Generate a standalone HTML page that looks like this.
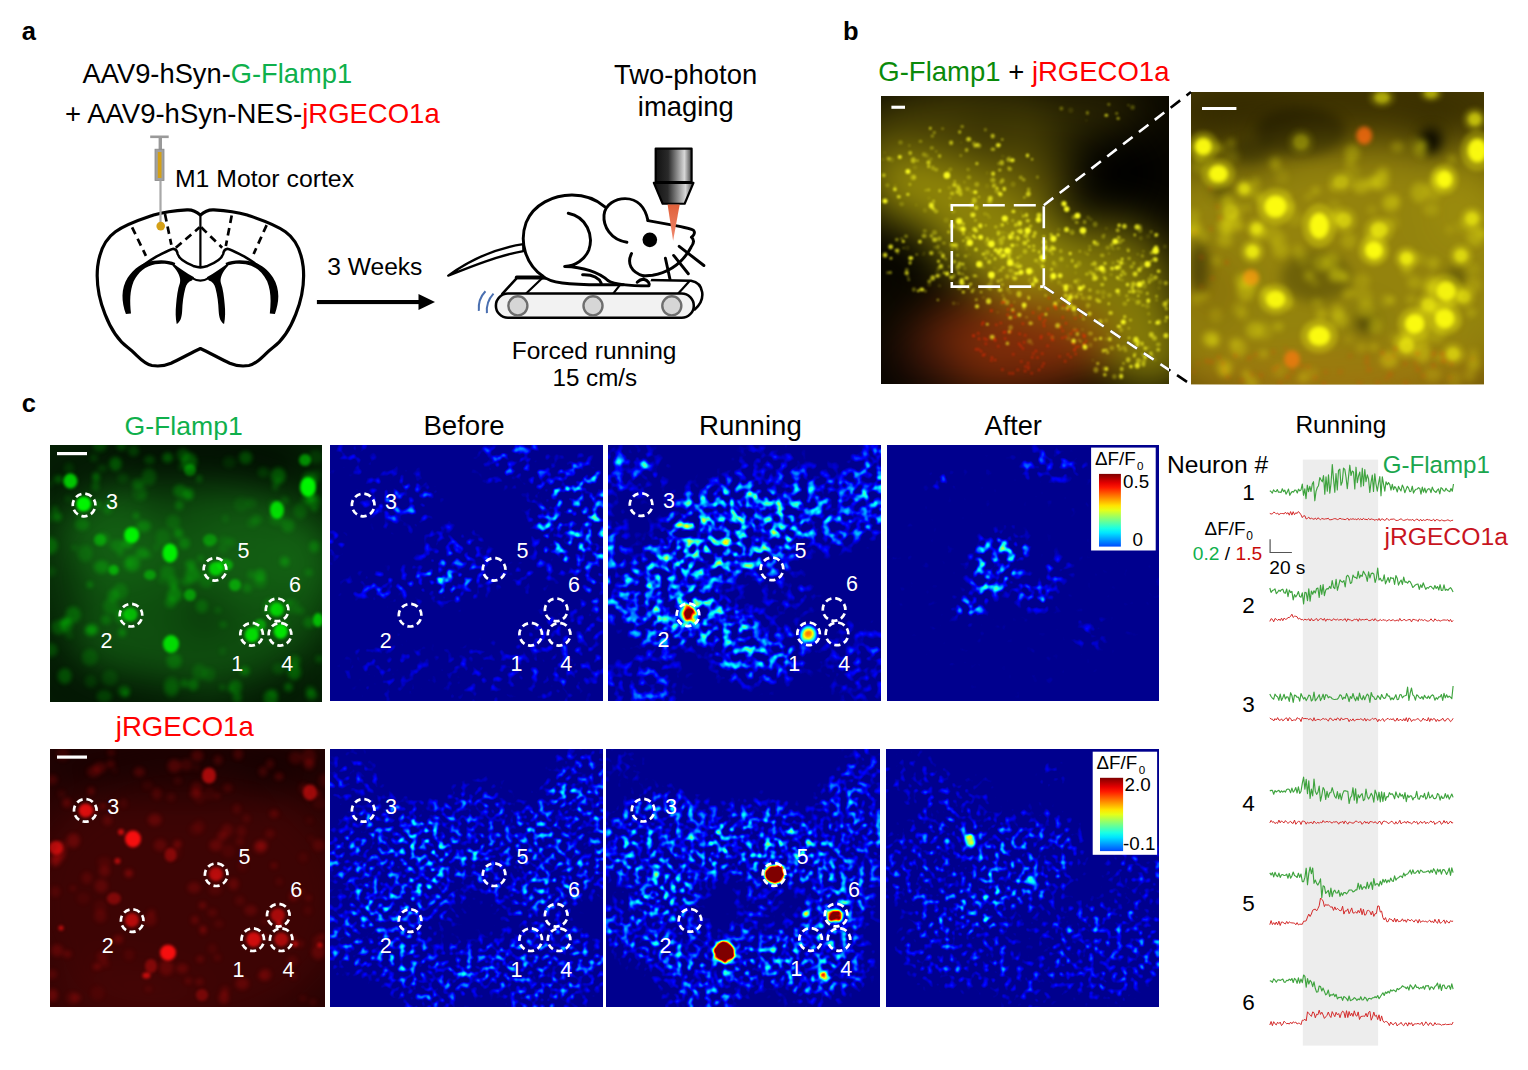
<!DOCTYPE html>
<html><head><meta charset="utf-8"><style>
html,body{margin:0;padding:0;background:#fff;}
body{width:1528px;height:1070px;overflow:hidden;position:relative;}
svg{position:absolute;left:0;top:0;}
text{font-family:"Liberation Sans",sans-serif;}
</style></head><body>
<svg width="1528" height="1070" viewBox="0 0 1528 1070">
<defs><clipPath id="cp1"><rect x="881" y="96" width="288" height="288"/></clipPath>
<filter id="fb2" x="841" y="56" width="368" height="368" filterUnits="userSpaceOnUse" color-interpolation-filters="sRGB"><feGaussianBlur stdDeviation="22"/></filter>
<filter id="fc3" x="861" y="76" width="328" height="328" filterUnits="userSpaceOnUse" color-interpolation-filters="sRGB"><feGaussianBlur stdDeviation="0.8"/></filter>
<clipPath id="cp4"><rect x="1191" y="92" width="293" height="292.5"/></clipPath>
<filter id="fb5" x="1151" y="52" width="373" height="372.5" filterUnits="userSpaceOnUse" color-interpolation-filters="sRGB"><feGaussianBlur stdDeviation="20"/></filter>
<filter id="fm6" x="1161" y="62" width="353" height="352.5" filterUnits="userSpaceOnUse" color-interpolation-filters="sRGB"><feGaussianBlur stdDeviation="6"/></filter>
<filter id="fd7" x="1171" y="72" width="333" height="332.5" filterUnits="userSpaceOnUse" color-interpolation-filters="sRGB"><feGaussianBlur stdDeviation="3"/></filter>
<filter id="fc8" x="1171" y="72" width="333" height="332.5" filterUnits="userSpaceOnUse" color-interpolation-filters="sRGB"><feGaussianBlur stdDeviation="2.2"/></filter>
<linearGradient id="jetbar" x1="0" y1="0" x2="0" y2="1"><stop offset="0.000" stop-color="#7f0000"/><stop offset="0.062" stop-color="#b20000"/><stop offset="0.125" stop-color="#e50000"/><stop offset="0.188" stop-color="#ff1900"/><stop offset="0.250" stop-color="#ff4c00"/><stop offset="0.312" stop-color="#ff7f00"/><stop offset="0.375" stop-color="#ffb200"/><stop offset="0.438" stop-color="#ffe500"/><stop offset="0.500" stop-color="#e5ff19"/><stop offset="0.562" stop-color="#b2ff4c"/><stop offset="0.625" stop-color="#7fff7f"/><stop offset="0.688" stop-color="#4cffb2"/><stop offset="0.750" stop-color="#19ffe5"/><stop offset="0.812" stop-color="#00e5ff"/><stop offset="0.875" stop-color="#00b2ff"/><stop offset="0.938" stop-color="#007fff"/><stop offset="1.000" stop-color="#004cff"/></linearGradient>
<clipPath id="cp9"><rect x="50" y="445" width="272" height="257"/></clipPath>
<filter id="fb10" x="10" y="405" width="352" height="337" filterUnits="userSpaceOnUse" color-interpolation-filters="sRGB"><feGaussianBlur stdDeviation="18"/></filter>
<filter id="fd11" x="30" y="425" width="312" height="297" filterUnits="userSpaceOnUse" color-interpolation-filters="sRGB"><feGaussianBlur stdDeviation="2.2"/></filter>
<filter id="fc12" x="30" y="425" width="312" height="297" filterUnits="userSpaceOnUse" color-interpolation-filters="sRGB"><feGaussianBlur stdDeviation="1.6"/></filter>
<clipPath id="cp13"><rect x="50" y="749" width="275" height="258"/></clipPath>
<filter id="fb14" x="10" y="709" width="355" height="338" filterUnits="userSpaceOnUse" color-interpolation-filters="sRGB"><feGaussianBlur stdDeviation="18"/></filter>
<filter id="fd15" x="30" y="729" width="315" height="298" filterUnits="userSpaceOnUse" color-interpolation-filters="sRGB"><feGaussianBlur stdDeviation="2.2"/></filter>
<filter id="fc16" x="30" y="729" width="315" height="298" filterUnits="userSpaceOnUse" color-interpolation-filters="sRGB"><feGaussianBlur stdDeviation="1.6"/></filter>
<filter id="hmtb" x="330" y="445" width="273" height="256" filterUnits="userSpaceOnUse" color-interpolation-filters="sRGB">
<feTurbulence type="fractalNoise" baseFrequency="0.13" numOctaves="4" seed="2" result="n"/>
<feColorMatrix in="n" type="matrix" values="1 0 0 0 0 1 0 0 0 0 1 0 0 0 0 0 0 0 0 1" result="ng"/>
<feComponentTransfer in="ng" result="nt"><feFuncR type="linear" slope="3" intercept="-1.41"/><feFuncG type="linear" slope="3" intercept="-1.41"/><feFuncB type="linear" slope="3" intercept="-1.41"/></feComponentTransfer>
<feGaussianBlur in="SourceGraphic" stdDeviation="10" result="sd"/>
<feColorMatrix in="sd" type="matrix" values="1 0 0 0 0 1 0 0 0 0 1 0 0 0 0 0 0 0 0 1" result="dens"/>
<feGaussianBlur in="SourceGraphic" stdDeviation="2" result="sh"/>
<feColorMatrix in="sh" type="matrix" values="0 1 0 0 0 0 1 0 0 0 0 1 0 0 0 0 0 0 0 1" result="hot"/>
<feComposite in="nt" in2="dens" operator="arithmetic" k1="0.62" k2="0" k3="0" k4="0" result="prod"/>
<feComposite in="prod" in2="hot" operator="arithmetic" k1="0" k2="1" k3="1" k4="0" result="sum"/>
<feGaussianBlur in="sum" stdDeviation="1"/>
<feComponentTransfer><feFuncR type="linear" slope="1.2" intercept="-0.05"/><feFuncG type="linear" slope="1.2" intercept="-0.05"/><feFuncB type="linear" slope="1.2" intercept="-0.05"/></feComponentTransfer>
<feComponentTransfer><feFuncR type="table" tableValues="0 0 0 0 0.5 1 1 1 0.5"/><feFuncG type="table" tableValues="0 0 0.5 1 1 1 0.5 0 0"/><feFuncB type="table" tableValues="0.56 1 1 1 0.5 0 0 0 0"/><feFuncA type="linear" slope="0" intercept="1"/></feComponentTransfer>
</filter>
<filter id="hmtr" x="608" y="445" width="273" height="256" filterUnits="userSpaceOnUse" color-interpolation-filters="sRGB">
<feTurbulence type="fractalNoise" baseFrequency="0.13" numOctaves="4" seed="5" result="n"/>
<feColorMatrix in="n" type="matrix" values="1 0 0 0 0 1 0 0 0 0 1 0 0 0 0 0 0 0 0 1" result="ng"/>
<feComponentTransfer in="ng" result="nt"><feFuncR type="linear" slope="2.5" intercept="-1"/><feFuncG type="linear" slope="2.5" intercept="-1"/><feFuncB type="linear" slope="2.5" intercept="-1"/></feComponentTransfer>
<feGaussianBlur in="SourceGraphic" stdDeviation="10" result="sd"/>
<feColorMatrix in="sd" type="matrix" values="1 0 0 0 0 1 0 0 0 0 1 0 0 0 0 0 0 0 0 1" result="dens"/>
<feGaussianBlur in="SourceGraphic" stdDeviation="2.5" result="sh"/>
<feColorMatrix in="sh" type="matrix" values="0 1 0 0 0 0 1 0 0 0 0 1 0 0 0 0 0 0 0 1" result="hot"/>
<feComposite in="nt" in2="dens" operator="arithmetic" k1="0.66" k2="0" k3="0" k4="0" result="prod"/>
<feComposite in="prod" in2="hot" operator="arithmetic" k1="0" k2="1" k3="1" k4="0" result="sum"/>
<feGaussianBlur in="sum" stdDeviation="1"/>
<feComponentTransfer><feFuncR type="linear" slope="1.2" intercept="-0.05"/><feFuncG type="linear" slope="1.2" intercept="-0.05"/><feFuncB type="linear" slope="1.2" intercept="-0.05"/></feComponentTransfer>
<feComponentTransfer><feFuncR type="table" tableValues="0 0 0 0 0.5 1 1 1 0.5"/><feFuncG type="table" tableValues="0 0 0.5 1 1 1 0.5 0 0"/><feFuncB type="table" tableValues="0.56 1 1 1 0.5 0 0 0 0"/><feFuncA type="linear" slope="0" intercept="1"/></feComponentTransfer>
</filter>
<filter id="hmta" x="887" y="445" width="272" height="256" filterUnits="userSpaceOnUse" color-interpolation-filters="sRGB">
<feTurbulence type="fractalNoise" baseFrequency="0.13" numOctaves="4" seed="8" result="n"/>
<feColorMatrix in="n" type="matrix" values="1 0 0 0 0 1 0 0 0 0 1 0 0 0 0 0 0 0 0 1" result="ng"/>
<feComponentTransfer in="ng" result="nt"><feFuncR type="linear" slope="3" intercept="-1.32"/><feFuncG type="linear" slope="3" intercept="-1.32"/><feFuncB type="linear" slope="3" intercept="-1.32"/></feComponentTransfer>
<feGaussianBlur in="SourceGraphic" stdDeviation="6" result="sd"/>
<feColorMatrix in="sd" type="matrix" values="1 0 0 0 0 1 0 0 0 0 1 0 0 0 0 0 0 0 0 1" result="dens"/>
<feGaussianBlur in="SourceGraphic" stdDeviation="2" result="sh"/>
<feColorMatrix in="sh" type="matrix" values="0 1 0 0 0 0 1 0 0 0 0 1 0 0 0 0 0 0 0 1" result="hot"/>
<feComposite in="nt" in2="dens" operator="arithmetic" k1="0.6" k2="0" k3="0" k4="0" result="prod"/>
<feComposite in="prod" in2="hot" operator="arithmetic" k1="0" k2="1" k3="1" k4="0" result="sum"/>
<feGaussianBlur in="sum" stdDeviation="1"/>
<feComponentTransfer><feFuncR type="linear" slope="1.2" intercept="-0.05"/><feFuncG type="linear" slope="1.2" intercept="-0.05"/><feFuncB type="linear" slope="1.2" intercept="-0.05"/></feComponentTransfer>
<feComponentTransfer><feFuncR type="table" tableValues="0 0 0 0 0.5 1 1 1 0.5"/><feFuncG type="table" tableValues="0 0 0.5 1 1 1 0.5 0 0"/><feFuncB type="table" tableValues="0.56 1 1 1 0.5 0 0 0 0"/><feFuncA type="linear" slope="0" intercept="1"/></feComponentTransfer>
</filter>
<filter id="hmbb" x="330" y="749" width="273" height="258" filterUnits="userSpaceOnUse" color-interpolation-filters="sRGB">
<feTurbulence type="fractalNoise" baseFrequency="0.18" numOctaves="3" seed="11" result="n"/>
<feColorMatrix in="n" type="matrix" values="1 0 0 0 0 1 0 0 0 0 1 0 0 0 0 0 0 0 0 1" result="ng"/>
<feComponentTransfer in="ng" result="nt"><feFuncR type="linear" slope="3" intercept="-1.35"/><feFuncG type="linear" slope="3" intercept="-1.35"/><feFuncB type="linear" slope="3" intercept="-1.35"/></feComponentTransfer>
<feGaussianBlur in="SourceGraphic" stdDeviation="9" result="sd"/>
<feColorMatrix in="sd" type="matrix" values="1 0 0 0 0 1 0 0 0 0 1 0 0 0 0 0 0 0 0 1" result="dens"/>
<feGaussianBlur in="SourceGraphic" stdDeviation="2" result="sh"/>
<feColorMatrix in="sh" type="matrix" values="0 1 0 0 0 0 1 0 0 0 0 1 0 0 0 0 0 0 0 1" result="hot"/>
<feComposite in="nt" in2="dens" operator="arithmetic" k1="0.65" k2="0" k3="0" k4="0" result="prod"/>
<feComposite in="prod" in2="hot" operator="arithmetic" k1="0" k2="1" k3="1" k4="0" result="sum"/>
<feGaussianBlur in="sum" stdDeviation="0.9"/>
<feComponentTransfer><feFuncR type="linear" slope="1.2" intercept="-0.05"/><feFuncG type="linear" slope="1.2" intercept="-0.05"/><feFuncB type="linear" slope="1.2" intercept="-0.05"/></feComponentTransfer>
<feComponentTransfer><feFuncR type="table" tableValues="0 0 0 0 0.5 1 1 1 0.5"/><feFuncG type="table" tableValues="0 0 0.5 1 1 1 0.5 0 0"/><feFuncB type="table" tableValues="0.56 1 1 1 0.5 0 0 0 0"/><feFuncA type="linear" slope="0" intercept="1"/></feComponentTransfer>
</filter>
<filter id="hmbr" x="606" y="749" width="274" height="258" filterUnits="userSpaceOnUse" color-interpolation-filters="sRGB">
<feTurbulence type="fractalNoise" baseFrequency="0.17" numOctaves="3" seed="13" result="n"/>
<feColorMatrix in="n" type="matrix" values="1 0 0 0 0 1 0 0 0 0 1 0 0 0 0 0 0 0 0 1" result="ng"/>
<feComponentTransfer in="ng" result="nt"><feFuncR type="linear" slope="2.8" intercept="-1.176"/><feFuncG type="linear" slope="2.8" intercept="-1.176"/><feFuncB type="linear" slope="2.8" intercept="-1.176"/></feComponentTransfer>
<feGaussianBlur in="SourceGraphic" stdDeviation="9" result="sd"/>
<feColorMatrix in="sd" type="matrix" values="1 0 0 0 0 1 0 0 0 0 1 0 0 0 0 0 0 0 0 1" result="dens"/>
<feGaussianBlur in="SourceGraphic" stdDeviation="1.5" result="sh"/>
<feColorMatrix in="sh" type="matrix" values="0 1 0 0 0 0 1 0 0 0 0 1 0 0 0 0 0 0 0 1" result="hot"/>
<feComposite in="nt" in2="dens" operator="arithmetic" k1="0.65" k2="0" k3="0" k4="0" result="prod"/>
<feComposite in="prod" in2="hot" operator="arithmetic" k1="0" k2="1" k3="1" k4="0" result="sum"/>
<feGaussianBlur in="sum" stdDeviation="0.9"/>
<feComponentTransfer><feFuncR type="linear" slope="1.2" intercept="-0.05"/><feFuncG type="linear" slope="1.2" intercept="-0.05"/><feFuncB type="linear" slope="1.2" intercept="-0.05"/></feComponentTransfer>
<feComponentTransfer><feFuncR type="table" tableValues="0 0 0 0 0.5 1 1 1 0.5"/><feFuncG type="table" tableValues="0 0 0.5 1 1 1 0.5 0 0"/><feFuncB type="table" tableValues="0.56 1 1 1 0.5 0 0 0 0"/><feFuncA type="linear" slope="0" intercept="1"/></feComponentTransfer>
</filter>
<filter id="hmba" x="886" y="749" width="273" height="258" filterUnits="userSpaceOnUse" color-interpolation-filters="sRGB">
<feTurbulence type="fractalNoise" baseFrequency="0.18" numOctaves="3" seed="17" result="n"/>
<feColorMatrix in="n" type="matrix" values="1 0 0 0 0 1 0 0 0 0 1 0 0 0 0 0 0 0 0 1" result="ng"/>
<feComponentTransfer in="ng" result="nt"><feFuncR type="linear" slope="3" intercept="-1.41"/><feFuncG type="linear" slope="3" intercept="-1.41"/><feFuncB type="linear" slope="3" intercept="-1.41"/></feComponentTransfer>
<feGaussianBlur in="SourceGraphic" stdDeviation="9" result="sd"/>
<feColorMatrix in="sd" type="matrix" values="1 0 0 0 0 1 0 0 0 0 1 0 0 0 0 0 0 0 0 1" result="dens"/>
<feGaussianBlur in="SourceGraphic" stdDeviation="1.5" result="sh"/>
<feColorMatrix in="sh" type="matrix" values="0 1 0 0 0 0 1 0 0 0 0 1 0 0 0 0 0 0 0 1" result="hot"/>
<feComposite in="nt" in2="dens" operator="arithmetic" k1="0.6" k2="0" k3="0" k4="0" result="prod"/>
<feComposite in="prod" in2="hot" operator="arithmetic" k1="0" k2="1" k3="1" k4="0" result="sum"/>
<feGaussianBlur in="sum" stdDeviation="0.9"/>
<feComponentTransfer><feFuncR type="linear" slope="1.2" intercept="-0.05"/><feFuncG type="linear" slope="1.2" intercept="-0.05"/><feFuncB type="linear" slope="1.2" intercept="-0.05"/></feComponentTransfer>
<feComponentTransfer><feFuncR type="table" tableValues="0 0 0 0 0.5 1 1 1 0.5"/><feFuncG type="table" tableValues="0 0 0.5 1 1 1 0.5 0 0"/><feFuncB type="table" tableValues="0.56 1 1 1 0.5 0 0 0 0"/><feFuncA type="linear" slope="0" intercept="1"/></feComponentTransfer>
</filter></defs>
<text x="21.8" y="39.7" font-size="25.50" font-weight="bold"><tspan fill="#000">a</tspan></text>
<text x="82.6" y="83.0" font-size="27.30"><tspan fill="#000">AAV9-hSyn-</tspan><tspan fill="#0fb04c">G-Flamp1</tspan></text>
<text x="65.0" y="123.4" font-size="27.50"><tspan fill="#000">+ AAV9-hSyn-NES-</tspan><tspan fill="#ff0000">jRGECO1a</tspan></text>
<text x="174.9" y="186.9" font-size="24.80"><tspan fill="#000">M1 Motor cortex</tspan></text>
<text x="327.2" y="274.6" font-size="24.60"><tspan fill="#000">3 Weeks</tspan></text>
<text x="614.0" y="83.5" font-size="27.40"><tspan fill="#000">Two-photon</tspan></text>
<text x="637.8" y="116.3" font-size="27.40"><tspan fill="#000">imaging</tspan></text>
<text x="511.7" y="358.6" font-size="24.50"><tspan fill="#000">Forced running</tspan></text>
<text x="552.5" y="386.4" font-size="24.20"><tspan fill="#000">15 cm/s</tspan></text>
<g transform="translate(90 200) scale(0.158856)" fill="none" stroke="#000" stroke-linejoin="round" stroke-linecap="round">
<path stroke-width="20" fill="#fff" d="M695,95 C670,72 640,60 610,62 C540,66 470,74 400,95 C320,122 230,150 160,200 C90,250 60,320 48,420 C38,520 55,620 95,720 C130,810 170,880 240,930 C300,975 330,1030 390,1042 C430,1048 470,1045 510,1028 C580,995 640,960 695,935 C750,960 810,995 880,1028 C920,1045 960,1048 1000,1042 C1060,1030 1090,975 1150,930 C1220,880 1260,810 1295,720 C1335,620 1352,520 1342,420 C1330,320 1300,250 1230,200 C1160,150 1070,122 990,95 C920,74 850,66 780,62 C750,60 720,72 695,95 Z"/>
<path stroke-width="14" d="M695,100 L695,420"/>
<path stroke-width="16" d="M280,458 C320,420 360,390 420,355 C460,335 500,312 520,308 C540,306 548,318 552,340 C560,370 600,395 650,415 C675,423 690,424 695,424 C700,424 715,423 740,415 C790,395 830,370 838,340 C842,318 850,306 870,308 C890,312 930,335 970,355 C1030,390 1070,420 1110,458"/>
<g>
<path stroke="none" fill="#000" d="M226,718 C198,640 193,560 238,488 C278,428 330,392 400,382 C450,375 500,378 537,396 L530,414 C490,400 450,398 410,404 C348,416 305,452 275,512 C250,572 250,640 258,714 Z"/>
<path stroke="none" fill="#000" d="M522,398 C565,428 605,462 655,486 L642,506 C620,512 606,530 600,556 C588,600 582,650 580,700 C577,742 568,768 546,780 C538,742 538,700 542,660 C546,610 552,560 566,522 C574,492 556,452 520,414 Z"/>
</g>
<g transform="translate(1390 0) scale(-1 1)">
<path stroke="none" fill="#000" d="M226,718 C198,640 193,560 238,488 C278,428 330,392 400,382 C450,375 500,378 537,396 L530,414 C490,400 450,398 410,404 C348,416 305,452 275,512 C250,572 250,640 258,714 Z"/>
<path stroke="none" fill="#000" d="M522,398 C565,428 605,462 655,486 L642,506 C620,512 606,530 600,556 C588,600 582,650 580,700 C577,742 568,768 546,780 C538,742 538,700 542,660 C546,610 552,560 566,522 C574,492 556,452 520,414 Z"/>
</g>
<path stroke-width="14" d="M640,490 C665,505 680,508 695,508 C710,508 725,505 750,490"/>
<g stroke-width="17" stroke-dasharray="48,32" stroke-linecap="butt">
<line x1="265" y1="172" x2="352" y2="352"/>
<line x1="472" y1="88" x2="512" y2="282"/>
<line x1="540" y1="300" x2="690" y2="172"/>
<line x1="700" y1="172" x2="832" y2="300"/>
<line x1="892" y1="98" x2="855" y2="290"/>
<line x1="1112" y1="158" x2="1030" y2="340"/>
</g>
</g>
<g>
<rect x="150.2" y="135.5" width="18.5" height="2.6" fill="#999"/>
<rect x="158.6" y="137" width="3.4" height="13" fill="#999"/>
<rect x="155" y="149.2" width="9" height="31.4" fill="#a0a0a0" stroke="#888" stroke-width="0.8"/>
<rect x="157.8" y="152" width="3.7" height="26" fill="#d4a017"/>
<rect x="159.4" y="180.5" width="2.2" height="43" fill="#a8a8a8"/>
<circle cx="160.7" cy="226.1" r="4.3" fill="#d4a017"/>
</g>
<rect x="316.9" y="300" width="103" height="4.1" fill="#000"/>
<path d="M418.5,294 L435,302 L418.5,310 Z" fill="#000"/>
<defs><linearGradient id="objg" x1="0" x2="1" y1="0" y2="0"><stop offset="0" stop-color="#111"/><stop offset="0.35" stop-color="#2a2a2a"/><stop offset="0.8" stop-color="#d8d8d8"/><stop offset="1" stop-color="#444"/></linearGradient><linearGradient id="beamg" x1="0" x2="0" y1="0" y2="1"><stop offset="0" stop-color="#e0603a"/><stop offset="1" stop-color="#f08a70"/></linearGradient></defs>
<g transform="translate(440 140) scale(0.183250)" stroke="#000" stroke-linejoin="round" stroke-linecap="round">
<rect x="1177" y="47" width="196" height="183" fill="url(#objg)" stroke-width="12"/>
<path d="M1167,234 L1383,234 L1335,348 L1215,348 Z" fill="url(#objg)" stroke-width="12"/>
<path d="M340,840 L420,752 L1370,768 C1440,780 1455,870 1390,925" fill="#fff" stroke-width="14"/>
<path d="M418,750 L598,750" stroke-width="20"/>
<line x1="560" y1="752" x2="470" y2="838" stroke-width="12"/>
<line x1="1005" y1="762" x2="945" y2="838" stroke-width="12"/>
<line x1="1362" y1="770" x2="1300" y2="838" stroke-width="12"/>
<rect x="305" y="838" width="1080" height="132" rx="66" fill="#f2f2f2" stroke-width="14"/>
<circle cx="425" cy="905" r="52" fill="#d6d6d6" stroke="#6e6e6e" stroke-width="13"/>
<circle cx="835" cy="905" r="52" fill="#d6d6d6" stroke="#6e6e6e" stroke-width="13"/>
<circle cx="1265" cy="905" r="52" fill="#d6d6d6" stroke="#6e6e6e" stroke-width="13"/>
<path d="M248,825 C222,852 208,890 212,932 M292,838 C266,866 252,905 256,945" fill="none" stroke="#4a6fb0" stroke-width="11" stroke-linecap="butt"/>
<path d="M455,568 C320,588 170,650 45,740 C170,690 320,630 455,606 Z" fill="#fff" stroke-width="13"/>
<path d="M560,742 C470,680 430,560 470,450 C510,350 620,300 720,300 C800,300 860,330 900,365 L1135,440 L1300,470 C1340,480 1380,485 1385,495 C1395,510 1380,525 1375,530 C1390,540 1385,560 1370,580 C1330,660 1260,720 1160,738 L1140,795 L1000,790 L880,790 C700,790 600,780 560,742 Z" fill="#fff" stroke="none"/>
<g fill="none" stroke-width="16">
<path d="M560,742 C470,680 430,560 470,450 C510,350 620,300 720,300 C800,300 860,330 900,365"/>
<path d="M1020,558 C930,545 890,470 895,410 C900,350 960,320 1010,320 C1080,320 1120,370 1135,440"/>
<path d="M1135,440 L1300,470 C1340,480 1380,485 1385,495 C1395,510 1380,525 1372,530 C1390,545 1385,565 1370,585 C1330,660 1260,720 1160,738 L1110,742"/>
<path d="M1045,620 C1020,670 1040,722 1112,742"/>
<path d="M700,400 C800,420 840,520 812,600 C792,650 740,688 680,690 C780,692 870,722 918,768"/>
<path d="M778,735 C840,733 868,752 880,782"/>
<path d="M560,742 C600,780 700,790 880,790 L1000,790"/>
<path d="M918,768 C960,792 1040,796 1140,796 C1146,784 1136,766 1112,760 C1092,760 1082,770 1076,776"/>
<path d="M1305,580 L1440,685 M1275,630 L1355,730 M1230,645 L1255,760"/>
</g>
<circle cx="1145" cy="545" r="40" fill="#000" stroke="none"/>
<path d="M1242,352 L1308,352 L1272,550 Z" fill="url(#beamg)" stroke="none"/>
</g>
<text x="843.0" y="39.5" font-size="25.50" font-weight="bold"><tspan fill="#000">b</tspan></text>
<text x="878.3" y="81.2" font-size="27.50"><tspan fill="#0a8a0a">G-Flamp1</tspan><tspan fill="#000"> + </tspan><tspan fill="#ff0000">jRGECO1a</tspan></text>
<g clip-path="url(#cp1)">
<rect x="881" y="96" width="288" height="288" fill="#0a0800"/>
<g filter="url(#fb2)"><ellipse cx="971.0" cy="146.0" rx="130.0" ry="60.0" fill="#4a4204" fill-opacity="0.90"/><ellipse cx="926.0" cy="191.0" rx="60.0" ry="35.0" fill="#8a800a" fill-opacity="0.90"/><ellipse cx="1011.0" cy="186.0" rx="60.0" ry="30.0" fill="#655a06" fill-opacity="0.80"/><ellipse cx="1031.0" cy="261.0" rx="190.0" ry="50.0" fill="#968c0a" fill-opacity="0.90" transform="rotate(33 1031 261)"/><ellipse cx="1111.0" cy="296.0" rx="65.0" ry="75.0" fill="#847a08" fill-opacity="0.85"/><ellipse cx="1006.0" cy="346.0" rx="100.0" ry="45.0" fill="#8a300a" fill-opacity="0.90"/><ellipse cx="921.0" cy="361.0" rx="40.0" ry="30.0" fill="#30120a" fill-opacity="0.70"/><ellipse cx="1149.0" cy="364.0" rx="35.0" ry="30.0" fill="#968c0a" fill-opacity="0.60"/><ellipse cx="909.0" cy="251.0" rx="24.0" ry="32.0" fill="#000" fill-opacity="0.90"/><ellipse cx="1119.0" cy="174.0" rx="52.0" ry="48.0" fill="#000" fill-opacity="0.90"/><ellipse cx="1071.0" cy="136.0" rx="20.0" ry="30.0" fill="#000" fill-opacity="0.50"/><ellipse cx="889.0" cy="381.0" rx="30.0" ry="30.0" fill="#000" fill-opacity="0.60"/><ellipse cx="991.0" cy="126.0" rx="20.0" ry="12.0" fill="#000" fill-opacity="0.40"/><ellipse cx="1101.0" cy="110.0" rx="45.0" ry="16.0" fill="#4a4004" fill-opacity="0.75"/><ellipse cx="1021.0" cy="266.0" rx="50.0" ry="28.0" fill="#a89e10" fill-opacity="0.50"/></g>
<g filter="url(#fc3)"><ellipse cx="1066.8" cy="286.3" rx="2.0" ry="2.2" fill="#ffff20" fill-opacity="0.68"/><ellipse cx="1073.9" cy="308.4" rx="2.5" ry="2.8" fill="#ffff20" fill-opacity="0.80"/><ellipse cx="912.3" cy="258.0" rx="1.1" ry="1.1" fill="#ffff20" fill-opacity="0.82"/><ellipse cx="994.9" cy="184.8" rx="2.1" ry="2.4" fill="#ffff20" fill-opacity="0.15"/><ellipse cx="1076.7" cy="222.3" rx="1.8" ry="1.6" fill="#ffff20" fill-opacity="0.47"/><ellipse cx="930.8" cy="159.1" rx="2.0" ry="1.6" fill="#ffff20" fill-opacity="0.22"/><ellipse cx="995.0" cy="258.8" rx="1.5" ry="1.8" fill="#ffff20" fill-opacity="0.66"/><ellipse cx="1032.3" cy="269.7" rx="1.3" ry="1.5" fill="#ffff20" fill-opacity="0.17"/><ellipse cx="1069.0" cy="334.5" rx="2.0" ry="1.7" fill="#ffff20" fill-opacity="0.09"/><ellipse cx="1091.3" cy="272.8" rx="2.4" ry="2.1" fill="#ffff20" fill-opacity="0.22"/><ellipse cx="912.8" cy="177.3" rx="2.6" ry="3.0" fill="#ffff20" fill-opacity="0.27"/><ellipse cx="1057.7" cy="325.5" rx="2.5" ry="2.6" fill="#ffff20" fill-opacity="0.58"/><ellipse cx="939.8" cy="190.8" rx="1.4" ry="1.7" fill="#ffff20" fill-opacity="0.59"/><ellipse cx="1149.7" cy="279.7" rx="2.5" ry="3.0" fill="#ffff20" fill-opacity="0.28"/><ellipse cx="1084.2" cy="235.5" rx="1.6" ry="1.4" fill="#ffff20" fill-opacity="0.17"/><ellipse cx="991.8" cy="255.2" rx="1.2" ry="1.1" fill="#ffff20" fill-opacity="0.52"/><ellipse cx="1117.9" cy="242.7" rx="1.1" ry="1.2" fill="#ffff20" fill-opacity="0.31"/><ellipse cx="1087.4" cy="112.9" rx="1.6" ry="1.8" fill="#ffff20" fill-opacity="0.42"/><ellipse cx="1121.1" cy="275.2" rx="1.6" ry="1.6" fill="#ffff20" fill-opacity="0.60"/><ellipse cx="958.0" cy="303.6" rx="1.2" ry="1.4" fill="#ffff20" fill-opacity="0.10"/><ellipse cx="987.1" cy="186.1" rx="2.2" ry="2.5" fill="#ffff20" fill-opacity="0.10"/><ellipse cx="1155.5" cy="277.4" rx="2.3" ry="2.2" fill="#ffff20" fill-opacity="0.50"/><ellipse cx="937.5" cy="248.8" rx="1.1" ry="0.9" fill="#ffff20" fill-opacity="0.20"/><ellipse cx="1024.8" cy="243.0" rx="2.5" ry="2.2" fill="#ffff20" fill-opacity="0.65"/><ellipse cx="997.0" cy="190.5" rx="2.5" ry="2.9" fill="#ffff20" fill-opacity="0.31"/><ellipse cx="1012.7" cy="309.9" rx="1.6" ry="1.6" fill="#ffff20" fill-opacity="0.67"/><ellipse cx="972.2" cy="291.5" rx="1.3" ry="1.4" fill="#ffff20" fill-opacity="0.69"/><ellipse cx="921.8" cy="289.5" rx="2.4" ry="1.9" fill="#ffff20" fill-opacity="0.82"/><ellipse cx="1024.3" cy="197.4" rx="1.2" ry="1.2" fill="#ffff20" fill-opacity="0.52"/><ellipse cx="1024.1" cy="304.9" rx="2.5" ry="2.3" fill="#ffff20" fill-opacity="0.80"/><ellipse cx="1019.3" cy="274.0" rx="1.9" ry="1.8" fill="#ffff20" fill-opacity="0.29"/><ellipse cx="966.8" cy="248.8" rx="1.4" ry="1.1" fill="#ffff20" fill-opacity="0.18"/><ellipse cx="1090.4" cy="345.0" rx="2.1" ry="2.6" fill="#ffff20" fill-opacity="0.18"/><ellipse cx="945.8" cy="259.1" rx="1.2" ry="1.4" fill="#ffff20" fill-opacity="0.46"/><ellipse cx="1000.6" cy="270.3" rx="1.7" ry="1.5" fill="#ffff20" fill-opacity="0.51"/><ellipse cx="1003.4" cy="237.8" rx="2.3" ry="2.3" fill="#ffff20" fill-opacity="0.37"/><ellipse cx="1021.3" cy="212.6" rx="1.2" ry="1.4" fill="#ffff20" fill-opacity="0.10"/><ellipse cx="1165.0" cy="246.5" rx="1.8" ry="2.1" fill="#ffff20" fill-opacity="0.16"/><ellipse cx="1100.4" cy="321.7" rx="2.2" ry="2.6" fill="#ffff20" fill-opacity="0.54"/><ellipse cx="1102.2" cy="255.3" rx="2.3" ry="1.9" fill="#ffff20" fill-opacity="0.38"/><ellipse cx="952.6" cy="211.8" rx="1.3" ry="1.5" fill="#ffff20" fill-opacity="0.28"/><ellipse cx="1109.8" cy="339.2" rx="1.8" ry="2.1" fill="#ffff20" fill-opacity="0.74"/><ellipse cx="992.9" cy="180.0" rx="2.6" ry="2.5" fill="#ffff20" fill-opacity="0.42"/><ellipse cx="1141.9" cy="267.1" rx="2.2" ry="2.2" fill="#ffff20" fill-opacity="0.27"/><ellipse cx="1089.8" cy="249.8" rx="1.7" ry="1.5" fill="#ffff20" fill-opacity="0.34"/><ellipse cx="1019.0" cy="294.1" rx="2.6" ry="3.1" fill="#ffff20" fill-opacity="0.54"/><ellipse cx="1071.7" cy="288.2" rx="1.8" ry="1.7" fill="#ffff20" fill-opacity="0.14"/><ellipse cx="1138.4" cy="342.0" rx="1.5" ry="1.7" fill="#ffff20" fill-opacity="0.75"/><ellipse cx="1039.3" cy="252.0" rx="1.6" ry="1.8" fill="#ffff20" fill-opacity="0.67"/><ellipse cx="928.5" cy="162.5" rx="2.1" ry="2.3" fill="#ffff20" fill-opacity="0.65"/><ellipse cx="968.1" cy="169.5" rx="1.6" ry="1.8" fill="#ffff20" fill-opacity="0.27"/><ellipse cx="883.8" cy="175.3" rx="1.8" ry="2.0" fill="#ffff20" fill-opacity="0.59"/><ellipse cx="1072.2" cy="260.9" rx="1.5" ry="1.8" fill="#ffff20" fill-opacity="0.56"/><ellipse cx="1111.7" cy="244.8" rx="2.0" ry="1.6" fill="#ffff20" fill-opacity="0.47"/><ellipse cx="934.3" cy="132.6" rx="1.5" ry="1.6" fill="#ffff20" fill-opacity="0.40"/><ellipse cx="961.3" cy="282.6" rx="2.3" ry="2.5" fill="#ffff20" fill-opacity="0.69"/><ellipse cx="1017.7" cy="237.3" rx="1.6" ry="1.7" fill="#ffff20" fill-opacity="0.63"/><ellipse cx="998.1" cy="145.2" rx="2.3" ry="2.2" fill="#ffff20" fill-opacity="0.73"/><ellipse cx="1085.0" cy="347.0" rx="2.4" ry="2.6" fill="#ffff20" fill-opacity="0.85"/><ellipse cx="1154.5" cy="338.0" rx="2.5" ry="2.6" fill="#ffff20" fill-opacity="0.46"/><ellipse cx="1045.9" cy="314.3" rx="1.3" ry="1.5" fill="#ffff20" fill-opacity="0.81"/><ellipse cx="1020.3" cy="223.1" rx="1.8" ry="2.0" fill="#ffff20" fill-opacity="0.62"/><ellipse cx="1053.9" cy="248.7" rx="2.2" ry="1.9" fill="#ffff20" fill-opacity="0.67"/><ellipse cx="1020.8" cy="177.5" rx="2.0" ry="2.1" fill="#ffff20" fill-opacity="0.37"/><ellipse cx="1121.7" cy="369.0" rx="2.0" ry="2.3" fill="#ffff20" fill-opacity="0.55"/><ellipse cx="1076.3" cy="266.7" rx="2.2" ry="1.8" fill="#ffff20" fill-opacity="0.18"/><ellipse cx="1113.1" cy="262.9" rx="1.8" ry="1.9" fill="#ffff20" fill-opacity="0.22"/><ellipse cx="966.3" cy="188.7" rx="2.1" ry="2.2" fill="#ffff20" fill-opacity="0.11"/><ellipse cx="969.6" cy="233.5" rx="1.8" ry="1.6" fill="#ffff20" fill-opacity="0.12"/><ellipse cx="968.2" cy="284.9" rx="1.3" ry="1.2" fill="#ffff20" fill-opacity="0.20"/><ellipse cx="908.8" cy="279.9" rx="1.4" ry="1.1" fill="#ffff20" fill-opacity="0.41"/><ellipse cx="1018.2" cy="239.1" rx="1.7" ry="1.7" fill="#ffff20" fill-opacity="0.51"/><ellipse cx="1107.8" cy="334.6" rx="1.5" ry="1.7" fill="#ffff20" fill-opacity="0.09"/><ellipse cx="1142.4" cy="255.9" rx="1.7" ry="1.6" fill="#ffff20" fill-opacity="0.36"/><ellipse cx="998.5" cy="163.7" rx="1.3" ry="1.4" fill="#ffff20" fill-opacity="0.33"/><ellipse cx="956.1" cy="269.0" rx="1.2" ry="1.2" fill="#ffff20" fill-opacity="0.14"/><ellipse cx="929.3" cy="281.4" rx="1.9" ry="1.8" fill="#ffff20" fill-opacity="0.50"/><ellipse cx="1095.9" cy="369.8" rx="2.5" ry="2.9" fill="#ffff20" fill-opacity="0.37"/><ellipse cx="1010.6" cy="327.6" rx="2.3" ry="2.5" fill="#ffff20" fill-opacity="0.33"/><ellipse cx="1052.3" cy="253.7" rx="1.3" ry="1.4" fill="#ffff20" fill-opacity="0.48"/><ellipse cx="913.3" cy="160.3" rx="2.5" ry="3.0" fill="#ffff20" fill-opacity="0.52"/><ellipse cx="987.1" cy="173.0" rx="1.6" ry="1.9" fill="#ffff20" fill-opacity="0.09"/><ellipse cx="1165.5" cy="320.9" rx="1.3" ry="1.3" fill="#ffff20" fill-opacity="0.53"/><ellipse cx="1051.6" cy="269.4" rx="1.3" ry="1.4" fill="#ffff20" fill-opacity="0.77"/><ellipse cx="1074.8" cy="329.3" rx="1.7" ry="1.6" fill="#ffff20" fill-opacity="0.23"/><ellipse cx="985.4" cy="129.8" rx="1.5" ry="1.8" fill="#ffff20" fill-opacity="0.34"/><ellipse cx="974.3" cy="200.5" rx="2.5" ry="3.0" fill="#ffff20" fill-opacity="0.51"/><ellipse cx="1133.8" cy="263.3" rx="1.5" ry="1.8" fill="#ffff20" fill-opacity="0.43"/><ellipse cx="975.1" cy="192.2" rx="1.7" ry="1.6" fill="#ffff20" fill-opacity="0.86"/><ellipse cx="995.8" cy="226.9" rx="1.8" ry="1.7" fill="#ffff20" fill-opacity="0.41"/><ellipse cx="1117.3" cy="267.1" rx="1.3" ry="1.3" fill="#ffff20" fill-opacity="0.39"/><ellipse cx="976.9" cy="163.6" rx="1.5" ry="1.7" fill="#ffff20" fill-opacity="0.71"/><ellipse cx="987.3" cy="241.8" rx="1.1" ry="1.1" fill="#ffff20" fill-opacity="0.26"/><ellipse cx="1079.0" cy="263.6" rx="2.5" ry="2.8" fill="#ffff20" fill-opacity="0.24"/><ellipse cx="903.3" cy="241.4" rx="1.5" ry="1.3" fill="#ffff20" fill-opacity="0.86"/><ellipse cx="1029.4" cy="246.7" rx="1.5" ry="1.6" fill="#ffff20" fill-opacity="0.41"/><ellipse cx="976.2" cy="207.7" rx="2.1" ry="2.2" fill="#ffff20" fill-opacity="0.64"/><ellipse cx="959.0" cy="229.7" rx="1.3" ry="1.4" fill="#ffff20" fill-opacity="0.28"/><ellipse cx="1151.2" cy="231.9" rx="1.9" ry="1.8" fill="#ffff20" fill-opacity="0.28"/><ellipse cx="1061.4" cy="108.5" rx="1.9" ry="1.9" fill="#ffff20" fill-opacity="0.32"/><ellipse cx="1148.2" cy="236.2" rx="2.2" ry="2.3" fill="#ffff20" fill-opacity="0.11"/><ellipse cx="1117.4" cy="277.5" rx="1.5" ry="1.5" fill="#ffff20" fill-opacity="0.79"/><ellipse cx="1120.4" cy="262.4" rx="2.4" ry="2.5" fill="#ffff20" fill-opacity="0.09"/><ellipse cx="1044.8" cy="249.2" rx="2.3" ry="2.2" fill="#ffff20" fill-opacity="0.49"/><ellipse cx="1007.2" cy="276.5" rx="2.2" ry="2.3" fill="#ffff20" fill-opacity="0.42"/><ellipse cx="976.8" cy="184.4" rx="2.5" ry="2.4" fill="#ffff20" fill-opacity="0.35"/><ellipse cx="1107.7" cy="247.7" rx="2.4" ry="2.1" fill="#ffff20" fill-opacity="0.28"/><ellipse cx="1012.2" cy="160.4" rx="2.3" ry="1.9" fill="#ffff20" fill-opacity="0.72"/><ellipse cx="1015.2" cy="265.7" rx="2.1" ry="2.1" fill="#ffff20" fill-opacity="0.27"/><ellipse cx="1104.3" cy="368.9" rx="2.3" ry="2.6" fill="#ffff20" fill-opacity="0.17"/><ellipse cx="1103.2" cy="351.0" rx="1.8" ry="1.9" fill="#ffff20" fill-opacity="0.43"/><ellipse cx="1013.2" cy="245.3" rx="1.6" ry="1.4" fill="#ffff20" fill-opacity="0.50"/><ellipse cx="1033.6" cy="250.3" rx="2.3" ry="1.9" fill="#ffff20" fill-opacity="0.23"/><ellipse cx="1128.2" cy="359.8" rx="2.3" ry="2.6" fill="#ffff20" fill-opacity="0.57"/><ellipse cx="1108.8" cy="303.8" rx="1.1" ry="1.2" fill="#ffff20" fill-opacity="0.85"/><ellipse cx="1070.8" cy="110.2" rx="2.6" ry="2.8" fill="#ffff20" fill-opacity="0.11"/><ellipse cx="952.2" cy="245.2" rx="2.4" ry="2.1" fill="#ffff20" fill-opacity="0.55"/><ellipse cx="1013.1" cy="184.3" rx="2.5" ry="2.7" fill="#ffff20" fill-opacity="0.17"/><ellipse cx="978.3" cy="264.0" rx="1.5" ry="1.8" fill="#ffff20" fill-opacity="0.18"/><ellipse cx="1088.1" cy="217.5" rx="2.0" ry="1.9" fill="#ffff20" fill-opacity="0.18"/><ellipse cx="1106.1" cy="338.9" rx="2.0" ry="1.7" fill="#ffff20" fill-opacity="0.15"/><ellipse cx="1133.6" cy="299.6" rx="1.7" ry="1.4" fill="#ffff20" fill-opacity="0.12"/><ellipse cx="993.1" cy="173.8" rx="2.0" ry="2.2" fill="#ffff20" fill-opacity="0.76"/><ellipse cx="998.2" cy="234.8" rx="1.3" ry="1.3" fill="#ffff20" fill-opacity="0.29"/><ellipse cx="995.5" cy="249.9" rx="2.0" ry="2.0" fill="#ffff20" fill-opacity="0.81"/><ellipse cx="999.5" cy="193.4" rx="1.7" ry="1.4" fill="#ffff20" fill-opacity="0.60"/><ellipse cx="1066.2" cy="295.5" rx="1.3" ry="1.4" fill="#ffff20" fill-opacity="0.44"/><ellipse cx="962.5" cy="283.6" rx="2.5" ry="2.5" fill="#ffff20" fill-opacity="0.53"/><ellipse cx="1129.4" cy="337.7" rx="1.5" ry="1.5" fill="#ffff20" fill-opacity="0.25"/><ellipse cx="1090.2" cy="272.1" rx="2.2" ry="2.2" fill="#ffff20" fill-opacity="0.17"/><ellipse cx="948.6" cy="232.1" rx="1.5" ry="1.4" fill="#ffff20" fill-opacity="0.63"/><ellipse cx="1023.2" cy="216.1" rx="1.4" ry="1.5" fill="#ffff20" fill-opacity="0.56"/><ellipse cx="977.5" cy="276.6" rx="1.2" ry="1.3" fill="#ffff20" fill-opacity="0.14"/><ellipse cx="1002.9" cy="295.2" rx="1.3" ry="1.3" fill="#ffff20" fill-opacity="0.24"/><ellipse cx="1010.6" cy="270.6" rx="2.4" ry="2.4" fill="#ffff20" fill-opacity="0.30"/><ellipse cx="954.4" cy="185.0" rx="2.3" ry="1.9" fill="#ffff20" fill-opacity="0.62"/><ellipse cx="944.0" cy="272.8" rx="1.2" ry="1.0" fill="#ffff20" fill-opacity="0.83"/><ellipse cx="929.3" cy="284.7" rx="2.1" ry="1.9" fill="#ffff20" fill-opacity="0.15"/><ellipse cx="1068.6" cy="300.4" rx="2.6" ry="2.7" fill="#ffff20" fill-opacity="0.71"/><ellipse cx="1011.0" cy="253.3" rx="1.3" ry="1.4" fill="#ffff20" fill-opacity="0.32"/><ellipse cx="1118.0" cy="261.4" rx="1.5" ry="1.4" fill="#ffff20" fill-opacity="0.53"/><ellipse cx="964.4" cy="182.1" rx="1.6" ry="1.5" fill="#ffff20" fill-opacity="0.17"/><ellipse cx="1139.3" cy="269.7" rx="2.3" ry="2.5" fill="#ffff20" fill-opacity="0.69"/><ellipse cx="1096.9" cy="299.8" rx="1.8" ry="2.0" fill="#ffff20" fill-opacity="0.45"/><ellipse cx="1070.3" cy="304.9" rx="2.0" ry="2.0" fill="#ffff20" fill-opacity="0.63"/><ellipse cx="1032.1" cy="323.3" rx="1.7" ry="1.4" fill="#ffff20" fill-opacity="0.10"/><ellipse cx="1128.3" cy="250.8" rx="1.4" ry="1.1" fill="#ffff20" fill-opacity="0.77"/><ellipse cx="929.0" cy="198.2" rx="1.8" ry="2.0" fill="#ffff20" fill-opacity="0.09"/><ellipse cx="1077.4" cy="334.1" rx="1.8" ry="2.1" fill="#ffff20" fill-opacity="0.53"/><ellipse cx="989.3" cy="217.2" rx="1.7" ry="1.7" fill="#ffff20" fill-opacity="0.14"/><ellipse cx="907.4" cy="273.3" rx="1.3" ry="1.2" fill="#ffff20" fill-opacity="0.33"/><ellipse cx="1051.6" cy="280.1" rx="1.7" ry="1.9" fill="#ffff20" fill-opacity="0.18"/><ellipse cx="1167.7" cy="317.4" rx="1.5" ry="1.3" fill="#ffff20" fill-opacity="0.18"/><ellipse cx="975.4" cy="220.4" rx="1.5" ry="1.4" fill="#ffff20" fill-opacity="0.42"/><ellipse cx="1080.8" cy="341.6" rx="1.1" ry="1.3" fill="#ffff20" fill-opacity="0.33"/><ellipse cx="1165.0" cy="304.2" rx="2.5" ry="2.7" fill="#ffff20" fill-opacity="0.58"/><ellipse cx="1140.8" cy="238.2" rx="1.8" ry="2.1" fill="#ffff20" fill-opacity="0.16"/><ellipse cx="977.4" cy="144.7" rx="2.1" ry="1.9" fill="#ffff20" fill-opacity="0.58"/><ellipse cx="1027.4" cy="233.2" rx="2.2" ry="1.9" fill="#ffff20" fill-opacity="0.21"/><ellipse cx="961.2" cy="142.5" rx="1.1" ry="1.0" fill="#ffff20" fill-opacity="0.13"/><ellipse cx="1000.9" cy="182.3" rx="1.7" ry="2.0" fill="#ffff20" fill-opacity="0.33"/><ellipse cx="1148.7" cy="313.8" rx="1.6" ry="1.5" fill="#ffff20" fill-opacity="0.27"/><ellipse cx="926.9" cy="155.8" rx="2.2" ry="2.4" fill="#ffff20" fill-opacity="0.18"/><ellipse cx="973.5" cy="235.9" rx="1.5" ry="1.6" fill="#ffff20" fill-opacity="0.82"/><ellipse cx="899.8" cy="157.1" rx="2.1" ry="2.0" fill="#ffff20" fill-opacity="0.85"/><ellipse cx="1151.2" cy="261.0" rx="1.1" ry="0.9" fill="#ffff20" fill-opacity="0.67"/><ellipse cx="962.2" cy="126.6" rx="1.7" ry="1.4" fill="#ffff20" fill-opacity="0.47"/><ellipse cx="934.5" cy="232.5" rx="2.6" ry="2.6" fill="#ffff20" fill-opacity="0.32"/><ellipse cx="1003.5" cy="267.5" rx="1.2" ry="1.0" fill="#ffff20" fill-opacity="0.78"/><ellipse cx="997.6" cy="272.0" rx="1.8" ry="2.2" fill="#ffff20" fill-opacity="0.12"/><ellipse cx="1123.3" cy="240.3" rx="1.5" ry="1.2" fill="#ffff20" fill-opacity="0.35"/><ellipse cx="1156.6" cy="300.2" rx="1.2" ry="1.1" fill="#ffff20" fill-opacity="0.36"/><ellipse cx="997.7" cy="312.3" rx="1.6" ry="1.3" fill="#ffff20" fill-opacity="0.11"/><ellipse cx="924.1" cy="235.9" rx="2.6" ry="2.2" fill="#ffff20" fill-opacity="0.44"/><ellipse cx="1085.3" cy="252.5" rx="1.7" ry="1.7" fill="#ffff20" fill-opacity="0.13"/><ellipse cx="1134.8" cy="354.0" rx="1.6" ry="1.3" fill="#ffff20" fill-opacity="0.47"/><ellipse cx="1165.9" cy="335.5" rx="2.5" ry="2.6" fill="#ffff20" fill-opacity="0.74"/><ellipse cx="916.7" cy="254.5" rx="1.4" ry="1.1" fill="#ffff20" fill-opacity="0.46"/><ellipse cx="1004.0" cy="300.5" rx="1.8" ry="1.9" fill="#ffff20" fill-opacity="0.34"/><ellipse cx="1106.3" cy="368.9" rx="2.0" ry="2.2" fill="#ffff20" fill-opacity="0.79"/><ellipse cx="1105.0" cy="263.2" rx="1.6" ry="1.5" fill="#ffff20" fill-opacity="0.71"/><ellipse cx="1103.2" cy="297.2" rx="1.4" ry="1.2" fill="#ffff20" fill-opacity="0.29"/><ellipse cx="1134.8" cy="235.0" rx="1.2" ry="1.4" fill="#ffff20" fill-opacity="0.71"/><ellipse cx="1112.5" cy="242.7" rx="1.6" ry="1.3" fill="#ffff20" fill-opacity="0.13"/><ellipse cx="1142.8" cy="305.2" rx="1.5" ry="1.2" fill="#ffff20" fill-opacity="0.38"/><ellipse cx="1159.2" cy="288.1" rx="2.0" ry="1.8" fill="#ffff20" fill-opacity="0.12"/><ellipse cx="1165.3" cy="302.6" rx="2.2" ry="1.8" fill="#ffff20" fill-opacity="0.21"/><ellipse cx="1148.6" cy="347.6" rx="1.5" ry="1.5" fill="#ffff20" fill-opacity="0.14"/><ellipse cx="1119.6" cy="326.3" rx="1.7" ry="1.6" fill="#ffff20" fill-opacity="0.65"/><ellipse cx="1142.0" cy="343.8" rx="1.9" ry="2.2" fill="#ffff20" fill-opacity="0.56"/><ellipse cx="914.2" cy="177.4" rx="2.2" ry="2.3" fill="#ffff20" fill-opacity="0.39"/><ellipse cx="1073.6" cy="340.9" rx="2.3" ry="2.5" fill="#ffff20" fill-opacity="0.83"/><ellipse cx="958.1" cy="186.1" rx="2.2" ry="2.4" fill="#ffff20" fill-opacity="0.26"/><ellipse cx="1001.1" cy="225.1" rx="2.3" ry="2.2" fill="#ffff20" fill-opacity="0.16"/><ellipse cx="1014.3" cy="302.0" rx="1.2" ry="1.0" fill="#ffff20" fill-opacity="0.25"/><ellipse cx="1079.3" cy="280.7" rx="2.1" ry="1.9" fill="#ffff20" fill-opacity="0.12"/><ellipse cx="971.7" cy="191.9" rx="2.2" ry="2.3" fill="#ffff20" fill-opacity="0.10"/><ellipse cx="1128.4" cy="105.3" rx="1.2" ry="1.0" fill="#ffff20" fill-opacity="0.32"/><ellipse cx="1103.5" cy="270.7" rx="2.4" ry="2.8" fill="#ffff20" fill-opacity="0.52"/><ellipse cx="996.7" cy="249.8" rx="1.4" ry="1.4" fill="#ffff20" fill-opacity="0.33"/><ellipse cx="1130.5" cy="320.1" rx="1.6" ry="1.3" fill="#ffff20" fill-opacity="0.50"/><ellipse cx="891.9" cy="159.8" rx="2.3" ry="2.6" fill="#ffff20" fill-opacity="0.14"/><ellipse cx="962.8" cy="264.1" rx="1.9" ry="1.6" fill="#ffff20" fill-opacity="0.61"/><ellipse cx="1026.5" cy="215.2" rx="1.8" ry="2.1" fill="#ffff20" fill-opacity="0.68"/><ellipse cx="1129.5" cy="291.7" rx="1.3" ry="1.2" fill="#ffff20" fill-opacity="0.79"/><ellipse cx="1119.0" cy="278.9" rx="1.8" ry="1.7" fill="#ffff20" fill-opacity="0.39"/><ellipse cx="1024.2" cy="305.9" rx="2.3" ry="2.6" fill="#ffff20" fill-opacity="0.46"/><ellipse cx="946.1" cy="220.1" rx="2.6" ry="2.7" fill="#ffff20" fill-opacity="0.15"/><ellipse cx="907.4" cy="248.0" rx="2.3" ry="2.2" fill="#ffff20" fill-opacity="0.11"/><ellipse cx="958.2" cy="266.7" rx="2.6" ry="2.1" fill="#ffff20" fill-opacity="0.50"/><ellipse cx="1060.8" cy="251.1" rx="1.8" ry="2.1" fill="#ffff20" fill-opacity="0.35"/><ellipse cx="934.9" cy="247.3" rx="1.4" ry="1.3" fill="#ffff20" fill-opacity="0.21"/><ellipse cx="933.4" cy="208.8" rx="1.9" ry="1.8" fill="#ffff20" fill-opacity="0.64"/><ellipse cx="1058.9" cy="300.6" rx="1.5" ry="1.4" fill="#ffff20" fill-opacity="0.24"/><ellipse cx="988.6" cy="301.2" rx="2.6" ry="2.9" fill="#ffff20" fill-opacity="0.73"/><ellipse cx="949.4" cy="187.6" rx="2.0" ry="1.9" fill="#ffff20" fill-opacity="0.17"/><ellipse cx="1017.3" cy="231.1" rx="2.3" ry="2.3" fill="#ffff20" fill-opacity="0.11"/><ellipse cx="1002.4" cy="224.5" rx="1.4" ry="1.1" fill="#ffff20" fill-opacity="0.62"/><ellipse cx="1044.3" cy="241.9" rx="2.5" ry="2.2" fill="#ffff20" fill-opacity="0.69"/><ellipse cx="1058.1" cy="234.9" rx="1.6" ry="1.7" fill="#ffff20" fill-opacity="0.74"/><ellipse cx="913.9" cy="289.5" rx="2.0" ry="2.3" fill="#ffff20" fill-opacity="0.34"/><ellipse cx="991.4" cy="280.1" rx="1.1" ry="1.1" fill="#ffff20" fill-opacity="0.50"/><ellipse cx="969.4" cy="284.8" rx="1.4" ry="1.3" fill="#ffff20" fill-opacity="0.29"/><ellipse cx="1069.2" cy="296.3" rx="1.1" ry="1.1" fill="#ffff20" fill-opacity="0.34"/><ellipse cx="937.9" cy="246.8" rx="1.8" ry="2.0" fill="#ffff20" fill-opacity="0.35"/><ellipse cx="1137.3" cy="365.6" rx="2.6" ry="2.9" fill="#ffff20" fill-opacity="0.80"/><ellipse cx="989.2" cy="261.8" rx="2.1" ry="2.3" fill="#ffff20" fill-opacity="0.46"/><ellipse cx="1076.2" cy="296.6" rx="2.3" ry="2.2" fill="#ffff20" fill-opacity="0.51"/><ellipse cx="959.7" cy="226.8" rx="2.1" ry="2.1" fill="#ffff20" fill-opacity="0.27"/><ellipse cx="903.6" cy="248.1" rx="1.2" ry="1.0" fill="#ffff20" fill-opacity="0.32"/><ellipse cx="1143.2" cy="282.1" rx="2.0" ry="2.2" fill="#ffff20" fill-opacity="0.61"/><ellipse cx="1032.2" cy="272.2" rx="1.6" ry="1.8" fill="#ffff20" fill-opacity="0.26"/><ellipse cx="1027.8" cy="220.7" rx="2.2" ry="1.8" fill="#ffff20" fill-opacity="0.65"/><ellipse cx="1055.2" cy="304.0" rx="2.1" ry="2.5" fill="#ffff20" fill-opacity="0.78"/><ellipse cx="1119.2" cy="267.2" rx="2.1" ry="2.4" fill="#ffff20" fill-opacity="0.63"/><ellipse cx="1151.6" cy="252.9" rx="2.0" ry="1.8" fill="#ffff20" fill-opacity="0.45"/><ellipse cx="1070.6" cy="297.2" rx="2.4" ry="2.2" fill="#ffff20" fill-opacity="0.85"/><ellipse cx="1002.9" cy="156.3" rx="1.9" ry="1.8" fill="#ffff20" fill-opacity="0.09"/><ellipse cx="963.3" cy="224.0" rx="1.7" ry="1.5" fill="#ffff20" fill-opacity="0.56"/><ellipse cx="1019.4" cy="223.4" rx="2.4" ry="2.9" fill="#ffff20" fill-opacity="0.53"/><ellipse cx="963.4" cy="233.7" rx="1.7" ry="1.4" fill="#ffff20" fill-opacity="0.59"/><ellipse cx="973.8" cy="143.3" rx="1.9" ry="2.1" fill="#ffff20" fill-opacity="0.33"/><ellipse cx="1109.4" cy="295.2" rx="2.4" ry="2.2" fill="#ffff20" fill-opacity="0.28"/><ellipse cx="1009.4" cy="331.8" rx="1.5" ry="1.6" fill="#ffff20" fill-opacity="0.78"/><ellipse cx="958.8" cy="273.3" rx="1.4" ry="1.4" fill="#ffff20" fill-opacity="0.66"/><ellipse cx="1116.7" cy="113.4" rx="1.4" ry="1.2" fill="#ffff20" fill-opacity="0.49"/><ellipse cx="952.0" cy="225.7" rx="2.3" ry="2.7" fill="#ffff20" fill-opacity="0.62"/><ellipse cx="1124.9" cy="273.9" rx="1.7" ry="1.7" fill="#ffff20" fill-opacity="0.46"/><ellipse cx="1124.8" cy="303.8" rx="2.5" ry="2.3" fill="#ffff20" fill-opacity="0.27"/><ellipse cx="1059.0" cy="282.4" rx="2.0" ry="2.4" fill="#ffff20" fill-opacity="0.20"/><ellipse cx="1007.4" cy="223.3" rx="1.1" ry="1.0" fill="#ffff20" fill-opacity="0.48"/><ellipse cx="1062.6" cy="285.3" rx="2.0" ry="1.8" fill="#ffff20" fill-opacity="0.20"/><ellipse cx="1034.9" cy="233.1" rx="2.0" ry="2.1" fill="#ffff20" fill-opacity="0.59"/><ellipse cx="1131.6" cy="266.8" rx="2.2" ry="1.8" fill="#ffff20" fill-opacity="0.42"/><ellipse cx="1140.0" cy="229.9" rx="2.4" ry="2.8" fill="#ffff20" fill-opacity="0.29"/><ellipse cx="890.7" cy="246.7" rx="2.4" ry="2.5" fill="#ffff20" fill-opacity="0.80"/><ellipse cx="1118.2" cy="326.3" rx="1.4" ry="1.6" fill="#ffff20" fill-opacity="0.72"/><ellipse cx="1002.8" cy="232.5" rx="1.8" ry="1.5" fill="#ffff20" fill-opacity="0.20"/><ellipse cx="1087.3" cy="307.4" rx="1.3" ry="1.1" fill="#ffff20" fill-opacity="0.18"/><ellipse cx="1010.3" cy="317.8" rx="2.0" ry="1.7" fill="#ffff20" fill-opacity="0.65"/><ellipse cx="940.9" cy="266.2" rx="2.2" ry="2.5" fill="#ffff20" fill-opacity="0.69"/><ellipse cx="980.3" cy="225.7" rx="2.2" ry="2.5" fill="#ffff20" fill-opacity="0.83"/><ellipse cx="1078.0" cy="284.6" rx="2.0" ry="2.4" fill="#ffff20" fill-opacity="0.15"/><ellipse cx="1104.4" cy="234.7" rx="1.3" ry="1.0" fill="#ffff20" fill-opacity="0.21"/><ellipse cx="999.8" cy="170.0" rx="1.7" ry="1.6" fill="#ffff20" fill-opacity="0.58"/><ellipse cx="1144.2" cy="360.9" rx="2.2" ry="1.8" fill="#ffff20" fill-opacity="0.36"/><ellipse cx="1090.9" cy="219.6" rx="1.9" ry="1.8" fill="#ffff20" fill-opacity="0.15"/><ellipse cx="1018.1" cy="266.3" rx="2.0" ry="1.9" fill="#ffff20" fill-opacity="0.59"/><ellipse cx="1004.3" cy="188.9" rx="1.8" ry="2.2" fill="#ffff20" fill-opacity="0.82"/><ellipse cx="1156.5" cy="296.2" rx="1.2" ry="1.3" fill="#ffff20" fill-opacity="0.62"/><ellipse cx="973.4" cy="289.5" rx="1.5" ry="1.3" fill="#ffff20" fill-opacity="0.42"/><ellipse cx="1070.2" cy="253.5" rx="1.6" ry="1.8" fill="#ffff20" fill-opacity="0.80"/><ellipse cx="1002.4" cy="284.5" rx="1.7" ry="1.5" fill="#ffff20" fill-opacity="0.43"/><ellipse cx="1143.5" cy="364.4" rx="2.1" ry="2.4" fill="#ffff20" fill-opacity="0.49"/><ellipse cx="1015.6" cy="273.8" rx="1.5" ry="1.4" fill="#ffff20" fill-opacity="0.73"/><ellipse cx="906.8" cy="269.6" rx="1.9" ry="1.5" fill="#ffff20" fill-opacity="0.37"/><ellipse cx="1012.2" cy="246.0" rx="1.5" ry="1.6" fill="#ffff20" fill-opacity="0.13"/><ellipse cx="887.7" cy="272.7" rx="1.5" ry="1.3" fill="#ffff20" fill-opacity="0.41"/><ellipse cx="987.2" cy="252.3" rx="2.6" ry="2.6" fill="#ffff20" fill-opacity="0.34"/><ellipse cx="1012.8" cy="237.4" rx="2.5" ry="2.1" fill="#ffff20" fill-opacity="0.32"/><ellipse cx="1110.6" cy="312.9" rx="2.3" ry="1.9" fill="#ffff20" fill-opacity="0.66"/><ellipse cx="1026.6" cy="317.3" rx="1.6" ry="1.3" fill="#ffff20" fill-opacity="0.24"/><ellipse cx="1107.5" cy="352.5" rx="1.8" ry="1.7" fill="#ffff20" fill-opacity="0.45"/><ellipse cx="1106.5" cy="349.8" rx="1.2" ry="1.0" fill="#ffff20" fill-opacity="0.85"/><ellipse cx="993.0" cy="239.1" rx="1.8" ry="1.7" fill="#ffff20" fill-opacity="0.13"/><ellipse cx="1021.0" cy="232.5" rx="1.5" ry="1.8" fill="#ffff20" fill-opacity="0.59"/><ellipse cx="943.9" cy="242.9" rx="1.9" ry="1.5" fill="#ffff20" fill-opacity="0.35"/><ellipse cx="1052.2" cy="247.5" rx="2.3" ry="2.2" fill="#ffff20" fill-opacity="0.51"/><ellipse cx="1133.4" cy="284.0" rx="2.5" ry="2.6" fill="#ffff20" fill-opacity="0.54"/><ellipse cx="979.0" cy="196.8" rx="1.2" ry="0.9" fill="#ffff20" fill-opacity="0.66"/><ellipse cx="976.0" cy="249.4" rx="1.7" ry="2.0" fill="#ffff20" fill-opacity="0.71"/><ellipse cx="1060.1" cy="275.7" rx="2.5" ry="2.4" fill="#ffff20" fill-opacity="0.87"/><ellipse cx="1160.2" cy="282.2" rx="2.2" ry="2.6" fill="#ffff20" fill-opacity="0.17"/><ellipse cx="910.6" cy="258.1" rx="2.3" ry="2.2" fill="#ffff20" fill-opacity="0.85"/><ellipse cx="978.8" cy="145.8" rx="2.6" ry="2.3" fill="#ffff20" fill-opacity="0.37"/><ellipse cx="1015.1" cy="264.3" rx="1.5" ry="1.5" fill="#ffff20" fill-opacity="0.27"/><ellipse cx="985.0" cy="213.9" rx="2.1" ry="1.8" fill="#ffff20" fill-opacity="0.19"/><ellipse cx="920.5" cy="141.3" rx="1.8" ry="1.5" fill="#ffff20" fill-opacity="0.34"/><ellipse cx="988.2" cy="286.5" rx="2.4" ry="2.8" fill="#ffff20" fill-opacity="0.21"/><ellipse cx="997.0" cy="188.1" rx="1.1" ry="1.3" fill="#ffff20" fill-opacity="0.84"/><ellipse cx="1128.0" cy="249.3" rx="2.0" ry="1.7" fill="#ffff20" fill-opacity="0.23"/><ellipse cx="1142.2" cy="362.4" rx="2.5" ry="2.9" fill="#ffff20" fill-opacity="0.10"/><ellipse cx="957.0" cy="248.9" rx="1.4" ry="1.3" fill="#ffff20" fill-opacity="0.26"/><ellipse cx="1145.2" cy="357.0" rx="2.2" ry="2.1" fill="#ffff20" fill-opacity="0.67"/><ellipse cx="987.3" cy="324.3" rx="1.3" ry="1.3" fill="#ffff20" fill-opacity="0.85"/><ellipse cx="1010.0" cy="292.8" rx="2.2" ry="1.8" fill="#ffff20" fill-opacity="0.15"/><ellipse cx="1121.1" cy="330.1" rx="2.1" ry="2.0" fill="#ffff20" fill-opacity="0.33"/><ellipse cx="919.9" cy="241.7" rx="1.8" ry="1.9" fill="#ffff20" fill-opacity="0.84"/><ellipse cx="1112.3" cy="248.0" rx="1.5" ry="1.5" fill="#ffff20" fill-opacity="0.25"/><ellipse cx="1154.6" cy="359.5" rx="1.9" ry="2.1" fill="#ffff20" fill-opacity="0.17"/><ellipse cx="1122.1" cy="240.1" rx="1.8" ry="2.0" fill="#ffff20" fill-opacity="0.09"/><ellipse cx="1089.7" cy="297.7" rx="2.3" ry="2.2" fill="#ffff20" fill-opacity="0.44"/><ellipse cx="1045.2" cy="254.2" rx="2.0" ry="2.3" fill="#ffff20" fill-opacity="0.12"/><ellipse cx="1151.8" cy="355.3" rx="1.9" ry="1.5" fill="#ffff20" fill-opacity="0.34"/><ellipse cx="1089.7" cy="246.2" rx="1.6" ry="1.3" fill="#ffff20" fill-opacity="0.28"/><ellipse cx="1127.5" cy="284.6" rx="1.8" ry="1.9" fill="#ffff20" fill-opacity="0.80"/><ellipse cx="1124.7" cy="316.8" rx="1.7" ry="1.7" fill="#ffff20" fill-opacity="0.61"/><ellipse cx="931.3" cy="205.5" rx="2.5" ry="3.0" fill="#ffff20" fill-opacity="0.86"/><ellipse cx="907.9" cy="194.4" rx="1.6" ry="1.3" fill="#ffff20" fill-opacity="0.81"/><ellipse cx="1017.7" cy="257.8" rx="1.2" ry="1.2" fill="#ffff20" fill-opacity="0.63"/><ellipse cx="1137.3" cy="345.0" rx="1.9" ry="1.8" fill="#ffff20" fill-opacity="0.80"/><ellipse cx="1134.3" cy="355.8" rx="1.5" ry="1.6" fill="#ffff20" fill-opacity="0.71"/><ellipse cx="952.3" cy="249.1" rx="1.3" ry="1.2" fill="#ffff20" fill-opacity="0.43"/><ellipse cx="1023.7" cy="179.7" rx="1.9" ry="1.7" fill="#ffff20" fill-opacity="0.40"/><ellipse cx="1143.4" cy="251.2" rx="1.2" ry="1.0" fill="#ffff20" fill-opacity="0.31"/><ellipse cx="1079.1" cy="340.2" rx="1.3" ry="1.6" fill="#ffff20" fill-opacity="0.25"/><ellipse cx="959.7" cy="132.0" rx="1.5" ry="1.7" fill="#ffff20" fill-opacity="0.64"/><ellipse cx="1166.3" cy="308.8" rx="1.5" ry="1.7" fill="#ffff20" fill-opacity="0.54"/><ellipse cx="957.8" cy="270.3" rx="1.7" ry="1.8" fill="#ffff20" fill-opacity="0.24"/><ellipse cx="1149.0" cy="282.5" rx="1.5" ry="1.7" fill="#ffff20" fill-opacity="0.38"/><ellipse cx="1068.4" cy="338.5" rx="2.4" ry="2.1" fill="#ffff20" fill-opacity="0.17"/><ellipse cx="1151.3" cy="275.3" rx="1.2" ry="1.3" fill="#ffff20" fill-opacity="0.48"/><ellipse cx="985.8" cy="225.3" rx="1.1" ry="0.9" fill="#ffff20" fill-opacity="0.71"/><ellipse cx="933.9" cy="203.6" rx="1.8" ry="2.1" fill="#ffff20" fill-opacity="0.11"/><ellipse cx="1102.2" cy="284.6" rx="2.0" ry="1.7" fill="#ffff20" fill-opacity="0.62"/><ellipse cx="1106.0" cy="320.6" rx="2.0" ry="2.1" fill="#ffff20" fill-opacity="0.22"/><ellipse cx="915.0" cy="167.4" rx="2.5" ry="2.1" fill="#ffff20" fill-opacity="0.12"/><ellipse cx="973.3" cy="275.8" rx="2.1" ry="1.8" fill="#ffff20" fill-opacity="0.12"/><ellipse cx="1156.1" cy="235.0" rx="1.8" ry="1.9" fill="#ffff20" fill-opacity="0.77"/><ellipse cx="992.9" cy="149.3" rx="2.2" ry="1.8" fill="#ffff20" fill-opacity="0.55"/><ellipse cx="1000.1" cy="290.0" rx="2.4" ry="2.0" fill="#ffff20" fill-opacity="0.65"/><ellipse cx="1130.2" cy="298.5" rx="1.5" ry="1.4" fill="#ffff20" fill-opacity="0.09"/><ellipse cx="1000.4" cy="194.2" rx="2.2" ry="2.3" fill="#ffff20" fill-opacity="0.78"/><ellipse cx="1020.6" cy="256.1" rx="1.8" ry="1.6" fill="#ffff20" fill-opacity="0.22"/><ellipse cx="1014.0" cy="272.2" rx="1.5" ry="1.8" fill="#ffff20" fill-opacity="0.21"/><ellipse cx="1006.1" cy="232.9" rx="1.2" ry="1.2" fill="#ffff20" fill-opacity="0.13"/><ellipse cx="1003.4" cy="255.5" rx="1.7" ry="1.8" fill="#ffff20" fill-opacity="0.56"/><ellipse cx="1097.9" cy="244.5" rx="1.4" ry="1.2" fill="#ffff20" fill-opacity="0.43"/><ellipse cx="1165.8" cy="283.1" rx="2.1" ry="2.1" fill="#ffff20" fill-opacity="0.49"/><ellipse cx="1124.1" cy="347.6" rx="2.5" ry="2.1" fill="#ffff20" fill-opacity="0.26"/><ellipse cx="1012.1" cy="245.3" rx="1.8" ry="1.9" fill="#ffff20" fill-opacity="0.78"/><ellipse cx="965.9" cy="277.8" rx="1.9" ry="2.1" fill="#ffff20" fill-opacity="0.37"/><ellipse cx="1139.9" cy="226.8" rx="2.3" ry="2.6" fill="#ffff20" fill-opacity="0.27"/><ellipse cx="986.8" cy="244.8" rx="1.3" ry="1.1" fill="#ffff20" fill-opacity="0.32"/><ellipse cx="1009.6" cy="260.0" rx="2.4" ry="2.2" fill="#ffff20" fill-opacity="0.54"/><ellipse cx="924.9" cy="210.4" rx="2.1" ry="2.4" fill="#ffff20" fill-opacity="0.15"/><ellipse cx="985.9" cy="241.7" rx="2.3" ry="2.1" fill="#ffff20" fill-opacity="0.15"/><ellipse cx="1008.4" cy="159.6" rx="2.0" ry="2.3" fill="#ffff20" fill-opacity="0.50"/><ellipse cx="1044.9" cy="288.3" rx="1.2" ry="1.4" fill="#ffff20" fill-opacity="0.34"/><ellipse cx="967.9" cy="189.1" rx="2.1" ry="2.2" fill="#ffff20" fill-opacity="0.25"/><ellipse cx="962.8" cy="222.8" rx="1.7" ry="1.6" fill="#ffff20" fill-opacity="0.14"/><ellipse cx="956.9" cy="221.0" rx="1.2" ry="1.3" fill="#ffff20" fill-opacity="0.36"/><ellipse cx="1120.0" cy="349.1" rx="2.4" ry="2.0" fill="#ffff20" fill-opacity="0.28"/><ellipse cx="975.3" cy="237.7" rx="1.4" ry="1.6" fill="#ffff20" fill-opacity="0.68"/><ellipse cx="1027.2" cy="194.9" rx="2.4" ry="2.5" fill="#ffff20" fill-opacity="0.15"/><ellipse cx="923.4" cy="254.6" rx="1.7" ry="1.5" fill="#ffff20" fill-opacity="0.10"/><ellipse cx="966.2" cy="245.4" rx="1.9" ry="1.8" fill="#ffff20" fill-opacity="0.15"/><ellipse cx="1045.5" cy="247.1" rx="1.9" ry="2.2" fill="#ffff20" fill-opacity="0.82"/><ellipse cx="1033.7" cy="236.2" rx="1.8" ry="1.5" fill="#ffff20" fill-opacity="0.66"/><ellipse cx="969.2" cy="254.6" rx="1.3" ry="1.3" fill="#ffff20" fill-opacity="0.13"/><ellipse cx="1002.0" cy="255.4" rx="2.6" ry="2.6" fill="#ffff20" fill-opacity="0.38"/><ellipse cx="1116.1" cy="267.6" rx="1.5" ry="1.5" fill="#ffff20" fill-opacity="0.85"/><ellipse cx="965.6" cy="256.0" rx="1.7" ry="1.5" fill="#ffff20" fill-opacity="0.44"/><ellipse cx="1095.8" cy="277.8" rx="2.5" ry="2.4" fill="#ffff20" fill-opacity="0.54"/><ellipse cx="968.6" cy="139.3" rx="2.5" ry="2.3" fill="#ffff20" fill-opacity="0.70"/><ellipse cx="1141.7" cy="263.2" rx="1.9" ry="1.6" fill="#ffff20" fill-opacity="0.12"/><ellipse cx="1137.9" cy="302.2" rx="2.5" ry="2.5" fill="#ffff20" fill-opacity="0.39"/><ellipse cx="989.7" cy="201.2" rx="2.5" ry="2.5" fill="#ffff20" fill-opacity="0.43"/><ellipse cx="908.2" cy="277.1" rx="1.5" ry="1.7" fill="#ffff20" fill-opacity="0.25"/><ellipse cx="966.6" cy="149.9" rx="1.8" ry="2.0" fill="#ffff20" fill-opacity="0.52"/><ellipse cx="1123.5" cy="363.4" rx="1.3" ry="1.1" fill="#ffff20" fill-opacity="0.60"/><ellipse cx="1157.4" cy="322.9" rx="2.2" ry="1.8" fill="#ffff20" fill-opacity="0.87"/><ellipse cx="884.7" cy="152.5" rx="1.3" ry="1.1" fill="#ffff20" fill-opacity="0.14"/><ellipse cx="1042.6" cy="266.4" rx="1.8" ry="1.9" fill="#ffff20" fill-opacity="0.74"/><ellipse cx="1082.5" cy="329.6" rx="1.3" ry="1.5" fill="#ffff20" fill-opacity="0.15"/><ellipse cx="1043.1" cy="248.2" rx="2.0" ry="1.8" fill="#ffff20" fill-opacity="0.32"/><ellipse cx="950.9" cy="243.6" rx="1.2" ry="1.3" fill="#ffff20" fill-opacity="0.16"/><ellipse cx="958.5" cy="188.2" rx="2.2" ry="2.1" fill="#ffff20" fill-opacity="0.51"/><ellipse cx="1112.1" cy="268.4" rx="2.1" ry="2.0" fill="#ffff20" fill-opacity="0.75"/><ellipse cx="1088.1" cy="305.3" rx="2.5" ry="2.3" fill="#ffff20" fill-opacity="0.30"/><ellipse cx="1158.3" cy="344.5" rx="2.4" ry="2.1" fill="#ffff20" fill-opacity="0.37"/><ellipse cx="1029.2" cy="281.0" rx="1.7" ry="2.1" fill="#ffff20" fill-opacity="0.16"/><ellipse cx="992.7" cy="136.1" rx="2.1" ry="2.3" fill="#ffff20" fill-opacity="0.62"/><ellipse cx="954.4" cy="277.1" rx="1.1" ry="1.3" fill="#ffff20" fill-opacity="0.29"/><ellipse cx="1061.3" cy="259.1" rx="2.4" ry="2.5" fill="#ffff20" fill-opacity="0.37"/><ellipse cx="1119.9" cy="241.7" rx="2.4" ry="2.5" fill="#ffff20" fill-opacity="0.31"/><ellipse cx="906.6" cy="273.0" rx="2.2" ry="2.2" fill="#ffff20" fill-opacity="0.61"/><ellipse cx="1039.3" cy="308.1" rx="2.0" ry="2.3" fill="#ffff20" fill-opacity="0.18"/><ellipse cx="967.0" cy="278.0" rx="1.8" ry="1.5" fill="#ffff20" fill-opacity="0.68"/><ellipse cx="1055.6" cy="265.3" rx="2.3" ry="2.6" fill="#ffff20" fill-opacity="0.11"/><ellipse cx="1023.9" cy="308.9" rx="1.9" ry="1.9" fill="#ffff20" fill-opacity="0.16"/><ellipse cx="1028.8" cy="298.1" rx="1.4" ry="1.7" fill="#ffff20" fill-opacity="0.74"/><ellipse cx="890.4" cy="272.5" rx="1.5" ry="1.6" fill="#ffff20" fill-opacity="0.56"/><ellipse cx="953.7" cy="303.3" rx="1.7" ry="1.8" fill="#ffff20" fill-opacity="0.23"/><ellipse cx="1149.8" cy="322.0" rx="1.5" ry="1.2" fill="#ffff20" fill-opacity="0.56"/><ellipse cx="1002.5" cy="180.5" rx="2.0" ry="2.2" fill="#ffff20" fill-opacity="0.44"/><ellipse cx="999.0" cy="145.0" rx="1.8" ry="1.6" fill="#ffff20" fill-opacity="0.63"/><ellipse cx="954.4" cy="261.8" rx="1.7" ry="1.7" fill="#ffff20" fill-opacity="0.65"/><ellipse cx="952.1" cy="280.0" rx="1.8" ry="1.9" fill="#ffff20" fill-opacity="0.12"/><ellipse cx="994.1" cy="278.5" rx="1.5" ry="1.7" fill="#ffff20" fill-opacity="0.17"/><ellipse cx="1128.8" cy="338.1" rx="1.2" ry="1.0" fill="#ffff20" fill-opacity="0.66"/><ellipse cx="949.4" cy="266.6" rx="1.3" ry="1.2" fill="#ffff20" fill-opacity="0.38"/><ellipse cx="1154.5" cy="259.3" rx="2.3" ry="2.3" fill="#ffff20" fill-opacity="0.45"/><ellipse cx="1001.5" cy="279.8" rx="1.1" ry="1.3" fill="#ffff20" fill-opacity="0.66"/><ellipse cx="998.5" cy="232.9" rx="2.0" ry="2.3" fill="#ffff20" fill-opacity="0.53"/><ellipse cx="1094.6" cy="263.5" rx="2.2" ry="2.5" fill="#ffff20" fill-opacity="0.53"/><ellipse cx="918.2" cy="290.9" rx="1.1" ry="1.3" fill="#ffff20" fill-opacity="0.86"/><ellipse cx="950.0" cy="197.9" rx="1.4" ry="1.2" fill="#ffff20" fill-opacity="0.31"/><ellipse cx="1113.9" cy="249.4" rx="1.3" ry="1.2" fill="#ffff20" fill-opacity="0.14"/><ellipse cx="942.6" cy="128.7" rx="1.4" ry="1.1" fill="#ffff20" fill-opacity="0.38"/><ellipse cx="990.3" cy="288.9" rx="1.6" ry="1.7" fill="#ffff20" fill-opacity="0.35"/><ellipse cx="1094.2" cy="241.8" rx="1.3" ry="1.6" fill="#ffff20" fill-opacity="0.77"/><ellipse cx="936.2" cy="169.7" rx="2.1" ry="1.9" fill="#ffff20" fill-opacity="0.36"/><ellipse cx="1033.2" cy="271.1" rx="1.8" ry="1.7" fill="#ffff20" fill-opacity="0.10"/><ellipse cx="1008.9" cy="256.0" rx="1.8" ry="2.0" fill="#ffff20" fill-opacity="0.59"/><ellipse cx="932.7" cy="277.9" rx="2.4" ry="2.6" fill="#ffff20" fill-opacity="0.65"/><ellipse cx="1010.4" cy="236.4" rx="2.4" ry="2.8" fill="#ffff20" fill-opacity="0.68"/><ellipse cx="939.6" cy="156.1" rx="1.7" ry="1.8" fill="#ffff20" fill-opacity="0.56"/><ellipse cx="1007.0" cy="302.4" rx="2.4" ry="2.6" fill="#ffff20" fill-opacity="0.39"/><ellipse cx="925.4" cy="291.4" rx="1.4" ry="1.3" fill="#ffff20" fill-opacity="0.24"/><ellipse cx="1008.0" cy="289.3" rx="2.1" ry="2.4" fill="#ffff20" fill-opacity="0.20"/><ellipse cx="1053.7" cy="263.0" rx="1.9" ry="2.2" fill="#ffff20" fill-opacity="0.33"/><ellipse cx="1070.7" cy="285.7" rx="1.2" ry="1.3" fill="#ffff20" fill-opacity="0.33"/><ellipse cx="1086.3" cy="120.4" rx="1.3" ry="1.2" fill="#ffff20" fill-opacity="0.09"/><ellipse cx="1001.5" cy="288.5" rx="1.3" ry="1.3" fill="#ffff20" fill-opacity="0.15"/><ellipse cx="1032.1" cy="159.3" rx="1.1" ry="1.1" fill="#ffff20" fill-opacity="0.83"/><ellipse cx="1000.7" cy="249.9" rx="2.4" ry="2.2" fill="#ffff20" fill-opacity="0.80"/><ellipse cx="1002.3" cy="268.7" rx="1.2" ry="1.0" fill="#ffff20" fill-opacity="0.09"/><ellipse cx="981.1" cy="292.1" rx="1.2" ry="1.2" fill="#ffff20" fill-opacity="0.65"/><ellipse cx="1082.7" cy="287.6" rx="1.8" ry="2.0" fill="#ffff20" fill-opacity="0.39"/><ellipse cx="1138.4" cy="360.5" rx="2.5" ry="2.6" fill="#ffff20" fill-opacity="0.46"/><ellipse cx="1104.1" cy="277.1" rx="1.4" ry="1.3" fill="#ffff20" fill-opacity="0.39"/><ellipse cx="1097.8" cy="292.0" rx="2.3" ry="2.1" fill="#ffff20" fill-opacity="0.28"/><ellipse cx="888.8" cy="158.6" rx="2.3" ry="1.9" fill="#ffff20" fill-opacity="0.46"/><ellipse cx="960.7" cy="280.0" rx="1.4" ry="1.5" fill="#ffff20" fill-opacity="0.51"/><ellipse cx="1002.1" cy="267.6" rx="1.2" ry="1.4" fill="#ffff20" fill-opacity="0.36"/><ellipse cx="1083.7" cy="286.4" rx="1.6" ry="1.8" fill="#ffff20" fill-opacity="0.67"/><ellipse cx="1030.5" cy="268.7" rx="1.6" ry="1.7" fill="#ffff20" fill-opacity="0.16"/><ellipse cx="1118.7" cy="237.4" rx="1.9" ry="1.6" fill="#ffff20" fill-opacity="0.55"/><ellipse cx="999.1" cy="242.2" rx="2.5" ry="2.6" fill="#ffff20" fill-opacity="0.11"/><ellipse cx="1075.7" cy="265.7" rx="1.9" ry="1.8" fill="#ffff20" fill-opacity="0.39"/><ellipse cx="901.7" cy="238.6" rx="1.3" ry="1.2" fill="#ffff20" fill-opacity="0.39"/><ellipse cx="909.3" cy="145.6" rx="1.2" ry="1.3" fill="#ffff20" fill-opacity="0.24"/><ellipse cx="963.0" cy="274.3" rx="1.5" ry="1.3" fill="#ffff20" fill-opacity="0.28"/><ellipse cx="1018.0" cy="239.0" rx="2.5" ry="2.3" fill="#ffff20" fill-opacity="0.14"/><ellipse cx="1012.5" cy="259.5" rx="1.6" ry="1.9" fill="#ffff20" fill-opacity="0.14"/><ellipse cx="1104.1" cy="350.2" rx="1.6" ry="1.4" fill="#ffff20" fill-opacity="0.58"/><ellipse cx="1106.3" cy="115.3" rx="1.8" ry="1.5" fill="#ffff20" fill-opacity="0.74"/><ellipse cx="1000.1" cy="239.1" rx="1.6" ry="1.7" fill="#ffff20" fill-opacity="0.40"/><ellipse cx="940.4" cy="252.5" rx="2.4" ry="2.0" fill="#ffff20" fill-opacity="0.23"/><ellipse cx="910.1" cy="262.6" rx="1.5" ry="1.4" fill="#ffff20" fill-opacity="0.71"/><ellipse cx="1086.8" cy="274.1" rx="1.9" ry="1.7" fill="#ffff20" fill-opacity="0.44"/><ellipse cx="1025.0" cy="251.5" rx="2.4" ry="2.4" fill="#ffff20" fill-opacity="0.39"/><ellipse cx="1094.4" cy="242.7" rx="2.1" ry="2.2" fill="#ffff20" fill-opacity="0.36"/><ellipse cx="932.3" cy="135.9" rx="1.7" ry="1.5" fill="#ffff20" fill-opacity="0.38"/><ellipse cx="1001.8" cy="241.7" rx="2.4" ry="2.2" fill="#ffff20" fill-opacity="0.33"/><ellipse cx="1074.8" cy="314.1" rx="2.0" ry="2.1" fill="#ffff20" fill-opacity="0.19"/><ellipse cx="1002.1" cy="303.2" rx="1.8" ry="1.9" fill="#ffff20" fill-opacity="0.11"/><ellipse cx="1118.2" cy="345.8" rx="1.3" ry="1.4" fill="#ffff20" fill-opacity="0.78"/><ellipse cx="1078.1" cy="293.2" rx="1.2" ry="1.0" fill="#ffff20" fill-opacity="0.54"/><ellipse cx="1067.2" cy="266.1" rx="1.5" ry="1.6" fill="#ffff20" fill-opacity="0.10"/><ellipse cx="1016.9" cy="244.9" rx="1.8" ry="1.5" fill="#ffff20" fill-opacity="0.30"/><ellipse cx="1121.3" cy="262.9" rx="2.1" ry="2.1" fill="#ffff20" fill-opacity="0.74"/><ellipse cx="1124.4" cy="226.3" rx="2.4" ry="2.5" fill="#ffff20" fill-opacity="0.73"/><ellipse cx="1028.4" cy="296.6" rx="1.4" ry="1.4" fill="#ffff20" fill-opacity="0.29"/><ellipse cx="951.4" cy="277.2" rx="2.0" ry="1.7" fill="#ffff20" fill-opacity="0.77"/><ellipse cx="1012.7" cy="233.1" rx="1.7" ry="1.8" fill="#ffff20" fill-opacity="0.82"/><ellipse cx="1039.0" cy="215.2" rx="2.5" ry="2.4" fill="#ffff20" fill-opacity="0.74"/><ellipse cx="955.5" cy="245.3" rx="2.6" ry="2.2" fill="#ffff20" fill-opacity="0.64"/><ellipse cx="900.5" cy="142.4" rx="2.2" ry="2.2" fill="#ffff20" fill-opacity="0.26"/><ellipse cx="1017.0" cy="273.4" rx="1.4" ry="1.3" fill="#ffff20" fill-opacity="0.81"/><ellipse cx="960.3" cy="190.2" rx="1.7" ry="1.5" fill="#ffff20" fill-opacity="0.53"/><ellipse cx="906.0" cy="236.2" rx="1.8" ry="1.8" fill="#ffff20" fill-opacity="0.40"/><ellipse cx="1118.1" cy="118.4" rx="1.5" ry="1.2" fill="#ffff20" fill-opacity="0.70"/><ellipse cx="967.0" cy="237.8" rx="2.1" ry="1.9" fill="#ffff20" fill-opacity="0.43"/><ellipse cx="1004.2" cy="255.4" rx="2.0" ry="2.0" fill="#ffff20" fill-opacity="0.78"/><ellipse cx="968.9" cy="177.3" rx="2.3" ry="2.1" fill="#ffff20" fill-opacity="0.31"/><ellipse cx="1013.4" cy="211.5" rx="2.0" ry="1.7" fill="#ffff20" fill-opacity="0.81"/><ellipse cx="1019.2" cy="268.1" rx="1.2" ry="1.2" fill="#ffff20" fill-opacity="0.26"/><ellipse cx="1082.6" cy="315.5" rx="1.9" ry="1.5" fill="#ffff20" fill-opacity="0.23"/><ellipse cx="1073.8" cy="217.5" rx="2.6" ry="2.9" fill="#ffff20" fill-opacity="0.22"/><ellipse cx="939.4" cy="285.7" rx="1.8" ry="1.5" fill="#ffff20" fill-opacity="0.16"/><ellipse cx="1008.7" cy="167.7" rx="1.4" ry="1.7" fill="#ffff20" fill-opacity="0.29"/><ellipse cx="883.1" cy="159.5" rx="1.5" ry="1.2" fill="#ffff20" fill-opacity="0.15"/><ellipse cx="1053.3" cy="275.6" rx="2.6" ry="2.8" fill="#ffff20" fill-opacity="0.80"/><ellipse cx="990.6" cy="283.9" rx="2.4" ry="2.6" fill="#ffff20" fill-opacity="0.25"/><ellipse cx="1021.7" cy="267.2" rx="1.4" ry="1.2" fill="#ffff20" fill-opacity="0.12"/><ellipse cx="1142.9" cy="354.4" rx="1.4" ry="1.5" fill="#ffff20" fill-opacity="0.43"/><ellipse cx="1045.6" cy="295.4" rx="1.1" ry="1.0" fill="#ffff20" fill-opacity="0.73"/><ellipse cx="1029.0" cy="272.3" rx="2.4" ry="2.6" fill="#ffff20" fill-opacity="0.63"/><ellipse cx="1096.2" cy="243.6" rx="2.5" ry="2.5" fill="#ffff20" fill-opacity="0.34"/><ellipse cx="1073.9" cy="292.7" rx="2.0" ry="1.8" fill="#ffff20" fill-opacity="0.11"/><ellipse cx="1032.0" cy="343.8" rx="1.5" ry="1.5" fill="#ffff20" fill-opacity="0.16"/><ellipse cx="1073.5" cy="343.2" rx="1.2" ry="1.1" fill="#ffff20" fill-opacity="0.33"/><ellipse cx="1135.1" cy="274.1" rx="2.5" ry="2.5" fill="#ffff20" fill-opacity="0.72"/><ellipse cx="924.0" cy="154.5" rx="2.2" ry="2.3" fill="#ffff20" fill-opacity="0.30"/><ellipse cx="1030.5" cy="226.0" rx="1.7" ry="1.6" fill="#ffff20" fill-opacity="0.54"/><ellipse cx="1095.1" cy="224.2" rx="2.4" ry="2.7" fill="#ffff20" fill-opacity="0.28"/><ellipse cx="1091.8" cy="264.4" rx="1.3" ry="1.1" fill="#ffff20" fill-opacity="0.50"/><ellipse cx="1111.2" cy="274.5" rx="1.4" ry="1.2" fill="#ffff20" fill-opacity="0.28"/><ellipse cx="933.6" cy="201.0" rx="1.4" ry="1.3" fill="#ffff20" fill-opacity="0.57"/><ellipse cx="1067.4" cy="308.4" rx="2.0" ry="1.8" fill="#ffff20" fill-opacity="0.63"/><ellipse cx="898.0" cy="253.3" rx="1.4" ry="1.6" fill="#ffff20" fill-opacity="0.16"/><ellipse cx="951.1" cy="142.7" rx="2.0" ry="2.2" fill="#ffff20" fill-opacity="0.63"/><ellipse cx="1015.6" cy="225.0" rx="1.8" ry="2.1" fill="#ffff20" fill-opacity="0.54"/><ellipse cx="1052.4" cy="337.5" rx="2.1" ry="1.8" fill="#ffff20" fill-opacity="0.20"/><ellipse cx="1010.2" cy="237.0" rx="1.8" ry="1.8" fill="#ffff20" fill-opacity="0.14"/><ellipse cx="1036.1" cy="260.5" rx="2.2" ry="2.1" fill="#ffff20" fill-opacity="0.41"/><ellipse cx="961.3" cy="280.6" rx="1.9" ry="2.1" fill="#ffff20" fill-opacity="0.28"/><ellipse cx="975.1" cy="145.8" rx="1.9" ry="2.0" fill="#ffff20" fill-opacity="0.56"/><ellipse cx="928.7" cy="189.9" rx="1.6" ry="1.4" fill="#ffff20" fill-opacity="0.41"/><ellipse cx="983.0" cy="267.1" rx="2.0" ry="2.1" fill="#ffff20" fill-opacity="0.17"/><ellipse cx="1027.4" cy="238.0" rx="1.8" ry="1.8" fill="#ffff20" fill-opacity="0.21"/><ellipse cx="888.8" cy="160.4" rx="1.3" ry="1.5" fill="#ffff20" fill-opacity="0.10"/><ellipse cx="1075.6" cy="272.7" rx="1.8" ry="1.7" fill="#ffff20" fill-opacity="0.10"/><ellipse cx="1017.8" cy="263.0" rx="1.5" ry="1.3" fill="#ffff20" fill-opacity="0.35"/><ellipse cx="1090.4" cy="333.6" rx="2.5" ry="2.1" fill="#ffff20" fill-opacity="0.32"/><ellipse cx="1139.8" cy="301.6" rx="2.1" ry="2.2" fill="#ffff20" fill-opacity="0.10"/><ellipse cx="968.6" cy="287.3" rx="1.4" ry="1.3" fill="#ffff20" fill-opacity="0.77"/><ellipse cx="1129.1" cy="258.4" rx="1.8" ry="1.6" fill="#ffff20" fill-opacity="0.42"/><ellipse cx="998.3" cy="281.1" rx="1.8" ry="1.6" fill="#ffff20" fill-opacity="0.57"/><ellipse cx="975.5" cy="192.1" rx="2.2" ry="2.2" fill="#ffff20" fill-opacity="0.46"/><ellipse cx="1001.7" cy="162.8" rx="2.3" ry="2.7" fill="#ffff20" fill-opacity="0.53"/><ellipse cx="937.9" cy="299.9" rx="1.2" ry="1.2" fill="#ffff20" fill-opacity="0.57"/><ellipse cx="969.9" cy="238.0" rx="1.6" ry="1.7" fill="#ffff20" fill-opacity="0.33"/><ellipse cx="971.7" cy="205.3" rx="2.0" ry="2.1" fill="#ffff20" fill-opacity="0.57"/><ellipse cx="1020.5" cy="231.1" rx="2.5" ry="2.7" fill="#ffff20" fill-opacity="0.61"/><ellipse cx="1099.1" cy="301.2" rx="2.2" ry="1.9" fill="#ffff20" fill-opacity="0.53"/><ellipse cx="976.1" cy="231.0" rx="2.0" ry="1.7" fill="#ffff20" fill-opacity="0.65"/><ellipse cx="909.9" cy="184.5" rx="1.4" ry="1.4" fill="#ffff20" fill-opacity="0.45"/><ellipse cx="939.4" cy="238.6" rx="2.2" ry="2.4" fill="#ffff20" fill-opacity="0.41"/><ellipse cx="1158.7" cy="322.1" rx="2.5" ry="2.5" fill="#ffff20" fill-opacity="0.49"/><ellipse cx="934.7" cy="239.7" rx="2.6" ry="2.4" fill="#ffff20" fill-opacity="0.61"/><ellipse cx="1014.7" cy="278.3" rx="2.5" ry="2.1" fill="#ffff20" fill-opacity="0.67"/><ellipse cx="1019.3" cy="314.8" rx="2.1" ry="2.1" fill="#ffff20" fill-opacity="0.68"/><ellipse cx="1009.8" cy="169.1" rx="2.4" ry="2.1" fill="#ffff20" fill-opacity="0.42"/><ellipse cx="1032.8" cy="284.4" rx="2.0" ry="2.2" fill="#ffff20" fill-opacity="0.83"/><ellipse cx="1121.0" cy="374.8" rx="2.3" ry="2.6" fill="#ffff20" fill-opacity="0.12"/><ellipse cx="1027.5" cy="155.4" rx="1.7" ry="2.0" fill="#ffff20" fill-opacity="0.82"/><ellipse cx="931.3" cy="253.1" rx="2.2" ry="2.1" fill="#ffff20" fill-opacity="0.66"/><ellipse cx="1117.7" cy="230.3" rx="1.9" ry="2.0" fill="#ffff20" fill-opacity="0.55"/><ellipse cx="1066.5" cy="229.5" rx="2.4" ry="2.6" fill="#ffff20" fill-opacity="0.84"/><ellipse cx="1132.2" cy="287.8" rx="1.8" ry="1.8" fill="#ffff20" fill-opacity="0.56"/><ellipse cx="1005.8" cy="250.4" rx="1.9" ry="1.6" fill="#ffff20" fill-opacity="0.83"/><ellipse cx="1124.9" cy="263.3" rx="1.6" ry="1.6" fill="#ffff20" fill-opacity="0.11"/><ellipse cx="1073.8" cy="217.0" rx="1.4" ry="1.6" fill="#ffff20" fill-opacity="0.26"/><ellipse cx="1012.0" cy="275.7" rx="1.5" ry="1.7" fill="#ffff20" fill-opacity="0.24"/><ellipse cx="1116.9" cy="267.7" rx="2.1" ry="2.2" fill="#ffff20" fill-opacity="0.78"/><ellipse cx="1001.3" cy="244.2" rx="1.8" ry="1.7" fill="#ffff20" fill-opacity="0.25"/><ellipse cx="925.3" cy="290.7" rx="1.6" ry="1.3" fill="#ffff20" fill-opacity="0.16"/><ellipse cx="1128.0" cy="300.1" rx="1.3" ry="1.2" fill="#ffff20" fill-opacity="0.66"/><ellipse cx="1029.5" cy="341.3" rx="2.5" ry="2.4" fill="#ffff20" fill-opacity="0.24"/><ellipse cx="987.3" cy="238.4" rx="1.5" ry="1.6" fill="#ffff20" fill-opacity="0.42"/><ellipse cx="946.4" cy="173.4" rx="1.3" ry="1.3" fill="#ffff20" fill-opacity="0.26"/><ellipse cx="983.5" cy="297.4" rx="1.3" ry="1.5" fill="#ffff20" fill-opacity="0.15"/><ellipse cx="931.3" cy="235.9" rx="1.8" ry="1.9" fill="#ffff20" fill-opacity="0.47"/><ellipse cx="1117.6" cy="291.0" rx="2.4" ry="2.2" fill="#ffff20" fill-opacity="0.82"/><ellipse cx="1128.9" cy="328.3" rx="1.2" ry="1.3" fill="#ffff20" fill-opacity="0.37"/><ellipse cx="963.4" cy="240.8" rx="1.1" ry="1.0" fill="#ffff20" fill-opacity="0.86"/><ellipse cx="1155.7" cy="259.7" rx="2.2" ry="2.4" fill="#ffff20" fill-opacity="0.70"/><ellipse cx="925.7" cy="190.3" rx="1.1" ry="1.0" fill="#ffff20" fill-opacity="0.41"/><ellipse cx="1103.3" cy="292.6" rx="2.5" ry="2.9" fill="#ffff20" fill-opacity="0.18"/><ellipse cx="1071.9" cy="232.1" rx="2.6" ry="2.6" fill="#ffff20" fill-opacity="0.28"/><ellipse cx="1062.7" cy="308.2" rx="1.2" ry="1.2" fill="#ffff20" fill-opacity="0.45"/><ellipse cx="1010.1" cy="237.8" rx="1.8" ry="1.6" fill="#ffff20" fill-opacity="0.82"/><ellipse cx="1104.8" cy="374.8" rx="1.8" ry="1.7" fill="#ffff20" fill-opacity="0.67"/><ellipse cx="1106.3" cy="228.4" rx="1.5" ry="1.4" fill="#ffff20" fill-opacity="0.15"/><ellipse cx="1147.3" cy="293.4" rx="1.5" ry="1.7" fill="#ffff20" fill-opacity="0.53"/><ellipse cx="910.2" cy="153.1" rx="1.9" ry="2.0" fill="#ffff20" fill-opacity="0.58"/><ellipse cx="961.5" cy="273.9" rx="1.9" ry="1.8" fill="#ffff20" fill-opacity="0.17"/><ellipse cx="1108.9" cy="253.4" rx="1.1" ry="1.0" fill="#ffff20" fill-opacity="0.36"/><ellipse cx="936.2" cy="151.4" rx="1.1" ry="1.2" fill="#ffff20" fill-opacity="0.31"/><ellipse cx="1126.7" cy="295.9" rx="1.5" ry="1.3" fill="#ffff20" fill-opacity="0.43"/><ellipse cx="954.0" cy="275.0" rx="1.4" ry="1.6" fill="#ffff20" fill-opacity="0.42"/><ellipse cx="1018.2" cy="231.2" rx="1.2" ry="1.0" fill="#ffff20" fill-opacity="0.77"/><ellipse cx="1158.2" cy="349.8" rx="2.0" ry="1.8" fill="#ffff20" fill-opacity="0.61"/><ellipse cx="970.9" cy="284.1" rx="1.2" ry="1.4" fill="#ffff20" fill-opacity="0.81"/><ellipse cx="931.8" cy="147.9" rx="2.1" ry="1.7" fill="#ffff20" fill-opacity="0.37"/><ellipse cx="999.7" cy="254.1" rx="2.4" ry="2.4" fill="#ffff20" fill-opacity="0.22"/><ellipse cx="1083.5" cy="319.1" rx="1.5" ry="1.2" fill="#ffff20" fill-opacity="0.45"/><ellipse cx="1097.8" cy="363.5" rx="1.4" ry="1.3" fill="#ffff20" fill-opacity="0.77"/><ellipse cx="992.2" cy="337.1" rx="2.5" ry="2.4" fill="#ffff20" fill-opacity="0.67"/><ellipse cx="930.3" cy="128.2" rx="1.3" ry="1.5" fill="#ffff20" fill-opacity="0.75"/><ellipse cx="938.6" cy="268.4" rx="1.8" ry="2.1" fill="#ffff20" fill-opacity="0.28"/><ellipse cx="972.9" cy="214.9" rx="2.6" ry="2.4" fill="#ffff20" fill-opacity="0.80"/><ellipse cx="992.2" cy="274.8" rx="2.4" ry="2.8" fill="#ffff20" fill-opacity="0.62"/><ellipse cx="1028.8" cy="246.6" rx="1.2" ry="1.1" fill="#ffff20" fill-opacity="0.56"/><ellipse cx="960.8" cy="229.2" rx="2.5" ry="2.6" fill="#ffff20" fill-opacity="0.11"/><ellipse cx="954.4" cy="211.5" rx="1.6" ry="1.5" fill="#ffff20" fill-opacity="0.19"/><ellipse cx="960.8" cy="155.6" rx="1.4" ry="1.4" fill="#ffff20" fill-opacity="0.33"/><ellipse cx="1166.7" cy="317.4" rx="1.5" ry="1.4" fill="#ffff20" fill-opacity="0.82"/><ellipse cx="998.4" cy="252.2" rx="2.0" ry="2.2" fill="#ffff20" fill-opacity="0.81"/><ellipse cx="924.2" cy="252.8" rx="1.1" ry="1.3" fill="#ffff20" fill-opacity="0.14"/><ellipse cx="1051.1" cy="234.4" rx="1.4" ry="1.5" fill="#ffff20" fill-opacity="0.65"/><ellipse cx="1145.4" cy="348.2" rx="2.0" ry="2.0" fill="#ffff20" fill-opacity="0.62"/><ellipse cx="1122.2" cy="279.9" rx="1.7" ry="1.5" fill="#ffff20" fill-opacity="0.22"/><ellipse cx="1043.8" cy="236.5" rx="1.3" ry="1.0" fill="#ffff20" fill-opacity="0.83"/><ellipse cx="1096.9" cy="268.8" rx="2.5" ry="2.4" fill="#ffff20" fill-opacity="0.36"/><ellipse cx="1081.2" cy="294.1" rx="1.5" ry="1.7" fill="#ffff20" fill-opacity="0.43"/><ellipse cx="1034.9" cy="278.5" rx="1.4" ry="1.6" fill="#ffff20" fill-opacity="0.81"/><ellipse cx="1137.8" cy="254.3" rx="1.2" ry="1.2" fill="#ffff20" fill-opacity="0.22"/><ellipse cx="924.8" cy="230.9" rx="2.1" ry="1.9" fill="#ffff20" fill-opacity="0.28"/><ellipse cx="985.7" cy="258.1" rx="1.6" ry="1.6" fill="#ffff20" fill-opacity="0.44"/><ellipse cx="1084.6" cy="222.1" rx="1.8" ry="2.0" fill="#ffff20" fill-opacity="0.41"/><ellipse cx="990.3" cy="198.3" rx="2.5" ry="2.5" fill="#ffff20" fill-opacity="0.68"/><ellipse cx="1094.3" cy="278.5" rx="2.5" ry="2.6" fill="#ffff20" fill-opacity="0.51"/><ellipse cx="956.6" cy="227.2" rx="2.3" ry="2.5" fill="#ffff20" fill-opacity="0.20"/><ellipse cx="994.7" cy="268.0" rx="1.7" ry="1.5" fill="#ffff20" fill-opacity="0.10"/><ellipse cx="1140.8" cy="292.0" rx="2.1" ry="2.0" fill="#ffff20" fill-opacity="0.25"/><ellipse cx="910.0" cy="263.8" rx="1.1" ry="0.9" fill="#ffff20" fill-opacity="0.58"/><ellipse cx="1033.7" cy="246.0" rx="1.6" ry="1.6" fill="#ffff20" fill-opacity="0.58"/><ellipse cx="1144.4" cy="286.0" rx="2.5" ry="2.7" fill="#ffff20" fill-opacity="0.22"/><ellipse cx="1025.9" cy="235.6" rx="2.6" ry="2.3" fill="#ffff20" fill-opacity="0.50"/><ellipse cx="937.5" cy="275.8" rx="2.1" ry="1.9" fill="#ffff20" fill-opacity="0.77"/><ellipse cx="939.7" cy="275.2" rx="2.0" ry="2.2" fill="#ffff20" fill-opacity="0.17"/><ellipse cx="1050.1" cy="250.3" rx="2.3" ry="2.1" fill="#ffff20" fill-opacity="0.53"/><ellipse cx="1082.8" cy="298.0" rx="2.2" ry="2.0" fill="#ffff20" fill-opacity="0.25"/><ellipse cx="1105.3" cy="278.8" rx="1.6" ry="1.9" fill="#ffff20" fill-opacity="0.56"/><ellipse cx="959.4" cy="263.4" rx="1.8" ry="1.9" fill="#ffff20" fill-opacity="0.56"/><ellipse cx="948.0" cy="171.3" rx="1.5" ry="1.2" fill="#ffff20" fill-opacity="0.15"/><ellipse cx="1043.3" cy="260.1" rx="2.0" ry="2.1" fill="#ffff20" fill-opacity="0.85"/><ellipse cx="1148.3" cy="300.7" rx="2.0" ry="2.3" fill="#ffff20" fill-opacity="0.86"/><ellipse cx="1095.5" cy="339.2" rx="1.8" ry="1.8" fill="#ffff20" fill-opacity="0.41"/><ellipse cx="1089.9" cy="290.1" rx="1.7" ry="1.8" fill="#ffff20" fill-opacity="0.49"/><ellipse cx="1068.5" cy="304.8" rx="1.3" ry="1.5" fill="#ffff20" fill-opacity="0.45"/><ellipse cx="1093.8" cy="274.8" rx="2.2" ry="2.3" fill="#ffff20" fill-opacity="0.51"/><ellipse cx="1058.7" cy="229.7" rx="2.0" ry="1.7" fill="#ffff20" fill-opacity="0.16"/><ellipse cx="964.8" cy="268.3" rx="2.2" ry="2.1" fill="#ffff20" fill-opacity="0.16"/><ellipse cx="1028.5" cy="193.8" rx="2.3" ry="2.6" fill="#ffff20" fill-opacity="0.66"/><ellipse cx="975.1" cy="275.9" rx="1.7" ry="1.4" fill="#ffff20" fill-opacity="0.65"/><ellipse cx="1002.5" cy="224.9" rx="1.4" ry="1.5" fill="#ffff20" fill-opacity="0.60"/><ellipse cx="1033.8" cy="250.1" rx="1.5" ry="1.2" fill="#ffff20" fill-opacity="0.51"/><ellipse cx="1065.8" cy="289.3" rx="2.3" ry="2.4" fill="#ffff20" fill-opacity="0.86"/><ellipse cx="1037.4" cy="177.1" rx="1.4" ry="1.6" fill="#ffff20" fill-opacity="0.38"/><ellipse cx="950.4" cy="169.4" rx="2.0" ry="1.8" fill="#ffff20" fill-opacity="0.23"/><ellipse cx="894.9" cy="189.2" rx="1.9" ry="2.0" fill="#ffff20" fill-opacity="0.79"/><ellipse cx="1030.5" cy="323.3" rx="2.0" ry="2.0" fill="#ffff20" fill-opacity="0.56"/><ellipse cx="887.4" cy="185.2" rx="2.0" ry="2.0" fill="#ffff20" fill-opacity="0.26"/><ellipse cx="937.2" cy="271.7" rx="2.1" ry="2.0" fill="#ffff20" fill-opacity="0.11"/><ellipse cx="976.3" cy="299.8" rx="1.4" ry="1.3" fill="#ffff20" fill-opacity="0.59"/><ellipse cx="1133.3" cy="291.4" rx="2.1" ry="2.1" fill="#ffff20" fill-opacity="0.70"/><ellipse cx="928.7" cy="166.5" rx="1.6" ry="1.5" fill="#ffff20" fill-opacity="0.64"/><ellipse cx="977.0" cy="306.4" rx="2.1" ry="2.1" fill="#ffff20" fill-opacity="0.77"/><ellipse cx="1138.3" cy="295.9" rx="1.1" ry="1.2" fill="#ffff20" fill-opacity="0.74"/><ellipse cx="897.1" cy="250.6" rx="2.4" ry="2.1" fill="#ffff20" fill-opacity="0.69"/><ellipse cx="1103.3" cy="236.5" rx="1.9" ry="2.2" fill="#ffff20" fill-opacity="0.30"/><ellipse cx="947.1" cy="273.7" rx="2.1" ry="2.2" fill="#ffff20" fill-opacity="0.86"/><ellipse cx="1009.7" cy="157.2" rx="1.6" ry="1.5" fill="#ffff20" fill-opacity="0.16"/><ellipse cx="898.8" cy="196.7" rx="2.1" ry="1.8" fill="#ffff20" fill-opacity="0.73"/><ellipse cx="1028.1" cy="240.6" rx="1.3" ry="1.2" fill="#ffff20" fill-opacity="0.83"/><ellipse cx="1125.6" cy="350.3" rx="1.8" ry="2.0" fill="#ffff20" fill-opacity="0.31"/><ellipse cx="963.3" cy="292.1" rx="1.5" ry="1.4" fill="#ffff20" fill-opacity="0.86"/><ellipse cx="1084.1" cy="345.2" rx="1.4" ry="1.6" fill="#ffff20" fill-opacity="0.76"/><ellipse cx="962.2" cy="279.8" rx="2.1" ry="1.9" fill="#ffff20" fill-opacity="0.63"/><ellipse cx="1147.3" cy="306.1" rx="2.5" ry="2.5" fill="#ffff20" fill-opacity="0.22"/><ellipse cx="960.5" cy="193.9" rx="2.0" ry="2.4" fill="#ffff20" fill-opacity="0.51"/><ellipse cx="917.6" cy="160.6" rx="1.3" ry="1.2" fill="#ffff20" fill-opacity="0.54"/><ellipse cx="1072.8" cy="233.6" rx="1.2" ry="0.9" fill="#ffff20" fill-opacity="0.33"/><ellipse cx="895.1" cy="185.5" rx="1.5" ry="1.5" fill="#ffff20" fill-opacity="0.13"/><ellipse cx="1167.8" cy="300.9" rx="1.9" ry="2.1" fill="#ffff20" fill-opacity="0.29"/><ellipse cx="1089.6" cy="313.8" rx="2.0" ry="2.0" fill="#ffff20" fill-opacity="0.68"/><ellipse cx="993.7" cy="185.9" rx="2.0" ry="2.1" fill="#ffff20" fill-opacity="0.48"/><ellipse cx="1039.9" cy="263.3" rx="2.3" ry="2.0" fill="#ffff20" fill-opacity="0.15"/><ellipse cx="1085.9" cy="298.2" rx="2.4" ry="2.7" fill="#ffff20" fill-opacity="0.09"/><ellipse cx="1156.0" cy="247.7" rx="2.4" ry="2.5" fill="#ffff20" fill-opacity="0.74"/><ellipse cx="1034.4" cy="276.4" rx="2.2" ry="2.0" fill="#ffff20" fill-opacity="0.15"/><ellipse cx="1065.4" cy="295.7" rx="2.2" ry="2.4" fill="#ffff20" fill-opacity="0.41"/><ellipse cx="1150.9" cy="353.1" rx="1.5" ry="1.4" fill="#ffff20" fill-opacity="0.81"/><ellipse cx="1158.6" cy="271.2" rx="1.8" ry="1.6" fill="#ffff20" fill-opacity="0.86"/><ellipse cx="901.6" cy="204.1" rx="2.6" ry="2.2" fill="#ffff20" fill-opacity="0.21"/><ellipse cx="936.0" cy="211.3" rx="2.2" ry="2.1" fill="#ffff20" fill-opacity="0.41"/><ellipse cx="952.1" cy="193.4" rx="2.1" ry="1.9" fill="#ffff20" fill-opacity="0.51"/><ellipse cx="957.5" cy="255.2" rx="1.4" ry="1.2" fill="#ffff20" fill-opacity="0.47"/><ellipse cx="1030.0" cy="279.1" rx="1.7" ry="2.0" fill="#ffff20" fill-opacity="0.17"/><ellipse cx="1111.8" cy="348.0" rx="2.5" ry="2.2" fill="#ffff20" fill-opacity="0.31"/><ellipse cx="891.0" cy="258.3" rx="1.3" ry="1.2" fill="#ffff20" fill-opacity="0.85"/><ellipse cx="1119.1" cy="225.3" rx="1.6" ry="1.9" fill="#ffff20" fill-opacity="0.85"/><ellipse cx="1070.7" cy="294.7" rx="2.1" ry="1.9" fill="#ffff20" fill-opacity="0.38"/><ellipse cx="1087.7" cy="254.3" rx="1.4" ry="1.2" fill="#ffff20" fill-opacity="0.31"/><ellipse cx="954.8" cy="181.5" rx="1.3" ry="1.4" fill="#ffff20" fill-opacity="0.45"/><ellipse cx="956.4" cy="283.0" rx="1.5" ry="1.4" fill="#ffff20" fill-opacity="0.17"/><ellipse cx="943.7" cy="269.9" rx="1.3" ry="1.2" fill="#ffff20" fill-opacity="0.13"/><ellipse cx="1012.7" cy="159.9" rx="1.9" ry="1.7" fill="#ffff20" fill-opacity="0.66"/><ellipse cx="1100.6" cy="338.4" rx="1.5" ry="1.7" fill="#ffff20" fill-opacity="0.82"/><ellipse cx="1035.8" cy="280.8" rx="2.5" ry="2.2" fill="#ffff20" fill-opacity="0.81"/><ellipse cx="1028.6" cy="189.6" rx="1.8" ry="2.1" fill="#ffff20" fill-opacity="0.40"/><ellipse cx="983.4" cy="254.1" rx="1.9" ry="1.7" fill="#ffff20" fill-opacity="0.65"/><ellipse cx="1007.4" cy="343.4" rx="1.7" ry="1.9" fill="#ffff20" fill-opacity="0.61"/><ellipse cx="1011.4" cy="249.7" rx="1.7" ry="1.4" fill="#ffff20" fill-opacity="0.26"/><ellipse cx="896.8" cy="239.6" rx="1.7" ry="1.6" fill="#ffff20" fill-opacity="0.50"/><ellipse cx="1002.3" cy="139.5" rx="1.1" ry="1.1" fill="#ffff20" fill-opacity="0.77"/><ellipse cx="1151.3" cy="334.7" rx="2.5" ry="2.7" fill="#ffff20" fill-opacity="0.59"/><ellipse cx="943.0" cy="256.0" rx="2.0" ry="2.4" fill="#ffff20" fill-opacity="0.68"/><ellipse cx="1131.0" cy="366.6" rx="1.8" ry="1.8" fill="#ffff20" fill-opacity="0.82"/><ellipse cx="989.1" cy="262.2" rx="1.9" ry="2.0" fill="#ffff20" fill-opacity="0.28"/><ellipse cx="1065.3" cy="286.6" rx="2.1" ry="2.1" fill="#ffff20" fill-opacity="0.82"/><ellipse cx="1135.9" cy="339.8" rx="2.6" ry="3.1" fill="#ffff20" fill-opacity="0.83"/><ellipse cx="987.9" cy="214.7" rx="1.2" ry="1.0" fill="#ffff20" fill-opacity="0.31"/><ellipse cx="1132.6" cy="107.4" rx="2.3" ry="2.4" fill="#ffff20" fill-opacity="0.25"/><ellipse cx="998.8" cy="253.7" rx="1.3" ry="1.1" fill="#ffff20" fill-opacity="0.16"/><ellipse cx="1077.6" cy="279.7" rx="1.3" ry="1.4" fill="#ffff20" fill-opacity="0.20"/><ellipse cx="1075.7" cy="266.9" rx="1.4" ry="1.4" fill="#ffff20" fill-opacity="0.16"/><ellipse cx="885.1" cy="255.1" rx="2.4" ry="2.5" fill="#ffff20" fill-opacity="0.76"/><ellipse cx="1137.8" cy="291.1" rx="2.2" ry="2.4" fill="#ffff20" fill-opacity="0.26"/><ellipse cx="1001.6" cy="257.1" rx="1.7" ry="1.7" fill="#ffff20" fill-opacity="0.35"/><ellipse cx="974.7" cy="229.3" rx="2.5" ry="2.4" fill="#ffff20" fill-opacity="0.69"/><ellipse cx="1118.3" cy="248.2" rx="2.0" ry="1.7" fill="#ffff20" fill-opacity="0.22"/><ellipse cx="1152.7" cy="279.4" rx="2.0" ry="2.2" fill="#ffff20" fill-opacity="0.23"/><ellipse cx="1108.8" cy="104.4" rx="1.5" ry="1.4" fill="#ffff20" fill-opacity="0.40"/><ellipse cx="1020.5" cy="266.0" rx="1.7" ry="2.0" fill="#ffff20" fill-opacity="0.52"/><ellipse cx="951.0" cy="205.3" rx="1.5" ry="1.4" fill="#ffff20" fill-opacity="0.44"/><ellipse cx="1092.9" cy="360.4" rx="1.3" ry="1.3" fill="#ffff20" fill-opacity="0.12"/><ellipse cx="1121.1" cy="376.4" rx="2.1" ry="2.4" fill="#ffff20" fill-opacity="0.78"/><ellipse cx="1075.4" cy="281.4" rx="2.0" ry="1.9" fill="#ffff20" fill-opacity="0.48"/><ellipse cx="1122.7" cy="271.5" rx="1.9" ry="1.7" fill="#ffff20" fill-opacity="0.47"/><ellipse cx="987.7" cy="240.0" rx="1.8" ry="1.6" fill="#ffff20" fill-opacity="0.39"/><ellipse cx="1114.4" cy="376.5" rx="2.4" ry="2.5" fill="#ffff20" fill-opacity="0.30"/><ellipse cx="1040.2" cy="288.3" rx="1.5" ry="1.5" fill="#ffff20" fill-opacity="0.48"/><ellipse cx="1012.8" cy="220.4" rx="1.5" ry="1.5" fill="#ffff20" fill-opacity="0.36"/><ellipse cx="932.9" cy="167.9" rx="2.0" ry="2.3" fill="#ffff20" fill-opacity="0.33"/><ellipse cx="957.4" cy="192.0" rx="1.9" ry="2.0" fill="#ffff20" fill-opacity="0.57"/><ellipse cx="1122.1" cy="259.1" rx="1.5" ry="1.3" fill="#ffff20" fill-opacity="0.80"/><ellipse cx="1157.5" cy="234.6" rx="1.3" ry="1.4" fill="#ffff20" fill-opacity="0.25"/><ellipse cx="1118.8" cy="294.4" rx="1.8" ry="1.8" fill="#ffff20" fill-opacity="0.24"/><ellipse cx="916.2" cy="205.0" rx="1.4" ry="1.6" fill="#ffff20" fill-opacity="0.11"/><ellipse cx="1004.3" cy="298.5" rx="1.3" ry="1.4" fill="#ffff20" fill-opacity="0.33"/><ellipse cx="938.5" cy="261.2" rx="1.4" ry="1.5" fill="#ffff20" fill-opacity="0.85"/><ellipse cx="1079.8" cy="251.3" rx="1.4" ry="1.5" fill="#ffff20" fill-opacity="0.35"/><ellipse cx="1137.0" cy="227.0" rx="2.6" ry="2.7" fill="#ffff20" fill-opacity="0.77"/><ellipse cx="959.4" cy="288.3" rx="2.1" ry="1.8" fill="#ffff20" fill-opacity="0.39"/><ellipse cx="959.1" cy="221.2" rx="3.1" ry="3.1" fill="#ffff20" fill-opacity="0.95"/><ellipse cx="963.1" cy="229.2" rx="2.6" ry="2.6" fill="#ffff20" fill-opacity="0.95"/><ellipse cx="980.6" cy="237.3" rx="2.5" ry="2.5" fill="#ffff20" fill-opacity="0.95"/><ellipse cx="991.4" cy="244.0" rx="3.4" ry="3.4" fill="#ffff20" fill-opacity="0.95"/><ellipse cx="1007.5" cy="250.8" rx="3.3" ry="3.3" fill="#ffff20" fill-opacity="0.95"/><ellipse cx="1027.7" cy="230.6" rx="3.1" ry="3.1" fill="#ffff20" fill-opacity="0.95"/><ellipse cx="1021.0" cy="272.3" rx="2.5" ry="2.5" fill="#ffff20" fill-opacity="0.95"/><ellipse cx="1029.0" cy="271.0" rx="3.1" ry="3.1" fill="#ffff20" fill-opacity="0.95"/><ellipse cx="991.4" cy="275.0" rx="3.4" ry="3.4" fill="#ffff20" fill-opacity="0.95"/><ellipse cx="979.3" cy="264.2" rx="3.2" ry="3.2" fill="#ffff20" fill-opacity="0.95"/><ellipse cx="1053.3" cy="238.7" rx="3.1" ry="3.1" fill="#ffff20" fill-opacity="0.95"/><ellipse cx="1066.7" cy="209.1" rx="2.8" ry="2.8" fill="#ffff20" fill-opacity="0.95"/><ellipse cx="1077.5" cy="215.8" rx="3.0" ry="3.0" fill="#ffff20" fill-opacity="0.95"/><ellipse cx="1082.9" cy="230.6" rx="3.3" ry="3.3" fill="#ffff20" fill-opacity="0.95"/><ellipse cx="1101.7" cy="268.3" rx="2.9" ry="2.9" fill="#ffff20" fill-opacity="0.95"/><ellipse cx="1080.2" cy="288.5" rx="2.5" ry="2.5" fill="#ffff20" fill-opacity="0.95"/><ellipse cx="1123.3" cy="322.1" rx="2.5" ry="2.5" fill="#ffff20" fill-opacity="0.95"/><ellipse cx="1155.6" cy="250.8" rx="3.4" ry="3.4" fill="#ffff20" fill-opacity="0.95"/><ellipse cx="1147.5" cy="264.2" rx="3.1" ry="3.1" fill="#ffff20" fill-opacity="0.95"/><ellipse cx="946.9" cy="175.4" rx="3.3" ry="3.3" fill="#ffff20" fill-opacity="0.95"/><ellipse cx="907.9" cy="171.4" rx="2.5" ry="2.5" fill="#ffff20" fill-opacity="0.95"/><ellipse cx="885.0" cy="201.0" rx="2.5" ry="2.5" fill="#ffff20" fill-opacity="0.95"/><ellipse cx="1004.8" cy="218.5" rx="3.1" ry="3.1" fill="#ffff20" fill-opacity="0.95"/><ellipse cx="1038.5" cy="219.8" rx="2.8" ry="2.8" fill="#ffff20" fill-opacity="0.95"/><ellipse cx="1053.3" cy="276.3" rx="2.9" ry="2.9" fill="#ffff20" fill-opacity="0.95"/><ellipse cx="1064.0" cy="203.7" rx="2.6" ry="2.6" fill="#ffff20" fill-opacity="0.95"/><ellipse cx="969.8" cy="242.7" rx="3.2" ry="3.2" fill="#ffff20" fill-opacity="0.95"/><ellipse cx="1010.2" cy="262.9" rx="3.2" ry="3.2" fill="#ffff20" fill-opacity="0.95"/><ellipse cx="1042.5" cy="257.5" rx="3.1" ry="3.1" fill="#ffff20" fill-opacity="0.95"/><ellipse cx="1115.2" cy="241.4" rx="2.8" ry="2.8" fill="#ffff20" fill-opacity="0.95"/><ellipse cx="1139.4" cy="284.4" rx="2.9" ry="2.9" fill="#ffff20" fill-opacity="0.95"/><ellipse cx="1011.4" cy="305.6" rx="1.1" ry="1.1" fill="#ff2a00" fill-opacity="0.70"/><ellipse cx="1042.3" cy="353.7" rx="1.1" ry="1.1" fill="#ff2a00" fill-opacity="0.70"/><ellipse cx="1039.0" cy="369.9" rx="1.1" ry="1.1" fill="#ff2a00" fill-opacity="0.70"/><ellipse cx="1003.8" cy="332.4" rx="1.1" ry="1.1" fill="#ff2a00" fill-opacity="0.70"/><ellipse cx="981.1" cy="351.3" rx="1.1" ry="1.1" fill="#ff2a00" fill-opacity="0.70"/><ellipse cx="1062.4" cy="337.9" rx="1.1" ry="1.1" fill="#ff2a00" fill-opacity="0.70"/><ellipse cx="1068.3" cy="310.0" rx="1.1" ry="1.1" fill="#ff2a00" fill-opacity="0.70"/><ellipse cx="1054.9" cy="305.4" rx="1.1" ry="1.1" fill="#ff2a00" fill-opacity="0.70"/><ellipse cx="1039.3" cy="316.5" rx="1.1" ry="1.1" fill="#ff2a00" fill-opacity="0.70"/><ellipse cx="979.0" cy="338.9" rx="1.1" ry="1.1" fill="#ff2a00" fill-opacity="0.70"/><ellipse cx="998.3" cy="346.3" rx="1.1" ry="1.1" fill="#ff2a00" fill-opacity="0.70"/><ellipse cx="1023.0" cy="348.6" rx="1.1" ry="1.1" fill="#ff2a00" fill-opacity="0.70"/><ellipse cx="1048.8" cy="298.1" rx="1.1" ry="1.1" fill="#ff2a00" fill-opacity="0.70"/><ellipse cx="982.1" cy="324.4" rx="1.1" ry="1.1" fill="#ff2a00" fill-opacity="0.70"/><ellipse cx="1013.3" cy="312.1" rx="1.1" ry="1.1" fill="#ff2a00" fill-opacity="0.70"/><ellipse cx="1043.7" cy="363.6" rx="1.1" ry="1.1" fill="#ff2a00" fill-opacity="0.70"/><ellipse cx="985.8" cy="343.8" rx="1.1" ry="1.1" fill="#ff2a00" fill-opacity="0.70"/><ellipse cx="1059.6" cy="356.5" rx="1.1" ry="1.1" fill="#ff2a00" fill-opacity="0.70"/><ellipse cx="1033.4" cy="353.6" rx="1.1" ry="1.1" fill="#ff2a00" fill-opacity="0.70"/><ellipse cx="1074.4" cy="350.3" rx="1.1" ry="1.1" fill="#ff2a00" fill-opacity="0.70"/><ellipse cx="991.9" cy="357.7" rx="1.1" ry="1.1" fill="#ff2a00" fill-opacity="0.70"/><ellipse cx="1052.8" cy="340.0" rx="1.1" ry="1.1" fill="#ff2a00" fill-opacity="0.70"/><ellipse cx="1056.2" cy="308.8" rx="1.1" ry="1.1" fill="#ff2a00" fill-opacity="0.70"/><ellipse cx="983.1" cy="355.3" rx="1.1" ry="1.1" fill="#ff2a00" fill-opacity="0.70"/><ellipse cx="1039.9" cy="319.0" rx="1.1" ry="1.1" fill="#ff2a00" fill-opacity="0.70"/><ellipse cx="995.1" cy="360.0" rx="1.1" ry="1.1" fill="#ff2a00" fill-opacity="0.70"/><ellipse cx="1076.9" cy="330.4" rx="1.1" ry="1.1" fill="#ff2a00" fill-opacity="0.70"/><ellipse cx="1042.2" cy="366.5" rx="1.1" ry="1.1" fill="#ff2a00" fill-opacity="0.70"/><ellipse cx="1000.8" cy="323.0" rx="1.1" ry="1.1" fill="#ff2a00" fill-opacity="0.70"/><ellipse cx="1013.3" cy="354.3" rx="1.1" ry="1.1" fill="#ff2a00" fill-opacity="0.70"/><ellipse cx="1022.9" cy="323.7" rx="1.1" ry="1.1" fill="#ff2a00" fill-opacity="0.70"/><ellipse cx="1074.7" cy="349.5" rx="1.1" ry="1.1" fill="#ff2a00" fill-opacity="0.70"/><ellipse cx="1019.6" cy="333.9" rx="1.1" ry="1.1" fill="#ff2a00" fill-opacity="0.70"/><ellipse cx="1020.9" cy="346.2" rx="1.1" ry="1.1" fill="#ff2a00" fill-opacity="0.70"/><ellipse cx="1051.9" cy="335.8" rx="1.1" ry="1.1" fill="#ff2a00" fill-opacity="0.70"/><ellipse cx="1025.5" cy="366.7" rx="1.1" ry="1.1" fill="#ff2a00" fill-opacity="0.70"/><ellipse cx="995.3" cy="340.6" rx="1.1" ry="1.1" fill="#ff2a00" fill-opacity="0.70"/><ellipse cx="1065.7" cy="336.8" rx="1.1" ry="1.1" fill="#ff2a00" fill-opacity="0.70"/><ellipse cx="1073.4" cy="330.6" rx="1.1" ry="1.1" fill="#ff2a00" fill-opacity="0.70"/><ellipse cx="1015.2" cy="316.9" rx="1.1" ry="1.1" fill="#ff2a00" fill-opacity="0.70"/><ellipse cx="973.8" cy="335.7" rx="1.1" ry="1.1" fill="#ff2a00" fill-opacity="0.70"/><ellipse cx="1028.4" cy="369.0" rx="1.1" ry="1.1" fill="#ff2a00" fill-opacity="0.70"/><ellipse cx="1028.5" cy="366.6" rx="1.1" ry="1.1" fill="#ff2a00" fill-opacity="0.70"/><ellipse cx="1032.2" cy="357.4" rx="1.1" ry="1.1" fill="#ff2a00" fill-opacity="0.70"/><ellipse cx="1024.1" cy="342.3" rx="1.1" ry="1.1" fill="#ff2a00" fill-opacity="0.70"/><ellipse cx="1075.7" cy="354.1" rx="1.1" ry="1.1" fill="#ff2a00" fill-opacity="0.70"/><ellipse cx="1083.8" cy="336.9" rx="1.1" ry="1.1" fill="#ff2a00" fill-opacity="0.70"/><ellipse cx="986.6" cy="339.6" rx="1.1" ry="1.1" fill="#ff2a00" fill-opacity="0.70"/><ellipse cx="1021.3" cy="361.6" rx="1.1" ry="1.1" fill="#ff2a00" fill-opacity="0.70"/><ellipse cx="1044.1" cy="325.9" rx="1.1" ry="1.1" fill="#ff2a00" fill-opacity="0.70"/><ellipse cx="1037.5" cy="357.6" rx="1.1" ry="1.1" fill="#ff2a00" fill-opacity="0.70"/><ellipse cx="1052.0" cy="339.0" rx="1.1" ry="1.1" fill="#ff2a00" fill-opacity="0.70"/><ellipse cx="978.5" cy="349.4" rx="1.1" ry="1.1" fill="#ff2a00" fill-opacity="0.70"/><ellipse cx="1073.3" cy="343.9" rx="1.1" ry="1.1" fill="#ff2a00" fill-opacity="0.70"/><ellipse cx="1042.3" cy="314.6" rx="1.1" ry="1.1" fill="#ff2a00" fill-opacity="0.70"/><ellipse cx="1010.6" cy="332.0" rx="1.1" ry="1.1" fill="#ff2a00" fill-opacity="0.70"/><ellipse cx="1031.7" cy="373.3" rx="1.1" ry="1.1" fill="#ff2a00" fill-opacity="0.70"/><ellipse cx="994.7" cy="339.2" rx="1.1" ry="1.1" fill="#ff2a00" fill-opacity="0.70"/><ellipse cx="1039.9" cy="318.5" rx="1.1" ry="1.1" fill="#ff2a00" fill-opacity="0.70"/><ellipse cx="1002.0" cy="302.5" rx="1.1" ry="1.1" fill="#ff2a00" fill-opacity="0.70"/><ellipse cx="1066.0" cy="323.3" rx="1.1" ry="1.1" fill="#ff2a00" fill-opacity="0.70"/><ellipse cx="991.1" cy="310.8" rx="1.1" ry="1.1" fill="#ff2a00" fill-opacity="0.70"/><ellipse cx="1047.6" cy="345.8" rx="1.1" ry="1.1" fill="#ff2a00" fill-opacity="0.70"/><ellipse cx="1047.8" cy="309.0" rx="1.1" ry="1.1" fill="#ff2a00" fill-opacity="0.70"/><ellipse cx="1062.8" cy="330.8" rx="1.1" ry="1.1" fill="#ff2a00" fill-opacity="0.70"/><ellipse cx="1040.9" cy="338.2" rx="1.1" ry="1.1" fill="#ff2a00" fill-opacity="0.70"/><ellipse cx="1070.7" cy="357.1" rx="1.1" ry="1.1" fill="#ff2a00" fill-opacity="0.70"/><ellipse cx="1085.0" cy="335.9" rx="1.1" ry="1.1" fill="#ff2a00" fill-opacity="0.70"/><ellipse cx="991.6" cy="310.7" rx="1.1" ry="1.1" fill="#ff2a00" fill-opacity="0.70"/><ellipse cx="1017.8" cy="369.8" rx="1.1" ry="1.1" fill="#ff2a00" fill-opacity="0.70"/><ellipse cx="1009.5" cy="373.3" rx="1.1" ry="1.1" fill="#ff2a00" fill-opacity="0.70"/><ellipse cx="1025.1" cy="371.2" rx="1.1" ry="1.1" fill="#ff2a00" fill-opacity="0.70"/><ellipse cx="1041.3" cy="336.2" rx="1.1" ry="1.1" fill="#ff2a00" fill-opacity="0.70"/><ellipse cx="1002.4" cy="369.7" rx="1.1" ry="1.1" fill="#ff2a00" fill-opacity="0.70"/><ellipse cx="1063.6" cy="306.1" rx="1.1" ry="1.1" fill="#ff2a00" fill-opacity="0.70"/><ellipse cx="1083.3" cy="334.5" rx="1.1" ry="1.1" fill="#ff2a00" fill-opacity="0.70"/><ellipse cx="1028.1" cy="363.1" rx="1.1" ry="1.1" fill="#ff2a00" fill-opacity="0.70"/><ellipse cx="1005.3" cy="332.0" rx="1.1" ry="1.1" fill="#ff2a00" fill-opacity="0.70"/><ellipse cx="1005.1" cy="338.6" rx="1.1" ry="1.1" fill="#ff2a00" fill-opacity="0.70"/><ellipse cx="1084.1" cy="343.7" rx="1.1" ry="1.1" fill="#ff2a00" fill-opacity="0.70"/><ellipse cx="1067.8" cy="354.5" rx="1.1" ry="1.1" fill="#ff2a00" fill-opacity="0.70"/><ellipse cx="1062.8" cy="317.4" rx="1.1" ry="1.1" fill="#ff2a00" fill-opacity="0.70"/><ellipse cx="1045.1" cy="320.0" rx="1.1" ry="1.1" fill="#ff2a00" fill-opacity="0.70"/><ellipse cx="1007.7" cy="314.9" rx="1.1" ry="1.1" fill="#ff2a00" fill-opacity="0.70"/><ellipse cx="1086.2" cy="341.1" rx="1.1" ry="1.1" fill="#ff2a00" fill-opacity="0.70"/><ellipse cx="1043.6" cy="322.7" rx="1.1" ry="1.1" fill="#ff2a00" fill-opacity="0.70"/><ellipse cx="973.3" cy="335.8" rx="1.1" ry="1.1" fill="#ff2a00" fill-opacity="0.70"/><ellipse cx="984.4" cy="338.6" rx="1.1" ry="1.1" fill="#ff2a00" fill-opacity="0.70"/><ellipse cx="1025.2" cy="335.3" rx="1.1" ry="1.1" fill="#ff2a00" fill-opacity="0.70"/><ellipse cx="1033.1" cy="312.7" rx="1.1" ry="1.1" fill="#ff2a00" fill-opacity="0.70"/><ellipse cx="1078.7" cy="346.5" rx="1.1" ry="1.1" fill="#ff2a00" fill-opacity="0.70"/><ellipse cx="1075.3" cy="318.3" rx="1.1" ry="1.1" fill="#ff2a00" fill-opacity="0.70"/><ellipse cx="1080.7" cy="316.2" rx="1.1" ry="1.1" fill="#ff2a00" fill-opacity="0.70"/><ellipse cx="1055.2" cy="307.2" rx="1.1" ry="1.1" fill="#ff2a00" fill-opacity="0.70"/><ellipse cx="1008.1" cy="309.3" rx="1.1" ry="1.1" fill="#ff2a00" fill-opacity="0.70"/><ellipse cx="1065.2" cy="361.4" rx="1.1" ry="1.1" fill="#ff2a00" fill-opacity="0.70"/><ellipse cx="1076.1" cy="347.1" rx="1.1" ry="1.1" fill="#ff2a00" fill-opacity="0.70"/><ellipse cx="978.3" cy="333.4" rx="1.1" ry="1.1" fill="#ff2a00" fill-opacity="0.70"/><ellipse cx="991.3" cy="360.5" rx="1.1" ry="1.1" fill="#ff2a00" fill-opacity="0.70"/><ellipse cx="996.3" cy="324.8" rx="1.1" ry="1.1" fill="#ff2a00" fill-opacity="0.70"/><ellipse cx="976.0" cy="349.3" rx="1.1" ry="1.1" fill="#ff2a00" fill-opacity="0.70"/><ellipse cx="1004.1" cy="302.2" rx="1.1" ry="1.1" fill="#ff2a00" fill-opacity="0.70"/><ellipse cx="1019.1" cy="343.9" rx="1.1" ry="1.1" fill="#ff2a00" fill-opacity="0.70"/><ellipse cx="984.5" cy="354.5" rx="1.1" ry="1.1" fill="#ff2a00" fill-opacity="0.70"/><ellipse cx="1071.0" cy="333.7" rx="1.1" ry="1.1" fill="#ff2a00" fill-opacity="0.70"/><ellipse cx="983.2" cy="322.4" rx="1.1" ry="1.1" fill="#ff2a00" fill-opacity="0.70"/><ellipse cx="1035.9" cy="350.9" rx="1.1" ry="1.1" fill="#ff2a00" fill-opacity="0.70"/><ellipse cx="1012.8" cy="373.4" rx="1.1" ry="1.1" fill="#ff2a00" fill-opacity="0.70"/><ellipse cx="1060.8" cy="327.2" rx="1.1" ry="1.1" fill="#ff2a00" fill-opacity="0.70"/><ellipse cx="1048.7" cy="334.1" rx="1.1" ry="1.1" fill="#ff2a00" fill-opacity="0.70"/></g>
</g>
<rect x="891.4" y="105.7" width="13.6" height="3.1" fill="#fff"/>
<g clip-path="url(#cp4)">
<rect x="1191" y="92" width="293" height="292.5" fill="#5a4c04"/>
<g filter="url(#fb5)"><ellipse cx="1337.0" cy="267.0" rx="210.0" ry="150.0" fill="#9a8a0e" fill-opacity="0.90"/><ellipse cx="1337.0" cy="104.0" rx="190.0" ry="42.0" fill="#362c00" fill-opacity="0.85"/><ellipse cx="1231.0" cy="132.0" rx="60.0" ry="45.0" fill="#2a2200" fill-opacity="0.50"/><ellipse cx="1431.0" cy="141.0" rx="13.0" ry="13.0" fill="#000" fill-opacity="0.80"/><ellipse cx="1337.0" cy="380.0" rx="180.0" ry="22.0" fill="#a86c10" fill-opacity="0.60"/><ellipse cx="1365.6" cy="324.0" rx="9.0" ry="9.0" fill="#201800" fill-opacity="0.50"/><ellipse cx="1211.0" cy="292.0" rx="30.0" ry="40.0" fill="#7a5a08" fill-opacity="0.40"/><ellipse cx="1461.0" cy="212.0" rx="30.0" ry="40.0" fill="#a89a10" fill-opacity="0.40"/></g>
<g filter="url(#fm6)"><ellipse cx="1431.0" cy="141.0" rx="11.0" ry="13.0" fill="#000" fill-opacity="0.85"/><ellipse cx="1365.6" cy="324.0" rx="10.0" ry="8.0" fill="#000" fill-opacity="0.45"/><ellipse cx="1199.0" cy="267.0" rx="10.0" ry="25.0" fill="#000" fill-opacity="0.40"/><ellipse cx="1316.0" cy="277.0" rx="35.0" ry="25.0" fill="#000" fill-opacity="0.25"/><ellipse cx="1221.0" cy="190.0" rx="8.0" ry="8.0" fill="#000" fill-opacity="0.35"/><ellipse cx="1301.0" cy="132.0" rx="45.0" ry="25.0" fill="#000" fill-opacity="0.30"/><ellipse cx="1456.0" cy="277.0" rx="10.0" ry="10.0" fill="#000" fill-opacity="0.30"/><ellipse cx="1251.0" cy="152.0" rx="20.0" ry="12.0" fill="#000" fill-opacity="0.25"/></g>
<g filter="url(#fd7)"><ellipse cx="1239.3" cy="308.9" rx="7.2" ry="7.1" fill="#ffff10" fill-opacity="0.14"/><ellipse cx="1423.2" cy="337.5" rx="6.6" ry="6.6" fill="#ffff10" fill-opacity="0.15"/><ellipse cx="1191.9" cy="231.8" rx="6.9" ry="5.7" fill="#ffff10" fill-opacity="0.26"/><ellipse cx="1259.1" cy="198.3" rx="4.2" ry="5.0" fill="#ffff10" fill-opacity="0.25"/><ellipse cx="1447.4" cy="291.0" rx="4.2" ry="3.9" fill="#ffff10" fill-opacity="0.20"/><ellipse cx="1224.9" cy="372.4" rx="5.8" ry="5.0" fill="#ffff10" fill-opacity="0.26"/><ellipse cx="1227.6" cy="366.6" rx="6.3" ry="6.4" fill="#ffff10" fill-opacity="0.17"/><ellipse cx="1333.0" cy="187.2" rx="4.2" ry="4.8" fill="#ffff10" fill-opacity="0.15"/><ellipse cx="1419.6" cy="192.5" rx="8.8" ry="10.2" fill="#ffff10" fill-opacity="0.25"/><ellipse cx="1414.5" cy="282.5" rx="7.6" ry="6.5" fill="#ffff10" fill-opacity="0.20"/><ellipse cx="1433.3" cy="190.7" rx="8.6" ry="10.0" fill="#ffff10" fill-opacity="0.18"/><ellipse cx="1298.0" cy="251.2" rx="5.9" ry="7.1" fill="#ffff10" fill-opacity="0.18"/><ellipse cx="1198.9" cy="164.6" rx="7.6" ry="9.1" fill="#ffff10" fill-opacity="0.20"/><ellipse cx="1335.0" cy="275.2" rx="7.7" ry="6.9" fill="#ffff10" fill-opacity="0.22"/><ellipse cx="1354.1" cy="292.7" rx="4.9" ry="4.3" fill="#ffff10" fill-opacity="0.17"/><ellipse cx="1462.6" cy="225.9" rx="7.0" ry="6.4" fill="#ffff10" fill-opacity="0.12"/><ellipse cx="1210.2" cy="338.9" rx="7.9" ry="7.5" fill="#ffff10" fill-opacity="0.24"/><ellipse cx="1389.0" cy="359.5" rx="8.8" ry="8.5" fill="#ffff10" fill-opacity="0.30"/><ellipse cx="1472.7" cy="284.9" rx="8.4" ry="8.4" fill="#ffff10" fill-opacity="0.18"/><ellipse cx="1263.4" cy="354.0" rx="4.8" ry="4.0" fill="#ffff10" fill-opacity="0.26"/><ellipse cx="1417.8" cy="258.9" rx="8.2" ry="6.7" fill="#ffff10" fill-opacity="0.15"/><ellipse cx="1275.9" cy="243.5" rx="4.9" ry="4.0" fill="#ffff10" fill-opacity="0.17"/><ellipse cx="1454.4" cy="380.0" rx="7.7" ry="7.7" fill="#ffff10" fill-opacity="0.15"/><ellipse cx="1472.0" cy="269.2" rx="7.6" ry="6.2" fill="#ffff10" fill-opacity="0.14"/><ellipse cx="1436.6" cy="334.4" rx="8.4" ry="8.7" fill="#ffff10" fill-opacity="0.19"/><ellipse cx="1361.3" cy="347.5" rx="5.5" ry="5.6" fill="#ffff10" fill-opacity="0.16"/><ellipse cx="1416.1" cy="144.5" rx="7.4" ry="8.8" fill="#ffff10" fill-opacity="0.10"/><ellipse cx="1365.0" cy="297.8" rx="8.3" ry="8.5" fill="#ffff10" fill-opacity="0.15"/><ellipse cx="1309.8" cy="374.0" rx="8.5" ry="7.3" fill="#ffff10" fill-opacity="0.12"/><ellipse cx="1218.5" cy="148.1" rx="6.2" ry="5.3" fill="#ffff10" fill-opacity="0.27"/><ellipse cx="1383.0" cy="172.6" rx="6.7" ry="6.2" fill="#ffff10" fill-opacity="0.20"/><ellipse cx="1255.3" cy="182.2" rx="4.9" ry="4.7" fill="#ffff10" fill-opacity="0.24"/><ellipse cx="1352.2" cy="153.2" rx="7.6" ry="8.7" fill="#ffff10" fill-opacity="0.25"/><ellipse cx="1422.7" cy="143.9" rx="6.3" ry="5.2" fill="#ffff10" fill-opacity="0.25"/><ellipse cx="1242.4" cy="314.2" rx="5.3" ry="5.7" fill="#ffff10" fill-opacity="0.16"/><ellipse cx="1203.3" cy="236.1" rx="5.5" ry="6.4" fill="#ffff10" fill-opacity="0.16"/><ellipse cx="1338.4" cy="274.9" rx="8.7" ry="7.3" fill="#ffff10" fill-opacity="0.22"/><ellipse cx="1339.9" cy="319.8" rx="8.8" ry="8.2" fill="#ffff10" fill-opacity="0.24"/><ellipse cx="1345.1" cy="277.7" rx="4.3" ry="4.9" fill="#ffff10" fill-opacity="0.30"/><ellipse cx="1295.1" cy="219.0" rx="9.0" ry="7.6" fill="#ffff10" fill-opacity="0.12"/><ellipse cx="1212.5" cy="339.1" rx="7.8" ry="7.6" fill="#ffff10" fill-opacity="0.22"/><ellipse cx="1196.8" cy="298.0" rx="6.2" ry="6.3" fill="#ffff10" fill-opacity="0.18"/><ellipse cx="1308.6" cy="196.6" rx="4.2" ry="4.1" fill="#ffff10" fill-opacity="0.15"/><ellipse cx="1397.3" cy="339.8" rx="7.6" ry="7.5" fill="#ffff10" fill-opacity="0.15"/><ellipse cx="1303.9" cy="259.8" rx="7.2" ry="8.5" fill="#ffff10" fill-opacity="0.12"/><ellipse cx="1331.6" cy="261.0" rx="7.6" ry="8.8" fill="#ffff10" fill-opacity="0.26"/><ellipse cx="1374.7" cy="325.6" rx="7.3" ry="8.4" fill="#ffff10" fill-opacity="0.24"/><ellipse cx="1391.1" cy="201.4" rx="8.6" ry="8.2" fill="#ffff10" fill-opacity="0.22"/><ellipse cx="1432.7" cy="375.2" rx="8.9" ry="7.2" fill="#ffff10" fill-opacity="0.16"/><ellipse cx="1282.3" cy="236.7" rx="4.7" ry="4.8" fill="#ffff10" fill-opacity="0.12"/><ellipse cx="1279.7" cy="370.3" rx="7.7" ry="7.6" fill="#ffff10" fill-opacity="0.12"/><ellipse cx="1471.1" cy="312.4" rx="5.0" ry="4.7" fill="#ffff10" fill-opacity="0.23"/><ellipse cx="1390.7" cy="205.1" rx="8.8" ry="8.1" fill="#ffff10" fill-opacity="0.15"/><ellipse cx="1438.7" cy="179.1" rx="7.4" ry="6.5" fill="#ffff10" fill-opacity="0.22"/><ellipse cx="1272.3" cy="233.7" rx="8.7" ry="8.6" fill="#ffff10" fill-opacity="0.19"/><ellipse cx="1371.8" cy="209.9" rx="4.9" ry="4.6" fill="#ffff10" fill-opacity="0.15"/><ellipse cx="1246.2" cy="374.5" rx="4.2" ry="4.7" fill="#ffff10" fill-opacity="0.29"/><ellipse cx="1397.4" cy="146.6" rx="6.5" ry="5.3" fill="#ffff10" fill-opacity="0.22"/><ellipse cx="1396.2" cy="200.1" rx="4.0" ry="4.1" fill="#ffff10" fill-opacity="0.12"/><ellipse cx="1281.5" cy="251.9" rx="8.5" ry="8.0" fill="#ffff10" fill-opacity="0.13"/><ellipse cx="1423.0" cy="341.0" rx="6.6" ry="5.4" fill="#ffff10" fill-opacity="0.14"/><ellipse cx="1309.1" cy="275.6" rx="5.1" ry="5.7" fill="#ffff10" fill-opacity="0.27"/><ellipse cx="1462.1" cy="355.8" rx="4.1" ry="4.2" fill="#ffff10" fill-opacity="0.12"/><ellipse cx="1454.6" cy="322.8" rx="7.8" ry="6.8" fill="#ffff10" fill-opacity="0.11"/><ellipse cx="1429.9" cy="288.8" rx="7.1" ry="7.0" fill="#ffff10" fill-opacity="0.26"/><ellipse cx="1290.0" cy="207.3" rx="5.8" ry="5.3" fill="#ffff10" fill-opacity="0.23"/><ellipse cx="1451.8" cy="159.2" rx="4.3" ry="4.4" fill="#ffff10" fill-opacity="0.24"/><ellipse cx="1246.6" cy="207.3" rx="4.3" ry="3.5" fill="#ffff10" fill-opacity="0.20"/><ellipse cx="1390.5" cy="300.1" rx="4.8" ry="4.0" fill="#ffff10" fill-opacity="0.29"/><ellipse cx="1348.8" cy="240.8" rx="7.5" ry="8.1" fill="#ffff10" fill-opacity="0.20"/><ellipse cx="1213.9" cy="342.2" rx="5.1" ry="4.1" fill="#ffff10" fill-opacity="0.17"/><ellipse cx="1347.0" cy="294.0" rx="4.9" ry="5.3" fill="#ffff10" fill-opacity="0.20"/><ellipse cx="1238.5" cy="347.9" rx="8.0" ry="9.3" fill="#ffff10" fill-opacity="0.24"/><ellipse cx="1254.7" cy="330.2" rx="8.5" ry="8.6" fill="#ffff10" fill-opacity="0.28"/><ellipse cx="1475.3" cy="236.4" rx="8.7" ry="10.2" fill="#ffff10" fill-opacity="0.26"/><ellipse cx="1194.3" cy="227.2" rx="7.1" ry="7.4" fill="#ffff10" fill-opacity="0.25"/><ellipse cx="1380.5" cy="181.1" rx="8.7" ry="8.8" fill="#ffff10" fill-opacity="0.28"/><ellipse cx="1251.6" cy="383.5" rx="6.8" ry="7.5" fill="#ffff10" fill-opacity="0.25"/><ellipse cx="1449.7" cy="229.7" rx="4.4" ry="4.2" fill="#ffff10" fill-opacity="0.14"/><ellipse cx="1349.2" cy="339.2" rx="5.8" ry="5.0" fill="#ffff10" fill-opacity="0.11"/><ellipse cx="1314.9" cy="282.5" rx="4.1" ry="4.4" fill="#ffff10" fill-opacity="0.14"/><ellipse cx="1222.4" cy="366.5" rx="6.6" ry="7.7" fill="#ffff10" fill-opacity="0.20"/><ellipse cx="1227.0" cy="200.1" rx="6.1" ry="6.5" fill="#ffff10" fill-opacity="0.25"/><ellipse cx="1411.2" cy="299.5" rx="5.3" ry="5.1" fill="#ffff10" fill-opacity="0.18"/><ellipse cx="1334.4" cy="206.2" rx="6.7" ry="6.6" fill="#ffff10" fill-opacity="0.11"/><ellipse cx="1432.1" cy="283.9" rx="8.0" ry="8.8" fill="#ffff10" fill-opacity="0.25"/><ellipse cx="1482.1" cy="233.2" rx="6.0" ry="4.8" fill="#ffff10" fill-opacity="0.23"/><ellipse cx="1361.4" cy="281.5" rx="9.0" ry="7.9" fill="#ffff10" fill-opacity="0.15"/><ellipse cx="1406.1" cy="338.6" rx="6.4" ry="5.3" fill="#ffff10" fill-opacity="0.17"/><ellipse cx="1433.1" cy="263.0" rx="6.3" ry="6.0" fill="#ffff10" fill-opacity="0.23"/><ellipse cx="1366.4" cy="309.7" rx="8.3" ry="9.2" fill="#ffff10" fill-opacity="0.17"/><ellipse cx="1264.4" cy="331.2" rx="8.0" ry="9.3" fill="#ffff10" fill-opacity="0.14"/><ellipse cx="1439.4" cy="357.5" rx="4.4" ry="4.0" fill="#ffff10" fill-opacity="0.23"/><ellipse cx="1233.8" cy="343.1" rx="5.3" ry="5.7" fill="#ffff10" fill-opacity="0.16"/><ellipse cx="1254.9" cy="192.1" rx="6.5" ry="7.0" fill="#ffff10" fill-opacity="0.14"/><ellipse cx="1392.1" cy="223.1" rx="7.2" ry="6.9" fill="#ffff10" fill-opacity="0.14"/><ellipse cx="1232.3" cy="156.0" rx="7.5" ry="7.2" fill="#ffff10" fill-opacity="0.12"/><ellipse cx="1449.0" cy="300.5" rx="4.1" ry="4.5" fill="#ffff10" fill-opacity="0.22"/><ellipse cx="1321.0" cy="263.2" rx="8.8" ry="8.4" fill="#ffff10" fill-opacity="0.23"/><ellipse cx="1377.3" cy="230.5" rx="5.7" ry="6.3" fill="#ffff10" fill-opacity="0.23"/><ellipse cx="1324.9" cy="266.3" rx="5.1" ry="5.7" fill="#ffff10" fill-opacity="0.10"/><ellipse cx="1379.5" cy="252.1" rx="5.1" ry="5.3" fill="#ffff10" fill-opacity="0.22"/><ellipse cx="1216.4" cy="260.6" rx="4.8" ry="5.4" fill="#ffff10" fill-opacity="0.17"/><ellipse cx="1287.2" cy="194.1" rx="4.2" ry="3.7" fill="#ffff10" fill-opacity="0.13"/><ellipse cx="1373.9" cy="347.1" rx="5.1" ry="4.3" fill="#ffff10" fill-opacity="0.21"/><ellipse cx="1224.9" cy="240.1" rx="7.8" ry="6.9" fill="#ffff10" fill-opacity="0.24"/><ellipse cx="1348.8" cy="162.6" rx="5.2" ry="5.4" fill="#ffff10" fill-opacity="0.12"/><ellipse cx="1250.7" cy="281.6" rx="8.1" ry="8.2" fill="#ffff10" fill-opacity="0.23"/><ellipse cx="1193.7" cy="215.2" rx="5.6" ry="6.5" fill="#ffff10" fill-opacity="0.17"/><ellipse cx="1420.9" cy="150.3" rx="6.5" ry="7.5" fill="#ffff10" fill-opacity="0.25"/><ellipse cx="1360.8" cy="186.1" rx="8.6" ry="7.2" fill="#ffff10" fill-opacity="0.29"/><ellipse cx="1418.4" cy="316.2" rx="6.7" ry="5.8" fill="#ffff10" fill-opacity="0.17"/><ellipse cx="1385.5" cy="300.7" rx="5.9" ry="6.7" fill="#ffff10" fill-opacity="0.11"/><ellipse cx="1275.2" cy="163.9" rx="5.6" ry="6.3" fill="#ffff10" fill-opacity="0.25"/><ellipse cx="1234.8" cy="216.6" rx="4.6" ry="4.9" fill="#ffff10" fill-opacity="0.19"/><ellipse cx="1258.9" cy="232.5" rx="8.3" ry="8.1" fill="#ffff10" fill-opacity="0.24"/><ellipse cx="1374.9" cy="256.6" rx="6.8" ry="6.4" fill="#ffff10" fill-opacity="0.14"/><ellipse cx="1335.9" cy="215.7" rx="5.7" ry="4.9" fill="#ffff10" fill-opacity="0.28"/><ellipse cx="1315.7" cy="190.5" rx="4.2" ry="3.7" fill="#ffff10" fill-opacity="0.27"/><ellipse cx="1289.7" cy="303.4" rx="5.2" ry="5.5" fill="#ffff10" fill-opacity="0.19"/><ellipse cx="1406.8" cy="269.9" rx="5.9" ry="5.4" fill="#ffff10" fill-opacity="0.22"/><ellipse cx="1434.7" cy="309.4" rx="6.4" ry="6.0" fill="#ffff10" fill-opacity="0.28"/><ellipse cx="1438.9" cy="177.3" rx="7.4" ry="8.2" fill="#ffff10" fill-opacity="0.24"/><ellipse cx="1473.6" cy="354.7" rx="5.2" ry="6.3" fill="#ffff10" fill-opacity="0.17"/><ellipse cx="1302.3" cy="378.3" rx="4.8" ry="4.6" fill="#ffff10" fill-opacity="0.23"/><ellipse cx="1271.0" cy="206.6" rx="8.0" ry="8.3" fill="#ffff10" fill-opacity="0.25"/><ellipse cx="1422.4" cy="353.1" rx="8.5" ry="9.6" fill="#ffff10" fill-opacity="0.30"/><ellipse cx="1337.3" cy="311.8" rx="6.6" ry="7.8" fill="#ffff10" fill-opacity="0.23"/><ellipse cx="1317.2" cy="302.7" rx="5.5" ry="4.7" fill="#ffff10" fill-opacity="0.18"/><ellipse cx="1231.1" cy="143.0" rx="4.5" ry="4.4" fill="#ffff10" fill-opacity="0.25"/><ellipse cx="1205.2" cy="296.1" rx="4.6" ry="4.6" fill="#ffff10" fill-opacity="0.16"/><ellipse cx="1321.7" cy="314.3" rx="6.1" ry="5.8" fill="#ffff10" fill-opacity="0.25"/><ellipse cx="1224.9" cy="226.4" rx="7.5" ry="8.5" fill="#ffff10" fill-opacity="0.30"/><ellipse cx="1266.3" cy="293.3" rx="5.6" ry="6.0" fill="#ffff10" fill-opacity="0.27"/><ellipse cx="1230.6" cy="225.5" rx="8.7" ry="8.2" fill="#ffff10" fill-opacity="0.23"/><ellipse cx="1430.8" cy="209.4" rx="7.9" ry="6.3" fill="#ffff10" fill-opacity="0.17"/><ellipse cx="1239.9" cy="225.7" rx="5.1" ry="4.1" fill="#ffff10" fill-opacity="0.26"/><ellipse cx="1241.8" cy="280.7" rx="6.8" ry="7.7" fill="#ffff10" fill-opacity="0.27"/><ellipse cx="1373.1" cy="182.9" rx="7.8" ry="6.5" fill="#ffff10" fill-opacity="0.29"/><ellipse cx="1281.4" cy="203.2" rx="5.1" ry="4.9" fill="#ffff10" fill-opacity="0.26"/><ellipse cx="1441.5" cy="322.5" rx="7.6" ry="6.9" fill="#ffff10" fill-opacity="0.16"/><ellipse cx="1280.1" cy="246.9" rx="8.4" ry="10.0" fill="#ffff10" fill-opacity="0.12"/><ellipse cx="1473.6" cy="364.2" rx="6.3" ry="6.8" fill="#ffff10" fill-opacity="0.26"/><ellipse cx="1245.8" cy="291.0" rx="8.9" ry="10.3" fill="#ffff10" fill-opacity="0.28"/><ellipse cx="1215.8" cy="314.9" rx="6.4" ry="7.5" fill="#ffff10" fill-opacity="0.13"/><ellipse cx="1351.8" cy="171.2" rx="8.0" ry="8.7" fill="#ffff10" fill-opacity="0.11"/><ellipse cx="1281.7" cy="176.3" rx="7.2" ry="7.6" fill="#ffff10" fill-opacity="0.11"/><ellipse cx="1469.6" cy="375.6" rx="6.2" ry="6.4" fill="#ffff10" fill-opacity="0.17"/><ellipse cx="1368.6" cy="238.4" rx="6.2" ry="6.8" fill="#ffff10" fill-opacity="0.14"/><ellipse cx="1278.4" cy="326.8" rx="5.1" ry="4.2" fill="#ffff10" fill-opacity="0.28"/></g>
<g filter="url(#fc8)"><ellipse cx="1203.3" cy="146.6" rx="15.3" ry="15.3" fill="#ffff10" fill-opacity="0.28"/><ellipse cx="1218.3" cy="173.8" rx="17.0" ry="15.3" fill="#ffff10" fill-opacity="0.28"/><ellipse cx="1275.6" cy="206.6" rx="18.7" ry="18.7" fill="#ffff10" fill-opacity="0.28"/><ellipse cx="1319.2" cy="225.7" rx="17.0" ry="22.1" fill="#ffff10" fill-opacity="0.28"/><ellipse cx="1373.8" cy="250.2" rx="15.3" ry="15.3" fill="#ffff10" fill-opacity="0.28"/><ellipse cx="1379.2" cy="229.8" rx="15.3" ry="13.6" fill="#ffff10" fill-opacity="0.18"/><ellipse cx="1343.8" cy="220.2" rx="13.6" ry="13.6" fill="#ffff10" fill-opacity="0.15"/><ellipse cx="1252.4" cy="251.6" rx="11.9" ry="11.9" fill="#ffff10" fill-opacity="0.22"/><ellipse cx="1444.7" cy="179.3" rx="13.6" ry="15.3" fill="#ffff10" fill-opacity="0.28"/><ellipse cx="1477.4" cy="150.6" rx="17.0" ry="20.4" fill="#ffff10" fill-opacity="0.28"/><ellipse cx="1474.7" cy="119.3" rx="11.9" ry="11.9" fill="#ffff10" fill-opacity="0.18"/><ellipse cx="1406.5" cy="258.4" rx="11.9" ry="11.9" fill="#ffff10" fill-opacity="0.22"/><ellipse cx="1275.6" cy="299.3" rx="17.0" ry="15.3" fill="#ffff10" fill-opacity="0.27"/><ellipse cx="1319.2" cy="336.1" rx="18.7" ry="17.0" fill="#ffff10" fill-opacity="0.28"/><ellipse cx="1414.7" cy="323.9" rx="17.0" ry="17.0" fill="#ffff10" fill-opacity="0.28"/><ellipse cx="1444.7" cy="318.4" rx="17.0" ry="17.0" fill="#ffff10" fill-opacity="0.27"/><ellipse cx="1446.0" cy="291.0" rx="17.0" ry="17.0" fill="#ffff10" fill-opacity="0.26"/><ellipse cx="1428.0" cy="304.8" rx="11.9" ry="11.9" fill="#ffff10" fill-opacity="0.18"/><ellipse cx="1406.5" cy="345.7" rx="13.6" ry="13.6" fill="#ffff10" fill-opacity="0.18"/><ellipse cx="1472.0" cy="218.8" rx="11.9" ry="11.9" fill="#ffff10" fill-opacity="0.18"/><ellipse cx="1461.0" cy="255.7" rx="11.9" ry="11.9" fill="#ffff10" fill-opacity="0.18"/><ellipse cx="1244.2" cy="188.8" rx="10.2" ry="10.2" fill="#ffff10" fill-opacity="0.18"/><ellipse cx="1256.5" cy="228.4" rx="10.2" ry="10.2" fill="#ffff10" fill-opacity="0.18"/><ellipse cx="1453.0" cy="354.0" rx="11.9" ry="11.9" fill="#ffff10" fill-opacity="0.15"/><ellipse cx="1463.8" cy="296.6" rx="11.9" ry="11.9" fill="#ffff10" fill-opacity="0.15"/><ellipse cx="1382.0" cy="97.5" rx="13.6" ry="10.2" fill="#ffff10" fill-opacity="0.15"/><ellipse cx="1431.0" cy="93.4" rx="11.9" ry="8.5" fill="#ffff10" fill-opacity="0.15"/><ellipse cx="1301.0" cy="142.0" rx="13.6" ry="13.6" fill="#ffff10" fill-opacity="0.09"/><ellipse cx="1341.0" cy="182.0" rx="13.6" ry="11.9" fill="#ffff10" fill-opacity="0.10"/><ellipse cx="1231.0" cy="212.0" rx="13.6" ry="13.6" fill="#ffff10" fill-opacity="0.10"/><ellipse cx="1203.3" cy="146.6" rx="9.0" ry="9.0" fill="#ffff10" fill-opacity="0.95"/><ellipse cx="1218.3" cy="173.8" rx="10.0" ry="9.0" fill="#ffff10" fill-opacity="0.95"/><ellipse cx="1275.6" cy="206.6" rx="11.0" ry="11.0" fill="#ffff10" fill-opacity="0.95"/><ellipse cx="1319.2" cy="225.7" rx="10.0" ry="13.0" fill="#ffff10" fill-opacity="0.95"/><ellipse cx="1373.8" cy="250.2" rx="9.0" ry="9.0" fill="#ffff10" fill-opacity="0.95"/><ellipse cx="1379.2" cy="229.8" rx="9.0" ry="8.0" fill="#ffff10" fill-opacity="0.60"/><ellipse cx="1343.8" cy="220.2" rx="8.0" ry="8.0" fill="#ffff10" fill-opacity="0.50"/><ellipse cx="1252.4" cy="251.6" rx="7.0" ry="7.0" fill="#ffff10" fill-opacity="0.75"/><ellipse cx="1444.7" cy="179.3" rx="8.0" ry="9.0" fill="#ffff10" fill-opacity="0.95"/><ellipse cx="1477.4" cy="150.6" rx="10.0" ry="12.0" fill="#ffff10" fill-opacity="0.95"/><ellipse cx="1474.7" cy="119.3" rx="7.0" ry="7.0" fill="#ffff10" fill-opacity="0.60"/><ellipse cx="1406.5" cy="258.4" rx="7.0" ry="7.0" fill="#ffff10" fill-opacity="0.75"/><ellipse cx="1275.6" cy="299.3" rx="10.0" ry="9.0" fill="#ffff10" fill-opacity="0.90"/><ellipse cx="1319.2" cy="336.1" rx="11.0" ry="10.0" fill="#ffff10" fill-opacity="0.95"/><ellipse cx="1414.7" cy="323.9" rx="10.0" ry="10.0" fill="#ffff10" fill-opacity="0.95"/><ellipse cx="1444.7" cy="318.4" rx="10.0" ry="10.0" fill="#ffff10" fill-opacity="0.90"/><ellipse cx="1446.0" cy="291.0" rx="10.0" ry="10.0" fill="#ffff10" fill-opacity="0.85"/><ellipse cx="1428.0" cy="304.8" rx="7.0" ry="7.0" fill="#ffff10" fill-opacity="0.60"/><ellipse cx="1406.5" cy="345.7" rx="8.0" ry="8.0" fill="#ffff10" fill-opacity="0.60"/><ellipse cx="1472.0" cy="218.8" rx="7.0" ry="7.0" fill="#ffff10" fill-opacity="0.60"/><ellipse cx="1461.0" cy="255.7" rx="7.0" ry="7.0" fill="#ffff10" fill-opacity="0.60"/><ellipse cx="1244.2" cy="188.8" rx="6.0" ry="6.0" fill="#ffff10" fill-opacity="0.60"/><ellipse cx="1256.5" cy="228.4" rx="6.0" ry="6.0" fill="#ffff10" fill-opacity="0.60"/><ellipse cx="1453.0" cy="354.0" rx="7.0" ry="7.0" fill="#ffff10" fill-opacity="0.50"/><ellipse cx="1463.8" cy="296.6" rx="7.0" ry="7.0" fill="#ffff10" fill-opacity="0.50"/><ellipse cx="1382.0" cy="97.5" rx="8.0" ry="6.0" fill="#ffff10" fill-opacity="0.50"/><ellipse cx="1431.0" cy="93.4" rx="7.0" ry="5.0" fill="#ffff10" fill-opacity="0.50"/><ellipse cx="1301.0" cy="142.0" rx="8.0" ry="8.0" fill="#ffff10" fill-opacity="0.30"/><ellipse cx="1341.0" cy="182.0" rx="8.0" ry="7.0" fill="#ffff10" fill-opacity="0.35"/><ellipse cx="1231.0" cy="212.0" rx="8.0" ry="8.0" fill="#ffff10" fill-opacity="0.35"/><ellipse cx="1364.2" cy="135.6" rx="8.0" ry="9.0" fill="#ff6a10" fill-opacity="0.80"/><ellipse cx="1251.0" cy="277.5" rx="8.0" ry="8.0" fill="#ff9a10" fill-opacity="0.70"/><ellipse cx="1292.0" cy="359.3" rx="8.0" ry="9.0" fill="#ff7a10" fill-opacity="0.70"/><ellipse cx="1218.8" cy="357.6" rx="1.3" ry="1.3" fill="#ff3a00" fill-opacity="0.63"/><ellipse cx="1219.9" cy="217.6" rx="1.3" ry="1.3" fill="#ff3a00" fill-opacity="0.65"/><ellipse cx="1201.2" cy="257.2" rx="1.3" ry="1.3" fill="#ff3a00" fill-opacity="0.73"/><ellipse cx="1278.1" cy="366.4" rx="1.3" ry="1.3" fill="#ff3a00" fill-opacity="0.51"/><ellipse cx="1235.5" cy="355.7" rx="1.3" ry="1.3" fill="#ff3a00" fill-opacity="0.66"/><ellipse cx="1368.8" cy="369.6" rx="1.3" ry="1.3" fill="#ff3a00" fill-opacity="0.76"/><ellipse cx="1206.9" cy="361.1" rx="1.3" ry="1.3" fill="#ff3a00" fill-opacity="0.76"/><ellipse cx="1442.3" cy="360.8" rx="1.3" ry="1.3" fill="#ff3a00" fill-opacity="0.47"/><ellipse cx="1315.1" cy="377.8" rx="1.3" ry="1.3" fill="#ff3a00" fill-opacity="0.66"/><ellipse cx="1223.0" cy="363.6" rx="1.3" ry="1.3" fill="#ff3a00" fill-opacity="0.65"/><ellipse cx="1261.0" cy="375.2" rx="1.3" ry="1.3" fill="#ff3a00" fill-opacity="0.60"/><ellipse cx="1382.5" cy="353.0" rx="1.3" ry="1.3" fill="#ff3a00" fill-opacity="0.79"/><ellipse cx="1367.0" cy="357.2" rx="1.3" ry="1.3" fill="#ff3a00" fill-opacity="0.61"/><ellipse cx="1227.5" cy="376.9" rx="1.3" ry="1.3" fill="#ff3a00" fill-opacity="0.58"/><ellipse cx="1366.9" cy="362.5" rx="1.3" ry="1.3" fill="#ff3a00" fill-opacity="0.78"/><ellipse cx="1433.5" cy="365.4" rx="1.3" ry="1.3" fill="#ff3a00" fill-opacity="0.65"/><ellipse cx="1390.6" cy="374.7" rx="1.3" ry="1.3" fill="#ff3a00" fill-opacity="0.52"/><ellipse cx="1325.8" cy="372.0" rx="1.3" ry="1.3" fill="#ff3a00" fill-opacity="0.52"/><ellipse cx="1423.1" cy="375.8" rx="1.3" ry="1.3" fill="#ff3a00" fill-opacity="0.60"/><ellipse cx="1197.9" cy="363.3" rx="1.3" ry="1.3" fill="#ff3a00" fill-opacity="0.42"/><ellipse cx="1451.4" cy="363.7" rx="1.3" ry="1.3" fill="#ff3a00" fill-opacity="0.64"/><ellipse cx="1226.7" cy="262.4" rx="1.3" ry="1.3" fill="#ff3a00" fill-opacity="0.69"/><ellipse cx="1280.3" cy="382.8" rx="1.3" ry="1.3" fill="#ff3a00" fill-opacity="0.57"/><ellipse cx="1287.6" cy="377.1" rx="1.3" ry="1.3" fill="#ff3a00" fill-opacity="0.74"/><ellipse cx="1444.6" cy="360.7" rx="1.3" ry="1.3" fill="#ff3a00" fill-opacity="0.77"/><ellipse cx="1301.7" cy="366.0" rx="1.3" ry="1.3" fill="#ff3a00" fill-opacity="0.62"/><ellipse cx="1211.8" cy="361.9" rx="1.3" ry="1.3" fill="#ff3a00" fill-opacity="0.67"/><ellipse cx="1285.6" cy="348.3" rx="1.3" ry="1.3" fill="#ff3a00" fill-opacity="0.45"/><ellipse cx="1472.8" cy="358.8" rx="1.3" ry="1.3" fill="#ff3a00" fill-opacity="0.42"/><ellipse cx="1395.3" cy="348.7" rx="1.3" ry="1.3" fill="#ff3a00" fill-opacity="0.79"/><ellipse cx="1224.2" cy="370.4" rx="1.3" ry="1.3" fill="#ff3a00" fill-opacity="0.51"/><ellipse cx="1323.9" cy="384.3" rx="1.3" ry="1.3" fill="#ff3a00" fill-opacity="0.49"/><ellipse cx="1417.6" cy="353.6" rx="1.3" ry="1.3" fill="#ff3a00" fill-opacity="0.76"/><ellipse cx="1249.2" cy="358.0" rx="1.3" ry="1.3" fill="#ff3a00" fill-opacity="0.70"/><ellipse cx="1252.0" cy="374.5" rx="1.3" ry="1.3" fill="#ff3a00" fill-opacity="0.45"/><ellipse cx="1292.5" cy="371.8" rx="1.3" ry="1.3" fill="#ff3a00" fill-opacity="0.53"/><ellipse cx="1415.1" cy="363.3" rx="1.3" ry="1.3" fill="#ff3a00" fill-opacity="0.50"/><ellipse cx="1217.7" cy="206.9" rx="1.3" ry="1.3" fill="#ff3a00" fill-opacity="0.51"/><ellipse cx="1443.2" cy="353.5" rx="1.3" ry="1.3" fill="#ff3a00" fill-opacity="0.40"/><ellipse cx="1273.4" cy="351.8" rx="1.3" ry="1.3" fill="#ff3a00" fill-opacity="0.61"/><ellipse cx="1390.0" cy="373.7" rx="1.3" ry="1.3" fill="#ff3a00" fill-opacity="0.52"/><ellipse cx="1255.7" cy="354.7" rx="1.3" ry="1.3" fill="#ff3a00" fill-opacity="0.56"/><ellipse cx="1433.2" cy="354.9" rx="1.3" ry="1.3" fill="#ff3a00" fill-opacity="0.47"/><ellipse cx="1387.5" cy="358.3" rx="1.3" ry="1.3" fill="#ff3a00" fill-opacity="0.44"/><ellipse cx="1201.4" cy="286.6" rx="1.3" ry="1.3" fill="#ff3a00" fill-opacity="0.41"/><ellipse cx="1442.1" cy="354.3" rx="1.3" ry="1.3" fill="#ff3a00" fill-opacity="0.75"/><ellipse cx="1417.8" cy="369.4" rx="1.3" ry="1.3" fill="#ff3a00" fill-opacity="0.70"/><ellipse cx="1308.3" cy="366.9" rx="1.3" ry="1.3" fill="#ff3a00" fill-opacity="0.62"/><ellipse cx="1450.1" cy="377.9" rx="1.3" ry="1.3" fill="#ff3a00" fill-opacity="0.45"/><ellipse cx="1434.4" cy="352.6" rx="1.3" ry="1.3" fill="#ff3a00" fill-opacity="0.46"/><ellipse cx="1393.4" cy="356.2" rx="1.3" ry="1.3" fill="#ff3a00" fill-opacity="0.45"/><ellipse cx="1386.8" cy="378.6" rx="1.3" ry="1.3" fill="#ff3a00" fill-opacity="0.53"/><ellipse cx="1194.0" cy="371.7" rx="1.3" ry="1.3" fill="#ff3a00" fill-opacity="0.42"/><ellipse cx="1211.0" cy="229.3" rx="1.3" ry="1.3" fill="#ff3a00" fill-opacity="0.51"/><ellipse cx="1194.9" cy="232.4" rx="1.3" ry="1.3" fill="#ff3a00" fill-opacity="0.48"/><ellipse cx="1350.2" cy="355.9" rx="1.3" ry="1.3" fill="#ff3a00" fill-opacity="0.48"/><ellipse cx="1274.2" cy="369.2" rx="1.3" ry="1.3" fill="#ff3a00" fill-opacity="0.66"/><ellipse cx="1377.6" cy="382.9" rx="1.3" ry="1.3" fill="#ff3a00" fill-opacity="0.58"/><ellipse cx="1359.4" cy="383.3" rx="1.3" ry="1.3" fill="#ff3a00" fill-opacity="0.59"/><ellipse cx="1405.2" cy="363.7" rx="1.3" ry="1.3" fill="#ff3a00" fill-opacity="0.54"/><ellipse cx="1242.0" cy="380.5" rx="1.3" ry="1.3" fill="#ff3a00" fill-opacity="0.62"/><ellipse cx="1405.8" cy="383.1" rx="1.3" ry="1.3" fill="#ff3a00" fill-opacity="0.71"/><ellipse cx="1324.2" cy="383.8" rx="1.3" ry="1.3" fill="#ff3a00" fill-opacity="0.52"/><ellipse cx="1210.3" cy="188.6" rx="1.3" ry="1.3" fill="#ff3a00" fill-opacity="0.43"/><ellipse cx="1340.3" cy="371.7" rx="1.3" ry="1.3" fill="#ff3a00" fill-opacity="0.59"/><ellipse cx="1212.3" cy="278.2" rx="1.3" ry="1.3" fill="#ff3a00" fill-opacity="0.55"/></g>
</g>
<rect x="1202" y="107" width="34.4" height="3" fill="#fff"/>
<rect x="951.8" y="205.2" width="92" height="81.4" fill="none" stroke="#fff" stroke-width="2.6" stroke-dasharray="22 9"/>
<clipPath id="clipbl"><rect x="881" y="96" width="288" height="288"/></clipPath>
<path d="M1043.8,205.2 L1191,92 M1043.8,286.6 L1191,384.5" fill="none" stroke="#000" stroke-width="2.6" stroke-dasharray="12 8"/>
<g clip-path="url(#clipbl)"><path d="M1043.8,205.2 L1191,92 M1043.8,286.6 L1191,384.5" fill="none" stroke="#fff" stroke-width="2.6" stroke-dasharray="12 8"/></g>
<text x="21.8" y="412.0" font-size="25.50" font-weight="bold"><tspan fill="#000">c</tspan></text>
<text x="124.5" y="434.5" font-size="26.60"><tspan fill="#0fb04c">G-Flamp1</tspan></text>
<text x="423.4" y="434.7" font-size="27.60"><tspan fill="#000">Before</tspan></text>
<text x="699.0" y="434.7" font-size="27.60"><tspan fill="#000">Running</tspan></text>
<text x="984.5" y="435.1" font-size="27.20"><tspan fill="#000">After</tspan></text>
<text x="1295.4" y="433.1" font-size="24.40"><tspan fill="#000">Running</tspan></text>
<text x="115.8" y="736.2" font-size="27.60"><tspan fill="#ff0000">jRGECO1a</tspan></text>
<g clip-path="url(#cp9)">
<rect x="50" y="445" width="272" height="257" fill="#052205"/>
<g filter="url(#fb10)"><ellipse cx="186.0" cy="580.0" rx="150.0" ry="110.0" fill="#125a12" fill-opacity="0.80"/><ellipse cx="120.0" cy="545.0" rx="55.0" ry="45.0" fill="#187018" fill-opacity="0.45"/><ellipse cx="250.0" cy="560.0" rx="60.0" ry="45.0" fill="#187018" fill-opacity="0.40"/><ellipse cx="310.0" cy="555.0" rx="25.0" ry="40.0" fill="#1a761a" fill-opacity="0.40"/><ellipse cx="200.0" cy="460.0" rx="110.0" ry="28.0" fill="#000" fill-opacity="0.60"/><ellipse cx="266.0" cy="476.0" rx="12.0" ry="12.0" fill="#000" fill-opacity="0.80"/><ellipse cx="65.0" cy="475.0" rx="30.0" ry="20.0" fill="#000" fill-opacity="0.35"/><ellipse cx="60.0" cy="605.0" rx="22.0" ry="70.0" fill="#000" fill-opacity="0.40"/><ellipse cx="110.0" cy="695.0" rx="90.0" ry="22.0" fill="#000" fill-opacity="0.40"/><ellipse cx="280.0" cy="697.0" rx="60.0" ry="18.0" fill="#000" fill-opacity="0.30"/><ellipse cx="205.0" cy="615.0" rx="25.0" ry="20.0" fill="#000" fill-opacity="0.30"/><ellipse cx="160.0" cy="505.0" rx="20.0" ry="15.0" fill="#000" fill-opacity="0.30"/></g>
<g filter="url(#fd11)"><ellipse cx="138.1" cy="483.8" rx="6.3" ry="5.2" fill="#00ff00" fill-opacity="0.18"/><ellipse cx="149.5" cy="459.9" rx="5.5" ry="4.5" fill="#00ff00" fill-opacity="0.16"/><ellipse cx="69.0" cy="468.3" rx="5.1" ry="5.8" fill="#00ff00" fill-opacity="0.10"/><ellipse cx="110.7" cy="606.3" rx="7.7" ry="8.0" fill="#00ff00" fill-opacity="0.15"/><ellipse cx="315.5" cy="457.0" rx="7.3" ry="6.7" fill="#00ff00" fill-opacity="0.11"/><ellipse cx="82.0" cy="524.3" rx="7.1" ry="6.2" fill="#00ff00" fill-opacity="0.18"/><ellipse cx="223.8" cy="540.7" rx="5.7" ry="4.7" fill="#00ff00" fill-opacity="0.09"/><ellipse cx="106.0" cy="619.9" rx="5.1" ry="4.8" fill="#00ff00" fill-opacity="0.19"/><ellipse cx="173.3" cy="522.0" rx="7.0" ry="7.5" fill="#00ff00" fill-opacity="0.12"/><ellipse cx="206.2" cy="580.0" rx="7.4" ry="8.1" fill="#00ff00" fill-opacity="0.13"/><ellipse cx="316.6" cy="475.3" rx="5.1" ry="5.6" fill="#00ff00" fill-opacity="0.11"/><ellipse cx="183.0" cy="455.1" rx="6.3" ry="7.0" fill="#00ff00" fill-opacity="0.18"/><ellipse cx="288.1" cy="525.6" rx="6.5" ry="6.7" fill="#00ff00" fill-opacity="0.18"/><ellipse cx="174.1" cy="660.9" rx="7.7" ry="7.6" fill="#00ff00" fill-opacity="0.20"/><ellipse cx="66.5" cy="625.3" rx="6.2" ry="7.5" fill="#00ff00" fill-opacity="0.23"/><ellipse cx="127.4" cy="544.1" rx="6.3" ry="5.1" fill="#00ff00" fill-opacity="0.16"/><ellipse cx="95.7" cy="475.1" rx="3.3" ry="3.6" fill="#00ff00" fill-opacity="0.10"/><ellipse cx="117.4" cy="545.5" rx="7.4" ry="6.1" fill="#00ff00" fill-opacity="0.16"/><ellipse cx="199.4" cy="672.0" rx="7.1" ry="8.1" fill="#00ff00" fill-opacity="0.13"/><ellipse cx="163.0" cy="537.2" rx="7.4" ry="8.8" fill="#00ff00" fill-opacity="0.11"/><ellipse cx="97.9" cy="504.6" rx="4.2" ry="4.1" fill="#00ff00" fill-opacity="0.19"/><ellipse cx="121.5" cy="446.1" rx="5.1" ry="4.8" fill="#00ff00" fill-opacity="0.18"/><ellipse cx="309.2" cy="622.5" rx="5.6" ry="5.8" fill="#00ff00" fill-opacity="0.20"/><ellipse cx="64.7" cy="676.2" rx="6.9" ry="7.9" fill="#00ff00" fill-opacity="0.22"/><ellipse cx="156.7" cy="547.5" rx="3.5" ry="3.7" fill="#00ff00" fill-opacity="0.09"/><ellipse cx="68.3" cy="498.7" rx="3.8" ry="3.6" fill="#00ff00" fill-opacity="0.09"/><ellipse cx="50.1" cy="483.9" rx="3.5" ry="3.3" fill="#00ff00" fill-opacity="0.08"/><ellipse cx="287.8" cy="602.8" rx="3.7" ry="3.4" fill="#00ff00" fill-opacity="0.14"/><ellipse cx="149.1" cy="476.6" rx="7.2" ry="8.7" fill="#00ff00" fill-opacity="0.16"/><ellipse cx="181.6" cy="467.1" rx="3.5" ry="3.3" fill="#00ff00" fill-opacity="0.13"/><ellipse cx="275.4" cy="486.5" rx="3.1" ry="3.7" fill="#00ff00" fill-opacity="0.18"/><ellipse cx="89.9" cy="584.6" rx="3.1" ry="3.2" fill="#00ff00" fill-opacity="0.26"/><ellipse cx="284.8" cy="623.9" rx="4.3" ry="4.1" fill="#00ff00" fill-opacity="0.11"/><ellipse cx="260.0" cy="581.9" rx="6.9" ry="6.4" fill="#00ff00" fill-opacity="0.12"/><ellipse cx="270.7" cy="698.1" rx="7.3" ry="8.2" fill="#00ff00" fill-opacity="0.23"/><ellipse cx="251.2" cy="503.3" rx="5.6" ry="5.3" fill="#00ff00" fill-opacity="0.09"/><ellipse cx="57.6" cy="516.8" rx="4.3" ry="4.6" fill="#00ff00" fill-opacity="0.25"/><ellipse cx="171.6" cy="685.8" rx="7.9" ry="9.4" fill="#00ff00" fill-opacity="0.15"/><ellipse cx="110.0" cy="503.3" rx="4.0" ry="3.5" fill="#00ff00" fill-opacity="0.19"/><ellipse cx="294.9" cy="661.0" rx="5.4" ry="5.7" fill="#00ff00" fill-opacity="0.22"/><ellipse cx="73.1" cy="614.8" rx="7.5" ry="8.4" fill="#00ff00" fill-opacity="0.22"/><ellipse cx="180.0" cy="490.9" rx="6.9" ry="6.5" fill="#00ff00" fill-opacity="0.22"/><ellipse cx="314.3" cy="546.7" rx="5.0" ry="5.9" fill="#00ff00" fill-opacity="0.21"/><ellipse cx="96.2" cy="477.6" rx="3.8" ry="4.4" fill="#00ff00" fill-opacity="0.23"/><ellipse cx="89.8" cy="657.4" rx="7.9" ry="8.4" fill="#00ff00" fill-opacity="0.14"/><ellipse cx="199.2" cy="478.7" rx="3.1" ry="3.6" fill="#00ff00" fill-opacity="0.20"/><ellipse cx="193.2" cy="684.9" rx="5.2" ry="5.9" fill="#00ff00" fill-opacity="0.23"/><ellipse cx="107.4" cy="509.7" rx="4.5" ry="4.0" fill="#00ff00" fill-opacity="0.19"/><ellipse cx="120.5" cy="552.7" rx="3.7" ry="4.3" fill="#00ff00" fill-opacity="0.14"/><ellipse cx="174.6" cy="594.9" rx="7.5" ry="7.3" fill="#00ff00" fill-opacity="0.25"/><ellipse cx="186.4" cy="581.7" rx="5.6" ry="4.5" fill="#00ff00" fill-opacity="0.16"/><ellipse cx="99.8" cy="446.0" rx="7.0" ry="6.1" fill="#00ff00" fill-opacity="0.17"/><ellipse cx="247.3" cy="588.0" rx="4.6" ry="4.7" fill="#00ff00" fill-opacity="0.18"/><ellipse cx="263.3" cy="472.3" rx="5.8" ry="5.2" fill="#00ff00" fill-opacity="0.13"/><ellipse cx="260.1" cy="575.5" rx="5.8" ry="6.4" fill="#00ff00" fill-opacity="0.24"/><ellipse cx="170.6" cy="602.4" rx="5.5" ry="5.6" fill="#00ff00" fill-opacity="0.20"/><ellipse cx="173.0" cy="582.1" rx="5.4" ry="6.3" fill="#00ff00" fill-opacity="0.21"/><ellipse cx="288.4" cy="687.1" rx="4.3" ry="4.4" fill="#00ff00" fill-opacity="0.25"/><ellipse cx="278.5" cy="480.2" rx="3.6" ry="3.5" fill="#00ff00" fill-opacity="0.09"/><ellipse cx="115.5" cy="463.8" rx="6.3" ry="7.1" fill="#00ff00" fill-opacity="0.24"/><ellipse cx="92.0" cy="629.0" rx="6.3" ry="5.4" fill="#00ff00" fill-opacity="0.24"/><ellipse cx="313.2" cy="501.4" rx="7.8" ry="7.4" fill="#00ff00" fill-opacity="0.17"/><ellipse cx="319.2" cy="658.9" rx="3.8" ry="3.7" fill="#00ff00" fill-opacity="0.17"/><ellipse cx="142.2" cy="495.3" rx="4.6" ry="5.0" fill="#00ff00" fill-opacity="0.08"/><ellipse cx="200.7" cy="558.2" rx="3.1" ry="2.9" fill="#00ff00" fill-opacity="0.19"/><ellipse cx="189.3" cy="461.5" rx="7.9" ry="8.8" fill="#00ff00" fill-opacity="0.25"/><ellipse cx="78.5" cy="513.3" rx="3.2" ry="3.6" fill="#00ff00" fill-opacity="0.13"/><ellipse cx="85.2" cy="553.5" rx="7.6" ry="8.5" fill="#00ff00" fill-opacity="0.13"/><ellipse cx="90.6" cy="681.2" rx="5.9" ry="6.3" fill="#00ff00" fill-opacity="0.10"/><ellipse cx="65.6" cy="621.9" rx="5.1" ry="4.2" fill="#00ff00" fill-opacity="0.25"/><ellipse cx="222.6" cy="651.0" rx="3.4" ry="3.9" fill="#00ff00" fill-opacity="0.09"/><ellipse cx="284.7" cy="561.6" rx="4.7" ry="4.8" fill="#00ff00" fill-opacity="0.25"/><ellipse cx="122.9" cy="478.2" rx="5.6" ry="5.0" fill="#00ff00" fill-opacity="0.10"/><ellipse cx="93.9" cy="457.9" rx="4.0" ry="3.7" fill="#00ff00" fill-opacity="0.13"/><ellipse cx="256.6" cy="519.5" rx="5.5" ry="4.8" fill="#00ff00" fill-opacity="0.14"/><ellipse cx="54.9" cy="509.4" rx="3.1" ry="3.4" fill="#00ff00" fill-opacity="0.18"/><ellipse cx="101.5" cy="567.0" rx="7.7" ry="6.5" fill="#00ff00" fill-opacity="0.23"/><ellipse cx="167.6" cy="572.2" rx="7.2" ry="6.9" fill="#00ff00" fill-opacity="0.17"/><ellipse cx="237.1" cy="697.5" rx="4.7" ry="5.3" fill="#00ff00" fill-opacity="0.21"/><ellipse cx="223.0" cy="549.0" rx="4.7" ry="3.9" fill="#00ff00" fill-opacity="0.10"/><ellipse cx="69.2" cy="635.4" rx="4.3" ry="3.7" fill="#00ff00" fill-opacity="0.10"/><ellipse cx="278.8" cy="668.7" rx="6.4" ry="5.8" fill="#00ff00" fill-opacity="0.12"/><ellipse cx="129.7" cy="563.1" rx="3.8" ry="3.7" fill="#00ff00" fill-opacity="0.13"/><ellipse cx="311.6" cy="695.0" rx="5.7" ry="5.1" fill="#00ff00" fill-opacity="0.25"/><ellipse cx="134.2" cy="536.6" rx="3.0" ry="2.9" fill="#00ff00" fill-opacity="0.17"/><ellipse cx="186.8" cy="496.7" rx="5.5" ry="4.4" fill="#00ff00" fill-opacity="0.13"/><ellipse cx="74.4" cy="547.7" rx="3.2" ry="2.6" fill="#00ff00" fill-opacity="0.13"/><ellipse cx="113.3" cy="595.5" rx="5.6" ry="6.2" fill="#00ff00" fill-opacity="0.20"/><ellipse cx="244.8" cy="670.9" rx="4.9" ry="4.6" fill="#00ff00" fill-opacity="0.26"/><ellipse cx="90.7" cy="631.1" rx="6.2" ry="5.1" fill="#00ff00" fill-opacity="0.23"/><ellipse cx="292.6" cy="606.2" rx="6.7" ry="7.5" fill="#00ff00" fill-opacity="0.11"/><ellipse cx="192.5" cy="574.6" rx="7.2" ry="8.0" fill="#00ff00" fill-opacity="0.23"/><ellipse cx="208.9" cy="674.5" rx="6.4" ry="6.9" fill="#00ff00" fill-opacity="0.12"/><ellipse cx="58.5" cy="479.2" rx="4.8" ry="4.0" fill="#00ff00" fill-opacity="0.23"/><ellipse cx="201.9" cy="606.3" rx="6.1" ry="6.6" fill="#00ff00" fill-opacity="0.17"/><ellipse cx="50.9" cy="650.0" rx="6.7" ry="6.7" fill="#00ff00" fill-opacity="0.18"/><ellipse cx="229.3" cy="462.0" rx="6.7" ry="6.0" fill="#00ff00" fill-opacity="0.09"/><ellipse cx="122.2" cy="632.4" rx="4.0" ry="4.4" fill="#00ff00" fill-opacity="0.26"/><ellipse cx="184.4" cy="543.3" rx="5.4" ry="5.8" fill="#00ff00" fill-opacity="0.22"/><ellipse cx="217.8" cy="610.2" rx="3.4" ry="2.9" fill="#00ff00" fill-opacity="0.13"/><ellipse cx="252.2" cy="523.2" rx="5.8" ry="4.7" fill="#00ff00" fill-opacity="0.09"/><ellipse cx="123.1" cy="617.7" rx="6.5" ry="6.9" fill="#00ff00" fill-opacity="0.13"/><ellipse cx="190.5" cy="564.4" rx="5.3" ry="4.5" fill="#00ff00" fill-opacity="0.24"/><ellipse cx="104.2" cy="696.4" rx="7.7" ry="6.2" fill="#00ff00" fill-opacity="0.16"/><ellipse cx="273.0" cy="693.8" rx="5.2" ry="4.8" fill="#00ff00" fill-opacity="0.12"/><ellipse cx="307.2" cy="499.2" rx="5.9" ry="5.1" fill="#00ff00" fill-opacity="0.17"/><ellipse cx="309.1" cy="479.1" rx="7.1" ry="7.1" fill="#00ff00" fill-opacity="0.24"/><ellipse cx="241.3" cy="504.5" rx="7.5" ry="7.4" fill="#00ff00" fill-opacity="0.08"/><ellipse cx="51.0" cy="571.4" rx="5.3" ry="4.8" fill="#00ff00" fill-opacity="0.11"/><ellipse cx="143.6" cy="526.2" rx="7.2" ry="5.8" fill="#00ff00" fill-opacity="0.22"/><ellipse cx="278.2" cy="475.9" rx="7.6" ry="8.3" fill="#00ff00" fill-opacity="0.24"/><ellipse cx="128.8" cy="540.7" rx="5.0" ry="6.0" fill="#00ff00" fill-opacity="0.19"/><ellipse cx="148.1" cy="555.0" rx="4.4" ry="3.6" fill="#00ff00" fill-opacity="0.10"/><ellipse cx="277.0" cy="518.4" rx="7.7" ry="6.9" fill="#00ff00" fill-opacity="0.13"/><ellipse cx="189.0" cy="493.8" rx="4.9" ry="5.8" fill="#00ff00" fill-opacity="0.24"/><ellipse cx="270.9" cy="607.1" rx="7.6" ry="8.9" fill="#00ff00" fill-opacity="0.18"/><ellipse cx="245.7" cy="457.7" rx="6.7" ry="6.5" fill="#00ff00" fill-opacity="0.22"/><ellipse cx="225.3" cy="518.6" rx="3.2" ry="3.8" fill="#00ff00" fill-opacity="0.10"/><ellipse cx="178.4" cy="533.3" rx="4.5" ry="4.9" fill="#00ff00" fill-opacity="0.26"/><ellipse cx="120.8" cy="613.6" rx="4.5" ry="4.6" fill="#00ff00" fill-opacity="0.15"/><ellipse cx="95.5" cy="486.5" rx="4.0" ry="4.7" fill="#00ff00" fill-opacity="0.17"/><ellipse cx="109.8" cy="677.9" rx="8.0" ry="7.8" fill="#00ff00" fill-opacity="0.11"/><ellipse cx="102.3" cy="468.3" rx="4.7" ry="3.9" fill="#00ff00" fill-opacity="0.12"/><ellipse cx="120.3" cy="591.4" rx="7.4" ry="8.2" fill="#00ff00" fill-opacity="0.15"/><ellipse cx="162.6" cy="579.7" rx="4.9" ry="4.6" fill="#00ff00" fill-opacity="0.09"/><ellipse cx="125.5" cy="693.7" rx="3.6" ry="3.6" fill="#00ff00" fill-opacity="0.19"/><ellipse cx="284.7" cy="500.5" rx="4.4" ry="3.9" fill="#00ff00" fill-opacity="0.15"/><ellipse cx="171.3" cy="690.2" rx="7.2" ry="8.3" fill="#00ff00" fill-opacity="0.08"/><ellipse cx="58.8" cy="627.3" rx="7.5" ry="7.4" fill="#00ff00" fill-opacity="0.19"/><ellipse cx="50.0" cy="545.6" rx="7.6" ry="8.6" fill="#00ff00" fill-opacity="0.23"/><ellipse cx="314.4" cy="508.9" rx="3.5" ry="3.1" fill="#00ff00" fill-opacity="0.17"/><ellipse cx="235.5" cy="687.0" rx="6.6" ry="7.0" fill="#00ff00" fill-opacity="0.22"/><ellipse cx="174.4" cy="586.7" rx="3.2" ry="3.6" fill="#00ff00" fill-opacity="0.12"/><ellipse cx="300.2" cy="610.9" rx="4.5" ry="3.8" fill="#00ff00" fill-opacity="0.13"/><ellipse cx="223.1" cy="624.5" rx="3.6" ry="2.9" fill="#00ff00" fill-opacity="0.17"/><ellipse cx="208.5" cy="544.7" rx="4.1" ry="4.3" fill="#00ff00" fill-opacity="0.08"/><ellipse cx="132.0" cy="563.4" rx="7.8" ry="8.2" fill="#00ff00" fill-opacity="0.24"/><ellipse cx="179.3" cy="505.3" rx="4.2" ry="5.0" fill="#00ff00" fill-opacity="0.21"/><ellipse cx="133.6" cy="450.6" rx="5.5" ry="5.9" fill="#00ff00" fill-opacity="0.16"/><ellipse cx="120.0" cy="616.5" rx="7.6" ry="6.8" fill="#00ff00" fill-opacity="0.09"/><ellipse cx="142.0" cy="553.1" rx="6.4" ry="5.6" fill="#00ff00" fill-opacity="0.22"/><ellipse cx="251.0" cy="574.8" rx="4.0" ry="4.8" fill="#00ff00" fill-opacity="0.14"/><ellipse cx="273.0" cy="504.3" rx="4.1" ry="4.5" fill="#00ff00" fill-opacity="0.13"/><ellipse cx="308.9" cy="572.4" rx="3.9" ry="3.5" fill="#00ff00" fill-opacity="0.16"/><ellipse cx="231.0" cy="688.8" rx="3.7" ry="3.6" fill="#00ff00" fill-opacity="0.12"/><ellipse cx="315.0" cy="481.5" rx="3.3" ry="2.7" fill="#00ff00" fill-opacity="0.15"/><ellipse cx="294.3" cy="672.1" rx="6.7" ry="8.0" fill="#00ff00" fill-opacity="0.25"/><ellipse cx="139.6" cy="492.7" rx="7.7" ry="8.4" fill="#00ff00" fill-opacity="0.09"/><ellipse cx="230.7" cy="542.3" rx="4.9" ry="4.5" fill="#00ff00" fill-opacity="0.11"/><ellipse cx="50.8" cy="516.9" rx="4.8" ry="5.6" fill="#00ff00" fill-opacity="0.10"/><ellipse cx="312.3" cy="498.3" rx="4.8" ry="5.4" fill="#00ff00" fill-opacity="0.23"/><ellipse cx="167.6" cy="457.7" rx="5.4" ry="5.1" fill="#00ff00" fill-opacity="0.25"/><ellipse cx="102.5" cy="538.6" rx="7.5" ry="6.1" fill="#00ff00" fill-opacity="0.15"/><ellipse cx="270.8" cy="642.0" rx="3.2" ry="2.6" fill="#00ff00" fill-opacity="0.09"/><ellipse cx="300.3" cy="511.1" rx="6.7" ry="7.8" fill="#00ff00" fill-opacity="0.14"/><ellipse cx="124.1" cy="691.1" rx="6.1" ry="5.5" fill="#00ff00" fill-opacity="0.21"/><ellipse cx="136.1" cy="515.8" rx="3.0" ry="3.3" fill="#00ff00" fill-opacity="0.24"/><ellipse cx="222.4" cy="687.4" rx="3.1" ry="2.8" fill="#00ff00" fill-opacity="0.17"/><ellipse cx="310.2" cy="690.2" rx="4.9" ry="4.4" fill="#00ff00" fill-opacity="0.16"/><ellipse cx="184.2" cy="683.5" rx="3.9" ry="4.4" fill="#00ff00" fill-opacity="0.21"/></g>
<g filter="url(#fc12)"><ellipse cx="70.4" cy="481.0" rx="7.0" ry="7.5" fill="#00ff00" fill-opacity="0.75"/><ellipse cx="83.6" cy="503.9" rx="7.5" ry="7.5" fill="#00ff00" fill-opacity="0.95"/><ellipse cx="131.7" cy="535.0" rx="7.5" ry="8.0" fill="#00ff00" fill-opacity="0.92"/><ellipse cx="170.0" cy="553.0" rx="7.5" ry="9.5" fill="#00ff00" fill-opacity="0.90"/><ellipse cx="215.8" cy="568.7" rx="7.0" ry="7.0" fill="#00ff00" fill-opacity="0.70"/><ellipse cx="130.5" cy="614.4" rx="7.0" ry="7.0" fill="#00ff00" fill-opacity="0.60"/><ellipse cx="171.0" cy="644.0" rx="8.0" ry="9.0" fill="#00ff00" fill-opacity="0.80"/><ellipse cx="251.8" cy="634.8" rx="7.0" ry="7.5" fill="#00ff00" fill-opacity="0.80"/><ellipse cx="280.7" cy="631.2" rx="7.0" ry="7.5" fill="#00ff00" fill-opacity="0.85"/><ellipse cx="277.0" cy="609.6" rx="7.0" ry="7.0" fill="#00ff00" fill-opacity="0.70"/><ellipse cx="308.0" cy="487.0" rx="8.0" ry="10.0" fill="#00ff00" fill-opacity="0.95"/><ellipse cx="277.0" cy="510.0" rx="7.0" ry="9.0" fill="#00ff00" fill-opacity="0.80"/><ellipse cx="113.7" cy="570.0" rx="5.0" ry="5.0" fill="#00ff00" fill-opacity="0.50"/><ellipse cx="318.0" cy="620.0" rx="5.0" ry="7.0" fill="#00ff00" fill-opacity="0.65"/><ellipse cx="190.0" cy="595.0" rx="6.0" ry="6.0" fill="#00ff00" fill-opacity="0.45"/><ellipse cx="235.0" cy="585.0" rx="6.0" ry="6.0" fill="#00ff00" fill-opacity="0.45"/><ellipse cx="225.0" cy="565.0" rx="8.0" ry="6.0" fill="#00ff00" fill-opacity="0.45"/><ellipse cx="150.0" cy="575.0" rx="6.0" ry="5.0" fill="#00ff00" fill-opacity="0.40"/><ellipse cx="210.0" cy="540.0" rx="7.0" ry="6.0" fill="#00ff00" fill-opacity="0.35"/><ellipse cx="260.0" cy="625.0" rx="6.0" ry="6.0" fill="#00ff00" fill-opacity="0.45"/><ellipse cx="305.0" cy="460.0" rx="6.0" ry="6.0" fill="#00ff00" fill-opacity="0.50"/><ellipse cx="190.0" cy="470.0" rx="6.0" ry="6.0" fill="#00ff00" fill-opacity="0.35"/><ellipse cx="100.0" cy="540.0" rx="6.0" ry="6.0" fill="#00ff00" fill-opacity="0.35"/></g>
</g>
<rect x="57" y="452" width="30" height="3.2" fill="#fff"/>
<circle cx="84.1" cy="505.0" r="11.3" fill="none" stroke="#fff" stroke-width="2.7" stroke-dasharray="6.2 3.75" transform="rotate(-80 84.1 505.0)"/>
<circle cx="215.0" cy="569.3" r="11.3" fill="none" stroke="#fff" stroke-width="2.7" stroke-dasharray="6.2 3.75" transform="rotate(-80 215.0 569.3)"/>
<circle cx="277.1" cy="609.9" r="11.3" fill="none" stroke="#fff" stroke-width="2.7" stroke-dasharray="6.2 3.75" transform="rotate(-80 277.1 609.9)"/>
<circle cx="131.0" cy="615.2" r="11.3" fill="none" stroke="#fff" stroke-width="2.7" stroke-dasharray="6.2 3.75" transform="rotate(-80 131.0 615.2)"/>
<circle cx="251.6" cy="634.3" r="11.3" fill="none" stroke="#fff" stroke-width="2.7" stroke-dasharray="6.2 3.75" transform="rotate(-80 251.6 634.3)"/>
<circle cx="280.0" cy="634.3" r="11.3" fill="none" stroke="#fff" stroke-width="2.7" stroke-dasharray="6.2 3.75" transform="rotate(-80 280.0 634.3)"/>
<text x="106.0" y="508.8" font-size="21.5" fill="#fff">3</text>
<text x="237.4" y="558.4" font-size="21.5" fill="#fff">5</text>
<text x="289.0" y="591.7" font-size="21.5" fill="#fff">6</text>
<text x="100.6" y="647.7" font-size="21.5" fill="#fff">2</text>
<text x="231.3" y="671.2" font-size="21.5" fill="#fff">1</text>
<text x="281.2" y="671.2" font-size="21.5" fill="#fff">4</text>
<g clip-path="url(#cp13)">
<rect x="50" y="749" width="275" height="258" fill="#2a0303"/>
<g filter="url(#fb14)"><ellipse cx="187.0" cy="899.0" rx="160.0" ry="130.0" fill="#420505" fill-opacity="0.80"/><ellipse cx="187.0" cy="764.0" rx="160.0" ry="35.0" fill="#000" fill-opacity="0.40"/><ellipse cx="267.0" cy="780.0" rx="13.0" ry="13.0" fill="#000" fill-opacity="0.60"/><ellipse cx="110.0" cy="999.0" rx="90.0" ry="30.0" fill="#520707" fill-opacity="0.40"/></g>
<g filter="url(#fd15)"><ellipse cx="177.3" cy="845.3" rx="3.6" ry="4.1" fill="#ff1010" fill-opacity="0.07"/><ellipse cx="188.3" cy="980.8" rx="3.3" ry="3.4" fill="#ff1010" fill-opacity="0.16"/><ellipse cx="61.2" cy="846.8" rx="5.8" ry="5.7" fill="#ff1010" fill-opacity="0.18"/><ellipse cx="93.2" cy="810.4" rx="3.4" ry="3.5" fill="#ff1010" fill-opacity="0.21"/><ellipse cx="212.4" cy="948.7" rx="4.5" ry="5.0" fill="#ff1010" fill-opacity="0.09"/><ellipse cx="130.1" cy="923.0" rx="5.9" ry="5.7" fill="#ff1010" fill-opacity="0.08"/><ellipse cx="123.4" cy="803.2" rx="4.1" ry="4.6" fill="#ff1010" fill-opacity="0.10"/><ellipse cx="293.8" cy="975.9" rx="3.2" ry="3.1" fill="#ff1010" fill-opacity="0.14"/><ellipse cx="56.5" cy="858.6" rx="6.6" ry="5.6" fill="#ff1010" fill-opacity="0.16"/><ellipse cx="83.3" cy="898.3" rx="6.6" ry="5.8" fill="#ff1010" fill-opacity="0.07"/><ellipse cx="73.0" cy="888.3" rx="3.1" ry="2.6" fill="#ff1010" fill-opacity="0.14"/><ellipse cx="303.3" cy="857.4" rx="4.6" ry="4.8" fill="#ff1010" fill-opacity="0.08"/><ellipse cx="209.4" cy="793.5" rx="5.4" ry="6.4" fill="#ff1010" fill-opacity="0.08"/><ellipse cx="202.6" cy="905.4" rx="3.6" ry="3.3" fill="#ff1010" fill-opacity="0.22"/><ellipse cx="324.4" cy="780.3" rx="5.8" ry="6.9" fill="#ff1010" fill-opacity="0.11"/><ellipse cx="218.1" cy="760.1" rx="4.5" ry="4.8" fill="#ff1010" fill-opacity="0.16"/><ellipse cx="263.0" cy="771.4" rx="4.4" ry="5.0" fill="#ff1010" fill-opacity="0.16"/><ellipse cx="174.1" cy="852.8" rx="6.9" ry="7.2" fill="#ff1010" fill-opacity="0.07"/><ellipse cx="269.8" cy="833.8" rx="4.7" ry="4.2" fill="#ff1010" fill-opacity="0.14"/><ellipse cx="139.3" cy="771.9" rx="5.5" ry="4.6" fill="#ff1010" fill-opacity="0.19"/><ellipse cx="57.0" cy="950.4" rx="6.2" ry="6.2" fill="#ff1010" fill-opacity="0.18"/><ellipse cx="118.3" cy="939.3" rx="4.7" ry="4.2" fill="#ff1010" fill-opacity="0.21"/><ellipse cx="160.2" cy="845.2" rx="6.4" ry="6.1" fill="#ff1010" fill-opacity="0.17"/><ellipse cx="97.0" cy="966.6" rx="4.0" ry="3.3" fill="#ff1010" fill-opacity="0.22"/><ellipse cx="97.5" cy="993.2" rx="6.9" ry="7.2" fill="#ff1010" fill-opacity="0.07"/><ellipse cx="66.8" cy="802.8" rx="4.6" ry="4.8" fill="#ff1010" fill-opacity="0.21"/><ellipse cx="147.5" cy="785.3" rx="5.2" ry="4.5" fill="#ff1010" fill-opacity="0.08"/><ellipse cx="202.9" cy="928.6" rx="3.3" ry="3.2" fill="#ff1010" fill-opacity="0.18"/><ellipse cx="260.1" cy="847.8" rx="6.5" ry="5.7" fill="#ff1010" fill-opacity="0.18"/><ellipse cx="262.2" cy="976.1" rx="5.0" ry="4.2" fill="#ff1010" fill-opacity="0.08"/><ellipse cx="195.4" cy="793.7" rx="5.5" ry="4.6" fill="#ff1010" fill-opacity="0.19"/><ellipse cx="111.2" cy="752.4" rx="3.7" ry="3.6" fill="#ff1010" fill-opacity="0.15"/><ellipse cx="156.8" cy="793.6" rx="4.9" ry="5.8" fill="#ff1010" fill-opacity="0.15"/><ellipse cx="308.9" cy="756.4" rx="7.0" ry="8.1" fill="#ff1010" fill-opacity="0.15"/><ellipse cx="194.0" cy="887.6" rx="6.6" ry="5.5" fill="#ff1010" fill-opacity="0.17"/><ellipse cx="199.1" cy="826.5" rx="5.9" ry="6.4" fill="#ff1010" fill-opacity="0.09"/><ellipse cx="242.4" cy="866.0" rx="5.0" ry="5.2" fill="#ff1010" fill-opacity="0.08"/><ellipse cx="215.8" cy="845.3" rx="6.5" ry="5.8" fill="#ff1010" fill-opacity="0.19"/><ellipse cx="250.6" cy="910.2" rx="6.5" ry="5.3" fill="#ff1010" fill-opacity="0.16"/><ellipse cx="218.7" cy="923.9" rx="4.6" ry="3.8" fill="#ff1010" fill-opacity="0.10"/><ellipse cx="217.2" cy="795.8" rx="3.3" ry="3.1" fill="#ff1010" fill-opacity="0.14"/><ellipse cx="197.3" cy="755.7" rx="6.1" ry="5.7" fill="#ff1010" fill-opacity="0.19"/><ellipse cx="52.4" cy="995.1" rx="5.4" ry="6.4" fill="#ff1010" fill-opacity="0.22"/><ellipse cx="279.0" cy="776.4" rx="4.4" ry="3.9" fill="#ff1010" fill-opacity="0.19"/><ellipse cx="102.8" cy="806.1" rx="3.4" ry="2.9" fill="#ff1010" fill-opacity="0.21"/><ellipse cx="318.5" cy="845.1" rx="6.0" ry="5.9" fill="#ff1010" fill-opacity="0.15"/><ellipse cx="151.6" cy="912.8" rx="3.9" ry="3.6" fill="#ff1010" fill-opacity="0.15"/><ellipse cx="104.3" cy="862.3" rx="6.8" ry="5.5" fill="#ff1010" fill-opacity="0.09"/><ellipse cx="270.0" cy="763.9" rx="4.0" ry="4.6" fill="#ff1010" fill-opacity="0.16"/><ellipse cx="110.7" cy="764.1" rx="4.1" ry="3.8" fill="#ff1010" fill-opacity="0.19"/><ellipse cx="318.3" cy="951.9" rx="6.6" ry="7.7" fill="#ff1010" fill-opacity="0.20"/><ellipse cx="303.0" cy="998.6" rx="3.4" ry="3.1" fill="#ff1010" fill-opacity="0.11"/><ellipse cx="216.1" cy="875.9" rx="4.4" ry="5.0" fill="#ff1010" fill-opacity="0.13"/><ellipse cx="107.5" cy="820.3" rx="4.8" ry="5.1" fill="#ff1010" fill-opacity="0.16"/><ellipse cx="171.0" cy="797.1" rx="4.6" ry="4.3" fill="#ff1010" fill-opacity="0.10"/><ellipse cx="199.6" cy="797.6" rx="5.8" ry="6.2" fill="#ff1010" fill-opacity="0.09"/><ellipse cx="222.0" cy="836.2" rx="4.8" ry="5.0" fill="#ff1010" fill-opacity="0.18"/><ellipse cx="293.0" cy="938.3" rx="3.8" ry="3.9" fill="#ff1010" fill-opacity="0.12"/><ellipse cx="55.3" cy="891.5" rx="4.9" ry="5.6" fill="#ff1010" fill-opacity="0.12"/><ellipse cx="279.2" cy="881.6" rx="3.4" ry="3.7" fill="#ff1010" fill-opacity="0.11"/><ellipse cx="196.7" cy="767.4" rx="3.0" ry="3.6" fill="#ff1010" fill-opacity="0.08"/><ellipse cx="91.0" cy="791.1" rx="3.4" ry="3.8" fill="#ff1010" fill-opacity="0.22"/><ellipse cx="228.5" cy="851.0" rx="6.6" ry="6.6" fill="#ff1010" fill-opacity="0.09"/><ellipse cx="239.8" cy="841.6" rx="4.1" ry="3.8" fill="#ff1010" fill-opacity="0.13"/><ellipse cx="100.2" cy="907.0" rx="6.5" ry="6.7" fill="#ff1010" fill-opacity="0.07"/><ellipse cx="238.2" cy="754.2" rx="4.9" ry="5.6" fill="#ff1010" fill-opacity="0.17"/><ellipse cx="299.8" cy="943.7" rx="4.1" ry="3.5" fill="#ff1010" fill-opacity="0.14"/><ellipse cx="236.9" cy="808.9" rx="4.3" ry="4.8" fill="#ff1010" fill-opacity="0.12"/><ellipse cx="215.2" cy="889.7" rx="6.7" ry="5.4" fill="#ff1010" fill-opacity="0.10"/><ellipse cx="264.1" cy="921.6" rx="3.4" ry="2.9" fill="#ff1010" fill-opacity="0.10"/><ellipse cx="199.4" cy="981.8" rx="3.9" ry="3.4" fill="#ff1010" fill-opacity="0.17"/><ellipse cx="166.4" cy="967.4" rx="7.0" ry="8.2" fill="#ff1010" fill-opacity="0.18"/><ellipse cx="186.5" cy="764.7" rx="6.2" ry="6.0" fill="#ff1010" fill-opacity="0.14"/><ellipse cx="223.8" cy="997.7" rx="5.2" ry="6.1" fill="#ff1010" fill-opacity="0.21"/><ellipse cx="73.3" cy="840.5" rx="6.6" ry="7.3" fill="#ff1010" fill-opacity="0.22"/><ellipse cx="101.2" cy="886.0" rx="6.7" ry="6.8" fill="#ff1010" fill-opacity="0.17"/><ellipse cx="318.1" cy="793.7" rx="3.2" ry="3.7" fill="#ff1010" fill-opacity="0.16"/><ellipse cx="105.1" cy="963.7" rx="4.1" ry="3.5" fill="#ff1010" fill-opacity="0.11"/><ellipse cx="59.9" cy="853.7" rx="6.1" ry="6.0" fill="#ff1010" fill-opacity="0.21"/><ellipse cx="61.5" cy="793.7" rx="3.6" ry="3.7" fill="#ff1010" fill-opacity="0.10"/><ellipse cx="233.5" cy="884.0" rx="5.3" ry="6.1" fill="#ff1010" fill-opacity="0.19"/><ellipse cx="303.6" cy="788.2" rx="4.5" ry="5.3" fill="#ff1010" fill-opacity="0.13"/><ellipse cx="128.5" cy="873.3" rx="3.7" ry="4.2" fill="#ff1010" fill-opacity="0.17"/><ellipse cx="76.0" cy="997.8" rx="5.1" ry="4.6" fill="#ff1010" fill-opacity="0.16"/><ellipse cx="311.1" cy="838.5" rx="3.1" ry="2.7" fill="#ff1010" fill-opacity="0.08"/><ellipse cx="195.4" cy="829.4" rx="6.4" ry="5.7" fill="#ff1010" fill-opacity="0.07"/><ellipse cx="177.8" cy="780.8" rx="4.2" ry="3.8" fill="#ff1010" fill-opacity="0.10"/><ellipse cx="225.0" cy="990.5" rx="4.5" ry="4.7" fill="#ff1010" fill-opacity="0.12"/><ellipse cx="301.6" cy="891.6" rx="3.1" ry="3.4" fill="#ff1010" fill-opacity="0.10"/><ellipse cx="62.9" cy="754.0" rx="6.4" ry="6.9" fill="#ff1010" fill-opacity="0.12"/><ellipse cx="203.3" cy="931.0" rx="3.3" ry="3.6" fill="#ff1010" fill-opacity="0.18"/><ellipse cx="309.1" cy="764.3" rx="5.3" ry="5.3" fill="#ff1010" fill-opacity="0.20"/><ellipse cx="150.1" cy="919.9" rx="6.6" ry="6.2" fill="#ff1010" fill-opacity="0.15"/><ellipse cx="295.7" cy="757.8" rx="6.9" ry="6.4" fill="#ff1010" fill-opacity="0.14"/><ellipse cx="129.1" cy="954.8" rx="5.1" ry="5.6" fill="#ff1010" fill-opacity="0.09"/><ellipse cx="292.1" cy="960.8" rx="5.7" ry="5.1" fill="#ff1010" fill-opacity="0.11"/><ellipse cx="174.3" cy="765.8" rx="6.8" ry="6.6" fill="#ff1010" fill-opacity="0.21"/><ellipse cx="100.3" cy="916.2" rx="6.2" ry="6.6" fill="#ff1010" fill-opacity="0.13"/><ellipse cx="55.3" cy="861.4" rx="4.6" ry="5.4" fill="#ff1010" fill-opacity="0.22"/><ellipse cx="313.1" cy="1001.9" rx="3.7" ry="3.0" fill="#ff1010" fill-opacity="0.11"/><ellipse cx="52.2" cy="779.7" rx="5.3" ry="4.7" fill="#ff1010" fill-opacity="0.16"/><ellipse cx="154.7" cy="819.7" rx="6.9" ry="6.0" fill="#ff1010" fill-opacity="0.20"/><ellipse cx="194.9" cy="920.0" rx="3.6" ry="3.9" fill="#ff1010" fill-opacity="0.20"/><ellipse cx="104.5" cy="871.0" rx="5.6" ry="5.6" fill="#ff1010" fill-opacity="0.18"/><ellipse cx="227.2" cy="830.0" rx="5.7" ry="6.3" fill="#ff1010" fill-opacity="0.14"/><ellipse cx="212.3" cy="912.7" rx="4.9" ry="4.1" fill="#ff1010" fill-opacity="0.13"/><ellipse cx="263.9" cy="935.8" rx="3.3" ry="3.3" fill="#ff1010" fill-opacity="0.16"/><ellipse cx="196.6" cy="787.6" rx="5.6" ry="6.0" fill="#ff1010" fill-opacity="0.15"/><ellipse cx="308.4" cy="898.0" rx="3.0" ry="2.8" fill="#ff1010" fill-opacity="0.18"/><ellipse cx="71.9" cy="998.0" rx="5.8" ry="6.4" fill="#ff1010" fill-opacity="0.10"/><ellipse cx="51.9" cy="974.2" rx="5.0" ry="4.9" fill="#ff1010" fill-opacity="0.15"/><ellipse cx="261.3" cy="845.1" rx="6.1" ry="5.3" fill="#ff1010" fill-opacity="0.22"/><ellipse cx="241.4" cy="831.2" rx="4.9" ry="5.7" fill="#ff1010" fill-opacity="0.12"/><ellipse cx="242.2" cy="983.6" rx="6.8" ry="6.2" fill="#ff1010" fill-opacity="0.19"/><ellipse cx="217.4" cy="957.6" rx="3.3" ry="3.2" fill="#ff1010" fill-opacity="0.14"/><ellipse cx="274.0" cy="865.6" rx="3.2" ry="2.8" fill="#ff1010" fill-opacity="0.19"/><ellipse cx="292.8" cy="897.0" rx="3.3" ry="3.7" fill="#ff1010" fill-opacity="0.20"/><ellipse cx="129.0" cy="873.3" rx="4.2" ry="3.4" fill="#ff1010" fill-opacity="0.18"/><ellipse cx="93.7" cy="771.5" rx="6.6" ry="5.6" fill="#ff1010" fill-opacity="0.18"/><ellipse cx="274.1" cy="813.7" rx="4.5" ry="4.0" fill="#ff1010" fill-opacity="0.18"/><ellipse cx="317.7" cy="940.9" rx="5.0" ry="5.0" fill="#ff1010" fill-opacity="0.13"/><ellipse cx="246.5" cy="818.5" rx="4.0" ry="4.3" fill="#ff1010" fill-opacity="0.11"/><ellipse cx="321.8" cy="936.6" rx="3.7" ry="3.0" fill="#ff1010" fill-opacity="0.16"/><ellipse cx="86.9" cy="878.0" rx="5.4" ry="6.1" fill="#ff1010" fill-opacity="0.13"/><ellipse cx="200.2" cy="959.1" rx="3.5" ry="3.3" fill="#ff1010" fill-opacity="0.19"/><ellipse cx="148.5" cy="989.0" rx="3.3" ry="2.8" fill="#ff1010" fill-opacity="0.12"/><ellipse cx="177.6" cy="843.8" rx="3.9" ry="3.8" fill="#ff1010" fill-opacity="0.20"/><ellipse cx="307.8" cy="910.5" rx="4.0" ry="4.2" fill="#ff1010" fill-opacity="0.09"/><ellipse cx="67.3" cy="954.1" rx="4.1" ry="3.5" fill="#ff1010" fill-opacity="0.19"/><ellipse cx="83.7" cy="810.0" rx="3.6" ry="4.2" fill="#ff1010" fill-opacity="0.17"/><ellipse cx="99.8" cy="767.6" rx="6.6" ry="5.6" fill="#ff1010" fill-opacity="0.18"/><ellipse cx="239.8" cy="900.7" rx="4.9" ry="4.7" fill="#ff1010" fill-opacity="0.11"/><ellipse cx="227.8" cy="787.9" rx="4.9" ry="4.4" fill="#ff1010" fill-opacity="0.13"/><ellipse cx="295.0" cy="895.4" rx="5.6" ry="5.9" fill="#ff1010" fill-opacity="0.07"/><ellipse cx="265.3" cy="974.7" rx="6.0" ry="6.0" fill="#ff1010" fill-opacity="0.20"/><ellipse cx="309.6" cy="820.4" rx="3.7" ry="3.4" fill="#ff1010" fill-opacity="0.07"/><ellipse cx="114.7" cy="770.3" rx="3.0" ry="2.9" fill="#ff1010" fill-opacity="0.07"/><ellipse cx="182.2" cy="968.5" rx="5.9" ry="4.8" fill="#ff1010" fill-opacity="0.18"/><ellipse cx="102.3" cy="956.9" rx="5.6" ry="5.7" fill="#ff1010" fill-opacity="0.14"/><ellipse cx="319.6" cy="803.2" rx="6.6" ry="5.8" fill="#ff1010" fill-opacity="0.08"/></g>
<g filter="url(#fc16)"><ellipse cx="133.0" cy="839.0" rx="8.0" ry="8.5" fill="#ff1010" fill-opacity="0.95"/><ellipse cx="168.0" cy="952.7" rx="8.0" ry="8.0" fill="#ff1010" fill-opacity="0.95"/><ellipse cx="85.7" cy="810.5" rx="7.0" ry="7.0" fill="#ff1010" fill-opacity="0.80"/><ellipse cx="216.0" cy="874.0" rx="7.0" ry="7.0" fill="#ff1010" fill-opacity="0.60"/><ellipse cx="253.7" cy="939.4" rx="7.5" ry="7.5" fill="#ff1010" fill-opacity="0.75"/><ellipse cx="281.4" cy="939.4" rx="7.0" ry="7.0" fill="#ff1010" fill-opacity="0.55"/><ellipse cx="277.8" cy="915.3" rx="7.0" ry="7.0" fill="#ff1010" fill-opacity="0.55"/><ellipse cx="132.0" cy="920.0" rx="7.0" ry="7.0" fill="#ff1010" fill-opacity="0.60"/><ellipse cx="209.0" cy="775.5" rx="7.0" ry="8.0" fill="#ff1010" fill-opacity="0.60"/><ellipse cx="56.0" cy="847.8" rx="7.0" ry="7.0" fill="#ff1010" fill-opacity="0.60"/><ellipse cx="310.0" cy="792.4" rx="7.0" ry="8.0" fill="#ff1010" fill-opacity="0.55"/><ellipse cx="113.9" cy="898.4" rx="7.0" ry="6.0" fill="#ff1010" fill-opacity="0.35"/><ellipse cx="170.5" cy="855.0" rx="6.0" ry="7.0" fill="#ff1010" fill-opacity="0.35"/><ellipse cx="121.0" cy="832.0" rx="3.0" ry="3.0" fill="#ff1010" fill-opacity="0.70"/><ellipse cx="117.5" cy="861.0" rx="3.0" ry="3.0" fill="#ff1010" fill-opacity="0.60"/><ellipse cx="151.0" cy="966.0" rx="6.0" ry="7.0" fill="#ff1010" fill-opacity="0.35"/><ellipse cx="146.4" cy="975.6" rx="4.0" ry="3.0" fill="#ff1010" fill-opacity="0.70"/><ellipse cx="202.0" cy="995.0" rx="6.0" ry="6.0" fill="#ff1010" fill-opacity="0.30"/><ellipse cx="61.0" cy="928.0" rx="2.5" ry="2.5" fill="#ff1010" fill-opacity="0.70"/><ellipse cx="320.0" cy="945.0" rx="2.5" ry="2.5" fill="#ff1010" fill-opacity="0.60"/><ellipse cx="279.0" cy="924.0" rx="3.0" ry="3.0" fill="#ff1010" fill-opacity="0.60"/><ellipse cx="295.0" cy="944.0" rx="3.0" ry="3.0" fill="#ff1010" fill-opacity="0.50"/></g>
</g>
<rect x="57" y="755.5" width="30" height="3.2" fill="#fff"/>
<circle cx="85.3" cy="810.4" r="11.3" fill="none" stroke="#fff" stroke-width="2.7" stroke-dasharray="6.2 3.75" transform="rotate(-80 85.3 810.4)"/>
<circle cx="216.2" cy="874.7" r="11.3" fill="none" stroke="#fff" stroke-width="2.7" stroke-dasharray="6.2 3.75" transform="rotate(-80 216.2 874.7)"/>
<circle cx="278.3" cy="915.3" r="11.3" fill="none" stroke="#fff" stroke-width="2.7" stroke-dasharray="6.2 3.75" transform="rotate(-80 278.3 915.3)"/>
<circle cx="132.2" cy="920.6" r="11.3" fill="none" stroke="#fff" stroke-width="2.7" stroke-dasharray="6.2 3.75" transform="rotate(-80 132.2 920.6)"/>
<circle cx="252.8" cy="939.7" r="11.3" fill="none" stroke="#fff" stroke-width="2.7" stroke-dasharray="6.2 3.75" transform="rotate(-80 252.8 939.7)"/>
<circle cx="281.2" cy="939.7" r="11.3" fill="none" stroke="#fff" stroke-width="2.7" stroke-dasharray="6.2 3.75" transform="rotate(-80 281.2 939.7)"/>
<text x="107.2" y="814.2" font-size="21.5" fill="#fff">3</text>
<text x="238.6" y="863.8" font-size="21.5" fill="#fff">5</text>
<text x="290.2" y="897.1" font-size="21.5" fill="#fff">6</text>
<text x="101.8" y="953.1" font-size="21.5" fill="#fff">2</text>
<text x="232.5" y="976.6" font-size="21.5" fill="#fff">1</text>
<text x="282.4" y="976.6" font-size="21.5" fill="#fff">4</text>
<g filter="url(#hmtb)"><rect x="330" y="445" width="273" height="256" fill="#000"/>
<g style="isolation:isolate">
<ellipse cx="574" cy="515" rx="42" ry="55" fill="#f00" fill-opacity="0.85" transform="rotate(0 574 515)" style="mix-blend-mode:screen"/>
<ellipse cx="510" cy="463" rx="32" ry="22" fill="#f00" fill-opacity="0.6" transform="rotate(0 510 463)" style="mix-blend-mode:screen"/>
<ellipse cx="400" cy="500" rx="38" ry="30" fill="#f00" fill-opacity="0.55" transform="rotate(0 400 500)" style="mix-blend-mode:screen"/>
<ellipse cx="355" cy="460" rx="22" ry="12" fill="#f00" fill-opacity="0.45" transform="rotate(0 355 460)" style="mix-blend-mode:screen"/>
<ellipse cx="338" cy="545" rx="10" ry="10" fill="#f00" fill-opacity="0.8" transform="rotate(0 338 545)" style="mix-blend-mode:screen"/>
<ellipse cx="420" cy="583" rx="80" ry="14" fill="#f00" fill-opacity="0.65" transform="rotate(-5 420 583)" style="mix-blend-mode:screen"/>
<ellipse cx="455" cy="565" rx="35" ry="40" fill="#f00" fill-opacity="0.6" transform="rotate(0 455 565)" style="mix-blend-mode:screen"/>
<ellipse cx="560" cy="655" rx="45" ry="45" fill="#f00" fill-opacity="0.4" transform="rotate(0 560 655)" style="mix-blend-mode:screen"/>
<ellipse cx="390" cy="665" rx="50" ry="30" fill="#f00" fill-opacity="0.3" transform="rotate(0 390 665)" style="mix-blend-mode:screen"/>
<ellipse cx="480" cy="670" rx="40" ry="30" fill="#f00" fill-opacity="0.35" transform="rotate(0 480 670)" style="mix-blend-mode:screen"/>
<ellipse cx="592" cy="585" rx="15" ry="40" fill="#f00" fill-opacity="0.5" transform="rotate(0 592 585)" style="mix-blend-mode:screen"/>
<ellipse cx="530" cy="575" rx="30" ry="20" fill="#f00" fill-opacity="0.35" transform="rotate(0 530 575)" style="mix-blend-mode:screen"/>
</g></g>
<g filter="url(#hmtr)"><rect x="608" y="445" width="273" height="256" fill="#000"/>
<g style="isolation:isolate">
<ellipse cx="733" cy="530" rx="70" ry="50" fill="#f00" fill-opacity="0.9" transform="rotate(0 733 530)" style="mix-blend-mode:screen"/>
<ellipse cx="668" cy="605" rx="50" ry="45" fill="#f00" fill-opacity="0.8" transform="rotate(0 668 605)" style="mix-blend-mode:screen"/>
<ellipse cx="758" cy="655" rx="50" ry="28" fill="#f00" fill-opacity="0.75" transform="rotate(0 758 655)" style="mix-blend-mode:screen"/>
<ellipse cx="823" cy="510" rx="60" ry="40" fill="#f00" fill-opacity="0.65" transform="rotate(0 823 510)" style="mix-blend-mode:screen"/>
<ellipse cx="870" cy="485" rx="20" ry="45" fill="#f00" fill-opacity="0.6" transform="rotate(0 870 485)" style="mix-blend-mode:screen"/>
<ellipse cx="633" cy="475" rx="35" ry="25" fill="#f00" fill-opacity="0.45" transform="rotate(0 633 475)" style="mix-blend-mode:screen"/>
<ellipse cx="768" cy="465" rx="40" ry="15" fill="#f00" fill-opacity="0.4" transform="rotate(0 768 465)" style="mix-blend-mode:screen"/>
<ellipse cx="853" cy="660" rx="35" ry="40" fill="#f00" fill-opacity="0.35" transform="rotate(0 853 660)" style="mix-blend-mode:screen"/>
<ellipse cx="648" cy="680" rx="40" ry="25" fill="#f00" fill-opacity="0.45" transform="rotate(0 648 680)" style="mix-blend-mode:screen"/>
<ellipse cx="713" cy="620" rx="45" ry="25" fill="#f00" fill-opacity="0.8" transform="rotate(0 713 620)" style="mix-blend-mode:screen"/>
<ellipse cx="788" cy="595" rx="30" ry="25" fill="#f00" fill-opacity="0.35" transform="rotate(0 788 595)" style="mix-blend-mode:screen"/>
<ellipse cx="616" cy="565" rx="12" ry="55" fill="#f00" fill-opacity="0.6" transform="rotate(0 616 565)" style="mix-blend-mode:screen"/>
<ellipse cx="668" cy="555" rx="30" ry="30" fill="#f00" fill-opacity="0.65" transform="rotate(0 668 555)" style="mix-blend-mode:screen"/>
<ellipse cx="688" cy="613.7" rx="8" ry="8" fill="#0f0" fill-opacity="0.68" transform="rotate(0 688 613.7)" style="mix-blend-mode:screen"/>
<ellipse cx="808.5" cy="634" rx="7.5" ry="7.5" fill="#0f0" fill-opacity="0.66" transform="rotate(0 808.5 634)" style="mix-blend-mode:screen"/>
<ellipse cx="620" cy="460" rx="5" ry="3" fill="#0f0" fill-opacity="0.45" transform="rotate(0 620 460)" style="mix-blend-mode:screen"/>
<ellipse cx="644" cy="465" rx="4" ry="3" fill="#0f0" fill-opacity="0.5" transform="rotate(0 644 465)" style="mix-blend-mode:screen"/>
</g></g>
<g filter="url(#hmta)"><rect x="887" y="445" width="272" height="256" fill="#000"/>
<g style="isolation:isolate">
<ellipse cx="992" cy="565" rx="22" ry="30" fill="#f00" fill-opacity="0.75" transform="rotate(0 992 565)" style="mix-blend-mode:screen"/>
<ellipse cx="1007" cy="550" rx="22" ry="18" fill="#f00" fill-opacity="0.7" transform="rotate(0 1007 550)" style="mix-blend-mode:screen"/>
<ellipse cx="1052" cy="465" rx="35" ry="15" fill="#f00" fill-opacity="0.4" transform="rotate(0 1052 465)" style="mix-blend-mode:screen"/>
<ellipse cx="942" cy="481" rx="12" ry="8" fill="#f00" fill-opacity="0.5" transform="rotate(0 942 481)" style="mix-blend-mode:screen"/>
<ellipse cx="1090" cy="634" rx="12" ry="12" fill="#f00" fill-opacity="0.45" transform="rotate(0 1090 634)" style="mix-blend-mode:screen"/>
<ellipse cx="1023" cy="573" rx="140" ry="130" fill="#f00" fill-opacity="0.1" transform="rotate(0 1023 573)" style="mix-blend-mode:screen"/>
<ellipse cx="969" cy="608" rx="14" ry="12" fill="#f00" fill-opacity="0.8" transform="rotate(0 969 608)" style="mix-blend-mode:screen"/>
<ellipse cx="982" cy="590" rx="12" ry="14" fill="#f00" fill-opacity="0.65" transform="rotate(0 982 590)" style="mix-blend-mode:screen"/>
<ellipse cx="1037" cy="595" rx="18" ry="14" fill="#f00" fill-opacity="0.7" transform="rotate(0 1037 595)" style="mix-blend-mode:screen"/>
<ellipse cx="1057" cy="570" rx="10" ry="10" fill="#f00" fill-opacity="0.7" transform="rotate(0 1057 570)" style="mix-blend-mode:screen"/>
<ellipse cx="1012" cy="580" rx="15" ry="12" fill="#f00" fill-opacity="0.6" transform="rotate(0 1012 580)" style="mix-blend-mode:screen"/>
</g></g>
<g filter="url(#hmbb)"><rect x="330" y="749" width="273" height="258" fill="#000"/>
<g style="isolation:isolate">
<ellipse cx="390" cy="859" rx="60" ry="60" fill="#f00" fill-opacity="0.6" transform="rotate(0 390 859)" style="mix-blend-mode:screen"/>
<ellipse cx="470" cy="834" rx="70" ry="40" fill="#f00" fill-opacity="0.55" transform="rotate(0 470 834)" style="mix-blend-mode:screen"/>
<ellipse cx="565" cy="844" rx="45" ry="65" fill="#f00" fill-opacity="0.6" transform="rotate(0 565 844)" style="mix-blend-mode:screen"/>
<ellipse cx="580" cy="779" rx="30" ry="30" fill="#f00" fill-opacity="0.5" transform="rotate(0 580 779)" style="mix-blend-mode:screen"/>
<ellipse cx="370" cy="939" rx="50" ry="40" fill="#f00" fill-opacity="0.55" transform="rotate(0 370 939)" style="mix-blend-mode:screen"/>
<ellipse cx="430" cy="974" rx="45" ry="35" fill="#f00" fill-opacity="0.55" transform="rotate(0 430 974)" style="mix-blend-mode:screen"/>
<ellipse cx="545" cy="964" rx="60" ry="45" fill="#f00" fill-opacity="0.6" transform="rotate(0 545 964)" style="mix-blend-mode:screen"/>
<ellipse cx="430" cy="899" rx="35" ry="30" fill="#f00" fill-opacity="0.5" transform="rotate(0 430 899)" style="mix-blend-mode:screen"/>
<ellipse cx="530" cy="894" rx="40" ry="25" fill="#f00" fill-opacity="0.55" transform="rotate(0 530 894)" style="mix-blend-mode:screen"/>
<ellipse cx="355" cy="779" rx="30" ry="22" fill="#f00" fill-opacity="0.4" transform="rotate(0 355 779)" style="mix-blend-mode:screen"/>
<ellipse cx="480" cy="789" rx="30" ry="15" fill="#f00" fill-opacity="0.25" transform="rotate(0 480 789)" style="mix-blend-mode:screen"/>
<ellipse cx="480" cy="869" rx="20" ry="30" fill="#f00" fill-opacity="0.45" transform="rotate(0 480 869)" style="mix-blend-mode:screen"/>
<ellipse cx="480" cy="964" rx="25" ry="30" fill="#f00" fill-opacity="0.5" transform="rotate(0 480 964)" style="mix-blend-mode:screen"/>
</g></g>
<g filter="url(#hmbr)"><rect x="606" y="749" width="274" height="258" fill="#000"/>
<g style="isolation:isolate">
<ellipse cx="666" cy="849" rx="60" ry="60" fill="#f00" fill-opacity="0.7" transform="rotate(0 666 849)" style="mix-blend-mode:screen"/>
<ellipse cx="756" cy="839" rx="60" ry="40" fill="#f00" fill-opacity="0.65" transform="rotate(0 756 839)" style="mix-blend-mode:screen"/>
<ellipse cx="846" cy="844" rx="35" ry="75" fill="#f00" fill-opacity="0.6" transform="rotate(0 846 844)" style="mix-blend-mode:screen"/>
<ellipse cx="656" cy="929" rx="50" ry="40" fill="#f00" fill-opacity="0.65" transform="rotate(0 656 929)" style="mix-blend-mode:screen"/>
<ellipse cx="706" cy="979" rx="50" ry="30" fill="#f00" fill-opacity="0.6" transform="rotate(0 706 979)" style="mix-blend-mode:screen"/>
<ellipse cx="811" cy="964" rx="60" ry="35" fill="#f00" fill-opacity="0.7" transform="rotate(0 811 964)" style="mix-blend-mode:screen"/>
<ellipse cx="836" cy="909" rx="35" ry="35" fill="#f00" fill-opacity="0.6" transform="rotate(0 836 909)" style="mix-blend-mode:screen"/>
<ellipse cx="786" cy="859" rx="40" ry="30" fill="#f00" fill-opacity="0.6" transform="rotate(0 786 859)" style="mix-blend-mode:screen"/>
<ellipse cx="861" cy="769" rx="20" ry="20" fill="#f00" fill-opacity="0.4" transform="rotate(0 861 769)" style="mix-blend-mode:screen"/>
<ellipse cx="626" cy="769" rx="20" ry="15" fill="#f00" fill-opacity="0.35" transform="rotate(0 626 769)" style="mix-blend-mode:screen"/>
<ellipse cx="756" cy="899" rx="25" ry="15" fill="#f00" fill-opacity="0.5" transform="rotate(0 756 899)" style="mix-blend-mode:screen"/>
<ellipse cx="736" cy="949" rx="25" ry="25" fill="#f00" fill-opacity="0.65" transform="rotate(0 736 949)" style="mix-blend-mode:screen"/>
<ellipse cx="791" cy="939" rx="22" ry="20" fill="#f00" fill-opacity="0.5" transform="rotate(0 791 939)" style="mix-blend-mode:screen"/>
<ellipse cx="756" cy="924" rx="15" ry="15" fill="#f00" fill-opacity="0.35" transform="rotate(0 756 924)" style="mix-blend-mode:screen"/>
<ellipse cx="774.8" cy="874.4" rx="9.5" ry="9" fill="#0f0" fill-opacity="1" transform="rotate(0 774.8 874.4)" style="mix-blend-mode:screen"/>
<ellipse cx="724" cy="951.6" rx="10" ry="10.5" fill="#0f0" fill-opacity="1" transform="rotate(0 724 951.6)" style="mix-blend-mode:screen"/>
<ellipse cx="835" cy="915.4" rx="8" ry="6" fill="#0f0" fill-opacity="0.8" transform="rotate(0 835 915.4)" style="mix-blend-mode:screen"/>
<ellipse cx="824.3" cy="975.7" rx="3" ry="5" fill="#0f0" fill-opacity="0.75" transform="rotate(0 824.3 975.7)" style="mix-blend-mode:screen"/>
<ellipse cx="656" cy="874" rx="3" ry="3" fill="#0f0" fill-opacity="0.55" transform="rotate(0 656 874)" style="mix-blend-mode:screen"/>
<ellipse cx="806" cy="914" rx="4" ry="3" fill="#0f0" fill-opacity="0.55" transform="rotate(0 806 914)" style="mix-blend-mode:screen"/>
</g></g>
<g filter="url(#hmba)"><rect x="886" y="749" width="273" height="258" fill="#000"/>
<g style="isolation:isolate">
<ellipse cx="956" cy="869" rx="70" ry="65" fill="#f00" fill-opacity="0.6" transform="rotate(0 956 869)" style="mix-blend-mode:screen"/>
<ellipse cx="1036" cy="854" rx="50" ry="45" fill="#f00" fill-opacity="0.6" transform="rotate(0 1036 854)" style="mix-blend-mode:screen"/>
<ellipse cx="956" cy="949" rx="60" ry="40" fill="#f00" fill-opacity="0.55" transform="rotate(0 956 949)" style="mix-blend-mode:screen"/>
<ellipse cx="1106" cy="949" rx="60" ry="50" fill="#f00" fill-opacity="0.6" transform="rotate(0 1106 949)" style="mix-blend-mode:screen"/>
<ellipse cx="1026" cy="979" rx="40" ry="25" fill="#f00" fill-opacity="0.45" transform="rotate(0 1026 979)" style="mix-blend-mode:screen"/>
<ellipse cx="916" cy="779" rx="35" ry="25" fill="#f00" fill-opacity="0.3" transform="rotate(0 916 779)" style="mix-blend-mode:screen"/>
<ellipse cx="1051" cy="774" rx="12" ry="12" fill="#f00" fill-opacity="0.6" transform="rotate(0 1051 774)" style="mix-blend-mode:screen"/>
<ellipse cx="1136" cy="869" rx="30" ry="40" fill="#f00" fill-opacity="0.45" transform="rotate(0 1136 869)" style="mix-blend-mode:screen"/>
<ellipse cx="956" cy="794" rx="50" ry="20" fill="#f00" fill-opacity="0.3" transform="rotate(0 956 794)" style="mix-blend-mode:screen"/>
<ellipse cx="1036" cy="914" rx="30" ry="25" fill="#f00" fill-opacity="0.4" transform="rotate(0 1036 914)" style="mix-blend-mode:screen"/>
<ellipse cx="986" cy="899" rx="30" ry="30" fill="#f00" fill-opacity="0.5" transform="rotate(0 986 899)" style="mix-blend-mode:screen"/>
<ellipse cx="970" cy="840.6" rx="5" ry="7" fill="#0f0" fill-opacity="0.5" transform="rotate(-30 970 840.6)" style="mix-blend-mode:screen"/>
<ellipse cx="1030.7" cy="880.4" rx="5" ry="4" fill="#0f0" fill-opacity="0.4" transform="rotate(0 1030.7 880.4)" style="mix-blend-mode:screen"/>
</g></g>
<circle cx="363.2" cy="505.0" r="11.3" fill="none" stroke="#fff" stroke-width="2.7" stroke-dasharray="6.2 3.75" transform="rotate(-80 363.2 505.0)"/>
<circle cx="494.1" cy="569.3" r="11.3" fill="none" stroke="#fff" stroke-width="2.7" stroke-dasharray="6.2 3.75" transform="rotate(-80 494.1 569.3)"/>
<circle cx="556.2" cy="609.9" r="11.3" fill="none" stroke="#fff" stroke-width="2.7" stroke-dasharray="6.2 3.75" transform="rotate(-80 556.2 609.9)"/>
<circle cx="410.1" cy="615.2" r="11.3" fill="none" stroke="#fff" stroke-width="2.7" stroke-dasharray="6.2 3.75" transform="rotate(-80 410.1 615.2)"/>
<circle cx="530.7" cy="634.3" r="11.3" fill="none" stroke="#fff" stroke-width="2.7" stroke-dasharray="6.2 3.75" transform="rotate(-80 530.7 634.3)"/>
<circle cx="559.1" cy="634.3" r="11.3" fill="none" stroke="#fff" stroke-width="2.7" stroke-dasharray="6.2 3.75" transform="rotate(-80 559.1 634.3)"/>
<text x="385.1" y="508.8" font-size="21.5" fill="#fff">3</text>
<text x="516.5" y="558.4" font-size="21.5" fill="#fff">5</text>
<text x="568.1" y="591.7" font-size="21.5" fill="#fff">6</text>
<text x="379.7" y="647.7" font-size="21.5" fill="#fff">2</text>
<text x="510.4" y="671.2" font-size="21.5" fill="#fff">1</text>
<text x="560.3" y="671.2" font-size="21.5" fill="#fff">4</text>
<circle cx="641.1" cy="504.6" r="11.3" fill="none" stroke="#fff" stroke-width="2.7" stroke-dasharray="6.2 3.75" transform="rotate(-80 641.1 504.6)"/>
<circle cx="772.0" cy="568.9" r="11.3" fill="none" stroke="#fff" stroke-width="2.7" stroke-dasharray="6.2 3.75" transform="rotate(-80 772.0 568.9)"/>
<circle cx="834.1" cy="609.5" r="11.3" fill="none" stroke="#fff" stroke-width="2.7" stroke-dasharray="6.2 3.75" transform="rotate(-80 834.1 609.5)"/>
<circle cx="688.0" cy="614.8" r="11.3" fill="none" stroke="#fff" stroke-width="2.7" stroke-dasharray="6.2 3.75" transform="rotate(-80 688.0 614.8)"/>
<circle cx="808.6" cy="633.9" r="11.3" fill="none" stroke="#fff" stroke-width="2.7" stroke-dasharray="6.2 3.75" transform="rotate(-80 808.6 633.9)"/>
<circle cx="837.0" cy="633.9" r="11.3" fill="none" stroke="#fff" stroke-width="2.7" stroke-dasharray="6.2 3.75" transform="rotate(-80 837.0 633.9)"/>
<text x="663.0" y="508.4" font-size="21.5" fill="#fff">3</text>
<text x="794.4" y="558.0" font-size="21.5" fill="#fff">5</text>
<text x="846.0" y="591.3" font-size="21.5" fill="#fff">6</text>
<text x="657.6" y="647.3" font-size="21.5" fill="#fff">2</text>
<text x="788.3" y="670.8" font-size="21.5" fill="#fff">1</text>
<text x="838.2" y="670.8" font-size="21.5" fill="#fff">4</text>
<circle cx="363.2" cy="810.4" r="11.3" fill="none" stroke="#fff" stroke-width="2.7" stroke-dasharray="6.2 3.75" transform="rotate(-80 363.2 810.4)"/>
<circle cx="494.1" cy="874.7" r="11.3" fill="none" stroke="#fff" stroke-width="2.7" stroke-dasharray="6.2 3.75" transform="rotate(-80 494.1 874.7)"/>
<circle cx="556.2" cy="915.3" r="11.3" fill="none" stroke="#fff" stroke-width="2.7" stroke-dasharray="6.2 3.75" transform="rotate(-80 556.2 915.3)"/>
<circle cx="410.1" cy="920.6" r="11.3" fill="none" stroke="#fff" stroke-width="2.7" stroke-dasharray="6.2 3.75" transform="rotate(-80 410.1 920.6)"/>
<circle cx="530.7" cy="939.7" r="11.3" fill="none" stroke="#fff" stroke-width="2.7" stroke-dasharray="6.2 3.75" transform="rotate(-80 530.7 939.7)"/>
<circle cx="559.1" cy="939.7" r="11.3" fill="none" stroke="#fff" stroke-width="2.7" stroke-dasharray="6.2 3.75" transform="rotate(-80 559.1 939.7)"/>
<text x="385.1" y="814.2" font-size="21.5" fill="#fff">3</text>
<text x="516.5" y="863.8" font-size="21.5" fill="#fff">5</text>
<text x="568.1" y="897.1" font-size="21.5" fill="#fff">6</text>
<text x="379.7" y="953.1" font-size="21.5" fill="#fff">2</text>
<text x="510.4" y="976.6" font-size="21.5" fill="#fff">1</text>
<text x="560.3" y="976.6" font-size="21.5" fill="#fff">4</text>
<circle cx="643.1" cy="810.2" r="11.3" fill="none" stroke="#fff" stroke-width="2.7" stroke-dasharray="6.2 3.75" transform="rotate(-80 643.1 810.2)"/>
<circle cx="774.0" cy="874.5" r="11.3" fill="none" stroke="#fff" stroke-width="2.7" stroke-dasharray="6.2 3.75" transform="rotate(-80 774.0 874.5)"/>
<circle cx="836.1" cy="915.1" r="11.3" fill="none" stroke="#fff" stroke-width="2.7" stroke-dasharray="6.2 3.75" transform="rotate(-80 836.1 915.1)"/>
<circle cx="690.0" cy="920.4" r="11.3" fill="none" stroke="#fff" stroke-width="2.7" stroke-dasharray="6.2 3.75" transform="rotate(-80 690.0 920.4)"/>
<circle cx="810.6" cy="939.5" r="11.3" fill="none" stroke="#fff" stroke-width="2.7" stroke-dasharray="6.2 3.75" transform="rotate(-80 810.6 939.5)"/>
<circle cx="839.0" cy="939.5" r="11.3" fill="none" stroke="#fff" stroke-width="2.7" stroke-dasharray="6.2 3.75" transform="rotate(-80 839.0 939.5)"/>
<text x="665.0" y="814.0" font-size="21.5" fill="#fff">3</text>
<text x="796.4" y="863.6" font-size="21.5" fill="#fff">5</text>
<text x="848.0" y="896.9" font-size="21.5" fill="#fff">6</text>
<text x="659.6" y="952.9" font-size="21.5" fill="#fff">2</text>
<text x="790.3" y="976.4" font-size="21.5" fill="#fff">1</text>
<text x="840.2" y="976.4" font-size="21.5" fill="#fff">4</text>
<rect x="1091.1" y="447.6" width="64.6" height="102.9" fill="#fff"/>
<rect x="1099" y="473.9" width="21.9" height="72.7" fill="url(#jetbar)"/>
<text x="1095.0" y="464.7" font-size="18.8">ΔF/F</text>
<text x="1123.1" y="487.7" font-size="18.8">0.5</text>
<text x="1132.6" y="545.5" font-size="18.8">0</text>
<text x="1137.1" y="469.7" font-size="11.6">0</text>
<rect x="1092.7" y="751.7" width="64.4" height="103.1" fill="#fff"/>
<rect x="1100" y="777.8" width="23.1" height="73.3" fill="url(#jetbar)"/>
<text x="1096.4" y="768.9" font-size="18.8">ΔF/F</text>
<text x="1124.6" y="791.4" font-size="18.8">2.0</text>
<text x="1123.0" y="850.1" font-size="18.8">-0.1</text>
<text x="1138.8" y="773.6" font-size="11.6">0</text>
<rect x="1302.8" y="459.6" width="75.3" height="586" fill="#ededed"/>
<path d="M1269.8,490.8 L1271.0,491.5 L1272.3,493.1 L1273.5,489.9 L1274.8,491.3 L1276.0,491.7 L1277.3,489.5 L1278.5,492.2 L1279.8,492.0 L1281.0,492.6 L1282.3,488.8 L1283.5,491.6 L1284.8,490.1 L1286.0,494.2 L1287.3,491.9 L1288.5,489.0 L1289.8,495.3 L1291.0,493.0 L1292.3,491.5 L1293.5,492.1 L1294.8,490.0 L1296.0,490.3 L1297.3,493.0 L1298.5,489.2 L1299.8,490.9 L1301.0,489.9 L1302.3,484.0 L1303.5,495.3 L1304.8,488.9 L1306.0,498.6 L1307.3,485.2 L1308.5,491.7 L1309.8,486.3 L1311.0,491.5 L1312.3,484.0 L1313.5,481.7 L1314.8,500.8 L1316.0,491.6 L1317.3,487.5 L1318.5,485.7 L1319.8,477.5 L1321.0,479.7 L1322.3,481.8 L1323.5,475.5 L1324.8,494.1 L1326.0,476.8 L1327.3,491.2 L1328.5,474.8 L1329.8,493.1 L1331.0,483.4 L1332.3,464.6 L1333.5,478.9 L1334.8,492.3 L1336.0,473.6 L1337.3,490.0 L1338.5,470.3 L1339.8,469.1 L1341.0,485.2 L1342.3,481.8 L1343.5,468.1 L1344.8,469.3 L1346.0,477.0 L1347.3,488.7 L1348.5,477.1 L1349.8,465.2 L1351.0,475.5 L1352.3,471.0 L1353.5,471.9 L1354.8,489.0 L1356.0,467.2 L1357.3,482.7 L1358.5,476.2 L1359.8,472.0 L1361.0,486.8 L1362.3,468.2 L1363.5,485.7 L1364.8,469.5 L1366.0,481.7 L1367.3,474.9 L1368.5,478.6 L1369.8,492.4 L1371.0,482.6 L1372.3,475.1 L1373.5,491.4 L1374.8,473.8 L1376.0,484.0 L1377.3,491.1 L1378.5,483.5 L1379.8,476.5 L1381.0,495.8 L1382.3,476.8 L1383.5,483.9 L1384.8,491.1 L1386.0,481.8 L1387.3,484.7 L1388.5,482.6 L1389.8,484.6 L1391.0,490.1 L1392.3,484.4 L1393.5,489.7 L1394.8,486.5 L1396.0,488.2 L1397.3,492.0 L1398.5,486.4 L1399.8,489.0 L1401.0,490.9 L1402.3,485.0 L1403.5,487.4 L1404.8,492.7 L1406.0,489.6 L1407.3,486.3 L1408.5,487.9 L1409.8,491.6 L1411.0,491.2 L1412.3,486.2 L1413.5,493.1 L1414.8,490.5 L1416.0,489.2 L1417.3,489.0 L1418.5,487.7 L1419.8,488.4 L1421.0,494.2 L1422.3,487.1 L1423.5,492.1 L1424.8,488.1 L1426.0,492.9 L1427.3,489.8 L1428.5,488.7 L1429.8,489.0 L1431.0,492.6 L1432.3,487.1 L1433.5,490.1 L1434.8,491.6 L1436.0,492.4 L1437.3,490.1 L1438.5,488.9 L1439.8,493.8 L1441.0,487.6 L1442.3,488.6 L1443.5,490.8 L1444.8,491.1 L1446.0,488.3 L1447.3,490.2 L1448.5,491.0 L1449.8,491.7 L1451.0,488.5 L1452.3,491.2 L1453.5,484.0" fill="none" stroke="#3ea33e" stroke-width="1.15" stroke-linejoin="round"/>
<path d="M1269.8,513.4 L1271.1,514.0 L1272.4,513.8 L1273.7,512.2 L1275.0,512.6 L1276.3,513.9 L1277.6,513.0 L1278.9,514.8 L1280.2,513.6 L1281.5,513.5 L1282.8,513.5 L1284.1,513.9 L1285.4,512.2 L1286.7,513.9 L1288.0,512.6 L1289.3,515.2 L1290.6,511.6 L1291.9,515.1 L1293.2,511.7 L1294.5,514.7 L1295.8,512.7 L1297.1,513.5 L1298.4,511.5 L1299.7,512.9 L1301.0,514.8 L1302.3,517.6 L1303.6,515.8 L1304.9,515.8 L1306.2,519.0 L1307.5,518.3 L1308.8,517.1 L1310.1,519.0 L1311.4,518.2 L1312.7,518.8 L1314.0,519.3 L1315.3,518.1 L1316.6,519.6 L1317.9,517.8 L1319.2,518.7 L1320.5,519.8 L1321.8,518.4 L1323.1,518.9 L1324.4,519.2 L1325.7,518.8 L1327.0,518.8 L1328.3,518.2 L1329.6,519.9 L1330.9,519.7 L1332.2,519.5 L1333.5,518.9 L1334.8,518.6 L1336.1,518.9 L1337.4,519.6 L1338.7,519.2 L1340.0,518.2 L1341.3,519.0 L1342.6,519.1 L1343.9,519.3 L1345.2,519.7 L1346.5,518.9 L1347.8,518.3 L1349.1,520.3 L1350.4,518.8 L1351.7,519.3 L1353.0,518.7 L1354.3,519.4 L1355.6,519.1 L1356.9,519.9 L1358.2,518.3 L1359.5,519.8 L1360.8,518.7 L1362.1,520.0 L1363.4,518.3 L1364.7,519.4 L1366.0,519.3 L1367.3,519.8 L1368.6,518.4 L1369.9,519.8 L1371.2,518.9 L1372.5,519.3 L1373.8,519.6 L1375.1,520.4 L1376.4,519.0 L1377.7,520.4 L1379.0,518.4 L1380.3,520.7 L1381.6,518.9 L1382.9,519.1 L1384.2,520.3 L1385.5,520.1 L1386.8,518.2 L1388.1,519.6 L1389.4,520.4 L1390.7,519.1 L1392.0,519.3 L1393.3,519.0 L1394.6,519.3 L1395.9,520.4 L1397.2,520.5 L1398.5,520.2 L1399.8,519.3 L1401.1,518.8 L1402.4,519.9 L1403.7,520.5 L1405.0,520.1 L1406.3,519.7 L1407.6,519.2 L1408.9,520.1 L1410.2,519.8 L1411.5,520.1 L1412.8,519.3 L1414.1,521.0 L1415.4,520.2 L1416.7,518.9 L1418.0,519.8 L1419.3,520.9 L1420.6,519.2 L1421.9,521.0 L1423.2,519.6 L1424.5,520.4 L1425.8,520.2 L1427.1,519.3 L1428.4,519.9 L1429.7,519.8 L1431.0,520.6 L1432.3,520.3 L1433.6,519.2 L1434.9,521.2 L1436.2,519.6 L1437.5,519.7 L1438.8,520.3 L1440.1,521.1 L1441.4,519.8 L1442.7,520.4 L1444.0,520.9 L1445.3,520.7 L1446.6,520.3 L1447.9,519.8 L1449.2,520.5 L1450.5,521.0 L1451.8,520.4 L1453.1,520.2" fill="none" stroke="#d42a2a" stroke-width="1" stroke-linejoin="round"/>
<path d="M1269.8,588.0 L1271.1,592.4 L1272.4,590.6 L1273.7,590.0 L1275.0,588.9 L1276.3,593.7 L1277.6,592.1 L1278.9,590.2 L1280.2,591.4 L1281.5,589.7 L1282.8,589.2 L1284.1,592.7 L1285.4,593.2 L1286.7,589.0 L1288.0,596.6 L1289.3,590.1 L1290.6,592.5 L1291.9,591.4 L1293.2,599.9 L1294.5,594.6 L1295.8,597.0 L1297.1,594.8 L1298.4,591.5 L1299.7,596.6 L1301.0,597.2 L1302.3,592.8 L1303.6,603.9 L1304.9,592.3 L1306.2,592.7 L1307.5,600.7 L1308.8,588.9 L1310.1,601.1 L1311.4,591.0 L1312.7,594.2 L1314.0,590.8 L1315.3,593.0 L1316.6,588.5 L1317.9,588.0 L1319.2,597.4 L1320.5,585.4 L1321.8,594.4 L1323.1,584.6 L1324.4,595.7 L1325.7,590.2 L1327.0,588.6 L1328.3,588.9 L1329.6,586.4 L1330.9,588.5 L1332.2,580.5 L1333.5,587.3 L1334.8,588.7 L1336.1,579.4 L1337.4,590.3 L1338.7,585.4 L1340.0,579.9 L1341.3,581.5 L1342.6,582.2 L1343.9,580.5 L1345.2,587.0 L1346.5,576.4 L1347.8,575.3 L1349.1,577.5 L1350.4,583.5 L1351.7,582.5 L1353.0,575.0 L1354.3,577.2 L1355.6,577.4 L1356.9,578.7 L1358.2,571.3 L1359.5,577.9 L1360.8,575.1 L1362.1,576.3 L1363.4,571.2 L1364.7,573.6 L1366.0,575.8 L1367.3,581.3 L1368.6,571.9 L1369.9,578.0 L1371.2,573.6 L1372.5,573.1 L1373.8,573.9 L1375.1,582.5 L1376.4,578.1 L1377.7,568.0 L1379.0,579.9 L1380.3,578.3 L1381.6,580.9 L1382.9,580.6 L1384.2,574.8 L1385.5,583.8 L1386.8,580.7 L1388.1,577.5 L1389.4,582.3 L1390.7,577.4 L1392.0,578.4 L1393.3,578.0 L1394.6,584.5 L1395.9,575.6 L1397.2,578.2 L1398.5,585.1 L1399.8,582.0 L1401.1,580.0 L1402.4,584.4 L1403.7,577.1 L1405.0,582.1 L1406.3,581.9 L1407.6,583.1 L1408.9,581.1 L1410.2,581.7 L1411.5,584.2 L1412.8,587.5 L1414.1,586.4 L1415.4,584.9 L1416.7,584.3 L1418.0,584.0 L1419.3,589.4 L1420.6,584.8 L1421.9,587.5 L1423.2,582.8 L1424.5,586.2 L1425.8,589.4 L1427.1,587.5 L1428.4,588.2 L1429.7,586.5 L1431.0,586.4 L1432.3,587.9 L1433.6,589.1 L1434.9,585.5 L1436.2,588.4 L1437.5,586.5 L1438.8,590.0 L1440.1,584.7 L1441.4,590.5 L1442.7,590.3 L1444.0,584.8 L1445.3,590.4 L1446.6,589.3 L1447.9,590.3 L1449.2,588.6 L1450.5,587.7 L1451.8,589.4 L1453.1,591.9" fill="none" stroke="#3ea33e" stroke-width="1.15" stroke-linejoin="round"/>
<path d="M1269.8,621.4 L1271.1,618.7 L1272.4,619.3 L1273.7,621.8 L1275.0,618.5 L1276.3,619.2 L1277.6,620.5 L1278.9,619.0 L1280.2,620.6 L1281.5,618.2 L1282.8,620.7 L1284.1,618.1 L1285.4,619.3 L1286.7,619.1 L1288.0,617.4 L1289.3,617.7 L1290.6,616.2 L1291.9,614.2 L1293.2,617.4 L1294.5,616.2 L1295.8,616.3 L1297.1,616.8 L1298.4,619.1 L1299.7,618.1 L1301.0,619.8 L1302.3,619.4 L1303.6,620.3 L1304.9,619.1 L1306.2,619.9 L1307.5,619.6 L1308.8,618.8 L1310.1,621.0 L1311.4,618.5 L1312.7,620.5 L1314.0,620.4 L1315.3,619.4 L1316.6,618.5 L1317.9,620.8 L1319.2,619.6 L1320.5,618.6 L1321.8,618.9 L1323.1,620.3 L1324.4,618.4 L1325.7,621.3 L1327.0,619.1 L1328.3,619.7 L1329.6,619.4 L1330.9,620.2 L1332.2,620.5 L1333.5,618.7 L1334.8,619.6 L1336.1,620.1 L1337.4,619.1 L1338.7,620.2 L1340.0,619.7 L1341.3,619.5 L1342.6,620.3 L1343.9,619.6 L1345.2,618.7 L1346.5,621.5 L1347.8,618.8 L1349.1,619.8 L1350.4,619.7 L1351.7,621.0 L1353.0,620.4 L1354.3,619.3 L1355.6,619.6 L1356.9,619.0 L1358.2,621.3 L1359.5,618.6 L1360.8,620.4 L1362.1,619.5 L1363.4,619.7 L1364.7,619.8 L1366.0,619.3 L1367.3,619.2 L1368.6,620.6 L1369.9,620.6 L1371.2,620.0 L1372.5,619.0 L1373.8,620.8 L1375.1,618.6 L1376.4,620.3 L1377.7,620.9 L1379.0,620.6 L1380.3,619.4 L1381.6,620.9 L1382.9,619.6 L1384.2,620.1 L1385.5,620.2 L1386.8,621.2 L1388.1,620.1 L1389.4,619.7 L1390.7,620.7 L1392.0,620.2 L1393.3,619.6 L1394.6,621.0 L1395.9,620.6 L1397.2,620.0 L1398.5,621.1 L1399.8,618.4 L1401.1,620.7 L1402.4,620.5 L1403.7,619.6 L1405.0,619.6 L1406.3,621.1 L1407.6,619.8 L1408.9,619.7 L1410.2,619.4 L1411.5,621.9 L1412.8,619.3 L1414.1,619.5 L1415.4,620.0 L1416.7,620.0 L1418.0,621.5 L1419.3,619.0 L1420.6,620.1 L1421.9,619.6 L1423.2,620.7 L1424.5,619.6 L1425.8,620.3 L1427.1,621.1 L1428.4,621.1 L1429.7,620.6 L1431.0,618.8 L1432.3,620.6 L1433.6,621.4 L1434.9,618.8 L1436.2,620.2 L1437.5,620.7 L1438.8,620.1 L1440.1,621.2 L1441.4,620.6 L1442.7,620.1 L1444.0,619.9 L1445.3,620.1 L1446.6,620.2 L1447.9,619.7 L1449.2,621.4 L1450.5,619.4 L1451.8,621.9 L1453.1,620.4" fill="none" stroke="#d42a2a" stroke-width="1" stroke-linejoin="round"/>
<path d="M1269.8,694.0 L1271.1,696.5 L1272.4,698.1 L1273.7,699.2 L1275.0,694.2 L1276.3,696.0 L1277.6,696.9 L1278.9,700.3 L1280.2,694.0 L1281.5,700.5 L1282.8,697.8 L1284.1,694.3 L1285.4,699.0 L1286.7,696.9 L1288.0,697.0 L1289.3,701.4 L1290.6,692.7 L1291.9,695.4 L1293.2,702.4 L1294.5,695.1 L1295.8,695.6 L1297.1,697.3 L1298.4,697.1 L1299.7,701.2 L1301.0,693.6 L1302.3,696.4 L1303.6,699.1 L1304.9,697.4 L1306.2,700.6 L1307.5,698.2 L1308.8,695.1 L1310.1,695.7 L1311.4,701.0 L1312.7,699.7 L1314.0,692.1 L1315.3,700.8 L1316.6,699.2 L1317.9,697.1 L1319.2,694.7 L1320.5,700.6 L1321.8,698.0 L1323.1,694.2 L1324.4,699.5 L1325.7,694.7 L1327.0,695.0 L1328.3,697.8 L1329.6,696.7 L1330.9,697.2 L1332.2,698.8 L1333.5,699.3 L1334.8,699.5 L1336.1,699.2 L1337.4,699.2 L1338.7,697.6 L1340.0,694.8 L1341.3,695.6 L1342.6,699.4 L1343.9,697.2 L1345.2,698.4 L1346.5,693.6 L1347.8,696.5 L1349.1,701.6 L1350.4,696.5 L1351.7,698.4 L1353.0,693.5 L1354.3,698.0 L1355.6,700.8 L1356.9,696.8 L1358.2,700.4 L1359.5,693.1 L1360.8,698.1 L1362.1,699.7 L1363.4,695.7 L1364.7,699.7 L1366.0,696.6 L1367.3,694.1 L1368.6,695.6 L1369.9,702.5 L1371.2,692.5 L1372.5,696.3 L1373.8,697.1 L1375.1,699.5 L1376.4,699.1 L1377.7,695.7 L1379.0,697.3 L1380.3,699.4 L1381.6,694.5 L1382.9,697.1 L1384.2,698.5 L1385.5,697.8 L1386.8,693.5 L1388.1,696.1 L1389.4,696.0 L1390.7,699.9 L1392.0,697.7 L1393.3,699.6 L1394.6,697.4 L1395.9,694.7 L1397.2,699.6 L1398.5,699.3 L1399.8,694.8 L1401.1,694.6 L1402.4,697.9 L1403.7,696.2 L1405.0,695.8 L1406.3,695.3 L1407.6,687.0 L1408.9,700.5 L1410.2,693.2 L1411.5,688.0 L1412.8,694.9 L1414.1,696.1 L1415.4,700.1 L1416.7,694.8 L1418.0,695.7 L1419.3,697.8 L1420.6,698.5 L1421.9,696.6 L1423.2,699.3 L1424.5,695.3 L1425.8,697.5 L1427.1,698.4 L1428.4,696.1 L1429.7,698.6 L1431.0,696.1 L1432.3,694.8 L1433.6,695.8 L1434.9,700.2 L1436.2,697.7 L1437.5,699.2 L1438.8,696.8 L1440.1,696.9 L1441.4,694.5 L1442.7,700.5 L1444.0,693.3 L1445.3,697.8 L1446.6,694.8 L1447.9,697.4 L1449.2,696.1 L1450.5,697.2 L1451.8,698.7 L1453.1,686.0" fill="none" stroke="#3ea33e" stroke-width="1.15" stroke-linejoin="round"/>
<path d="M1269.8,717.9 L1271.1,719.1 L1272.4,719.1 L1273.7,721.0 L1275.0,718.6 L1276.3,720.0 L1277.6,717.6 L1278.9,720.0 L1280.2,720.4 L1281.5,718.8 L1282.8,720.8 L1284.1,719.9 L1285.4,718.3 L1286.7,717.9 L1288.0,721.0 L1289.3,717.7 L1290.6,718.4 L1291.9,720.9 L1293.2,720.1 L1294.5,719.9 L1295.8,720.3 L1297.1,717.7 L1298.4,718.5 L1299.7,718.8 L1301.0,721.6 L1302.3,717.3 L1303.6,718.9 L1304.9,718.4 L1306.2,718.7 L1307.5,718.6 L1308.8,719.7 L1310.1,718.6 L1311.4,719.3 L1312.7,721.1 L1314.0,717.7 L1315.3,721.0 L1316.6,719.7 L1317.9,719.3 L1319.2,719.6 L1320.5,720.2 L1321.8,719.3 L1323.1,718.4 L1324.4,719.3 L1325.7,718.9 L1327.0,719.5 L1328.3,721.2 L1329.6,718.4 L1330.9,718.2 L1332.2,720.1 L1333.5,720.5 L1334.8,718.8 L1336.1,720.2 L1337.4,717.9 L1338.7,718.7 L1340.0,720.7 L1341.3,717.8 L1342.6,719.6 L1343.9,719.4 L1345.2,718.7 L1346.5,718.5 L1347.8,718.7 L1349.1,721.7 L1350.4,719.4 L1351.7,720.7 L1353.0,718.8 L1354.3,721.0 L1355.6,720.0 L1356.9,719.3 L1358.2,719.4 L1359.5,719.5 L1360.8,718.7 L1362.1,719.6 L1363.4,720.5 L1364.7,718.2 L1366.0,721.1 L1367.3,719.0 L1368.6,719.9 L1369.9,720.4 L1371.2,719.5 L1372.5,718.2 L1373.8,719.4 L1375.1,718.4 L1376.4,718.9 L1377.7,721.8 L1379.0,719.2 L1380.3,720.9 L1381.6,719.7 L1382.9,718.6 L1384.2,721.4 L1385.5,720.2 L1386.8,718.8 L1388.1,718.4 L1389.4,719.7 L1390.7,718.9 L1392.0,719.7 L1393.3,718.5 L1394.6,721.0 L1395.9,720.8 L1397.2,718.0 L1398.5,721.0 L1399.8,719.5 L1401.1,719.5 L1402.4,721.0 L1403.7,718.7 L1405.0,720.9 L1406.3,717.7 L1407.6,721.8 L1408.9,718.0 L1410.2,718.6 L1411.5,721.6 L1412.8,719.8 L1414.1,719.9 L1415.4,720.2 L1416.7,718.9 L1418.0,718.7 L1419.3,719.7 L1420.6,721.4 L1421.9,720.5 L1423.2,718.1 L1424.5,720.0 L1425.8,719.7 L1427.1,721.0 L1428.4,717.6 L1429.7,721.5 L1431.0,718.5 L1432.3,720.3 L1433.6,718.5 L1434.9,719.0 L1436.2,721.6 L1437.5,719.2 L1438.8,721.2 L1440.1,720.2 L1441.4,720.0 L1442.7,718.1 L1444.0,720.7 L1445.3,721.1 L1446.6,719.0 L1447.9,718.5 L1449.2,719.5 L1450.5,721.7 L1451.8,720.5 L1453.1,718.3" fill="none" stroke="#d42a2a" stroke-width="1" stroke-linejoin="round"/>
<path d="M1269.8,790.9 L1271.1,790.4 L1272.4,790.4 L1273.7,794.2 L1275.0,790.6 L1276.3,792.0 L1277.6,790.9 L1278.9,790.3 L1280.2,792.5 L1281.5,790.8 L1282.8,792.2 L1284.1,790.9 L1285.4,792.1 L1286.7,789.5 L1288.0,789.0 L1289.3,789.6 L1290.6,792.7 L1291.9,788.1 L1293.2,792.1 L1294.5,790.6 L1295.8,787.6 L1297.1,793.0 L1298.4,786.8 L1299.7,793.4 L1301.0,791.5 L1302.3,783.4 L1303.6,777.0 L1304.9,789.1 L1306.2,779.4 L1307.5,793.7 L1308.8,780.8 L1310.1,798.5 L1311.4,789.0 L1312.7,795.9 L1314.0,779.1 L1315.3,791.3 L1316.6,794.4 L1317.9,792.3 L1319.2,786.1 L1320.5,801.1 L1321.8,795.3 L1323.1,787.5 L1324.4,789.8 L1325.7,799.4 L1327.0,791.3 L1328.3,797.4 L1329.6,792.8 L1330.9,792.6 L1332.2,787.7 L1333.5,792.4 L1334.8,796.5 L1336.1,798.2 L1337.4,791.6 L1338.7,798.8 L1340.0,793.3 L1341.3,800.0 L1342.6,794.1 L1343.9,790.9 L1345.2,790.7 L1346.5,791.1 L1347.8,791.3 L1349.1,803.5 L1350.4,797.7 L1351.7,795.9 L1353.0,787.7 L1354.3,800.1 L1355.6,788.8 L1356.9,803.2 L1358.2,794.7 L1359.5,797.7 L1360.8,795.1 L1362.1,793.6 L1363.4,800.7 L1364.7,799.3 L1366.0,789.1 L1367.3,796.5 L1368.6,799.1 L1369.9,796.5 L1371.2,793.4 L1372.5,795.7 L1373.8,802.1 L1375.1,790.1 L1376.4,793.7 L1377.7,800.1 L1379.0,792.2 L1380.3,801.9 L1381.6,791.9 L1382.9,801.5 L1384.2,792.6 L1385.5,800.4 L1386.8,796.6 L1388.1,797.0 L1389.4,792.7 L1390.7,794.5 L1392.0,793.6 L1393.3,795.4 L1394.6,798.8 L1395.9,791.9 L1397.2,795.8 L1398.5,797.7 L1399.8,793.1 L1401.1,796.2 L1402.4,794.7 L1403.7,798.7 L1405.0,792.5 L1406.3,801.6 L1407.6,795.0 L1408.9,797.5 L1410.2,795.8 L1411.5,796.0 L1412.8,799.9 L1414.1,797.5 L1415.4,797.2 L1416.7,791.4 L1418.0,798.7 L1419.3,799.3 L1420.6,795.7 L1421.9,795.9 L1423.2,797.4 L1424.5,793.3 L1425.8,799.2 L1427.1,797.6 L1428.4,792.1 L1429.7,798.0 L1431.0,797.0 L1432.3,794.9 L1433.6,798.2 L1434.9,798.8 L1436.2,797.8 L1437.5,793.5 L1438.8,794.6 L1440.1,800.2 L1441.4,796.0 L1442.7,798.4 L1444.0,797.9 L1445.3,793.6 L1446.6,797.8 L1447.9,794.8 L1449.2,799.2 L1450.5,796.8 L1451.8,794.0 L1453.1,797.4" fill="none" stroke="#3ea33e" stroke-width="1.15" stroke-linejoin="round"/>
<path d="M1269.8,822.8 L1271.1,820.4 L1272.4,822.3 L1273.7,821.7 L1275.0,823.6 L1276.3,822.5 L1277.6,823.4 L1278.9,820.1 L1280.2,822.8 L1281.5,820.8 L1282.8,822.2 L1284.1,822.8 L1285.4,820.6 L1286.7,822.1 L1288.0,823.4 L1289.3,822.2 L1290.6,821.3 L1291.9,823.1 L1293.2,823.3 L1294.5,820.1 L1295.8,824.3 L1297.1,822.5 L1298.4,821.4 L1299.7,821.4 L1301.0,824.5 L1302.3,821.0 L1303.6,821.2 L1304.9,821.6 L1306.2,824.2 L1307.5,822.1 L1308.8,823.2 L1310.1,822.6 L1311.4,822.1 L1312.7,823.9 L1314.0,821.1 L1315.3,822.7 L1316.6,823.4 L1317.9,822.2 L1319.2,823.4 L1320.5,822.0 L1321.8,822.9 L1323.1,820.5 L1324.4,822.2 L1325.7,822.1 L1327.0,821.3 L1328.3,822.2 L1329.6,821.5 L1330.9,822.3 L1332.2,823.2 L1333.5,821.7 L1334.8,822.2 L1336.1,821.6 L1337.4,822.1 L1338.7,824.2 L1340.0,822.1 L1341.3,822.5 L1342.6,821.1 L1343.9,823.7 L1345.2,820.9 L1346.5,822.5 L1347.8,824.2 L1349.1,822.0 L1350.4,822.3 L1351.7,822.9 L1353.0,823.2 L1354.3,822.7 L1355.6,821.0 L1356.9,821.3 L1358.2,822.6 L1359.5,821.9 L1360.8,821.8 L1362.1,824.3 L1363.4,822.9 L1364.7,821.2 L1366.0,823.2 L1367.3,821.8 L1368.6,823.9 L1369.9,821.6 L1371.2,821.7 L1372.5,822.0 L1373.8,823.0 L1375.1,821.5 L1376.4,823.1 L1377.7,823.6 L1379.0,821.4 L1380.3,821.7 L1381.6,824.5 L1382.9,821.6 L1384.2,821.1 L1385.5,821.6 L1386.8,821.9 L1388.1,823.5 L1389.4,823.2 L1390.7,821.7 L1392.0,821.2 L1393.3,822.8 L1394.6,824.2 L1395.9,821.7 L1397.2,823.9 L1398.5,822.8 L1399.8,820.3 L1401.1,823.9 L1402.4,822.7 L1403.7,822.3 L1405.0,821.6 L1406.3,823.3 L1407.6,821.0 L1408.9,822.9 L1410.2,822.4 L1411.5,824.0 L1412.8,822.9 L1414.1,821.1 L1415.4,822.8 L1416.7,821.5 L1418.0,824.3 L1419.3,823.0 L1420.6,821.3 L1421.9,823.2 L1423.2,822.6 L1424.5,821.2 L1425.8,823.8 L1427.1,822.2 L1428.4,823.3 L1429.7,822.1 L1431.0,820.9 L1432.3,822.7 L1433.6,821.3 L1434.9,824.5 L1436.2,823.0 L1437.5,822.9 L1438.8,821.4 L1440.1,821.4 L1441.4,824.3 L1442.7,823.3 L1444.0,820.5 L1445.3,823.1 L1446.6,821.2 L1447.9,823.9 L1449.2,822.9 L1450.5,821.0 L1451.8,823.0 L1453.1,822.7" fill="none" stroke="#d42a2a" stroke-width="1" stroke-linejoin="round"/>
<path d="M1269.8,872.9 L1271.1,874.9 L1272.4,872.7 L1273.7,876.9 L1275.0,872.3 L1276.3,875.5 L1277.6,876.7 L1278.9,873.1 L1280.2,877.4 L1281.5,874.8 L1282.8,874.6 L1284.1,875.5 L1285.4,875.2 L1286.7,874.2 L1288.0,878.2 L1289.3,873.5 L1290.6,878.2 L1291.9,876.0 L1293.2,872.0 L1294.5,875.5 L1295.8,876.2 L1297.1,877.5 L1298.4,873.2 L1299.7,877.4 L1301.0,874.0 L1302.3,881.7 L1303.6,881.7 L1304.9,877.4 L1306.2,868.2 L1307.5,884.8 L1308.8,873.4 L1310.1,867.0 L1311.4,873.6 L1312.7,868.0 L1314.0,883.3 L1315.3,880.0 L1316.6,883.4 L1317.9,885.1 L1319.2,882.6 L1320.5,878.9 L1321.8,897.6 L1323.1,885.8 L1324.4,886.4 L1325.7,893.4 L1327.0,891.8 L1328.3,890.4 L1329.6,896.6 L1330.9,888.1 L1332.2,896.7 L1333.5,891.5 L1334.8,890.2 L1336.1,892.9 L1337.4,893.0 L1338.7,890.3 L1340.0,896.3 L1341.3,892.8 L1342.6,895.3 L1343.9,892.6 L1345.2,892.5 L1346.5,893.9 L1347.8,892.3 L1349.1,890.1 L1350.4,890.0 L1351.7,890.0 L1353.0,891.9 L1354.3,891.3 L1355.6,889.8 L1356.9,889.9 L1358.2,883.2 L1359.5,889.1 L1360.8,884.6 L1362.1,889.5 L1363.4,887.1 L1364.7,886.7 L1366.0,888.8 L1367.3,882.2 L1368.6,888.4 L1369.9,884.9 L1371.2,882.1 L1372.5,889.5 L1373.8,878.5 L1375.1,885.3 L1376.4,883.9 L1377.7,883.7 L1379.0,886.2 L1380.3,881.1 L1381.6,884.8 L1382.9,879.3 L1384.2,882.2 L1385.5,879.4 L1386.8,882.8 L1388.1,880.1 L1389.4,882.0 L1390.7,878.1 L1392.0,880.7 L1393.3,881.4 L1394.6,875.9 L1395.9,880.1 L1397.2,878.2 L1398.5,877.8 L1399.8,876.4 L1401.1,876.0 L1402.4,877.6 L1403.7,873.1 L1405.0,875.9 L1406.3,874.2 L1407.6,874.0 L1408.9,872.2 L1410.2,870.1 L1411.5,874.1 L1412.8,869.8 L1414.1,873.3 L1415.4,873.1 L1416.7,871.7 L1418.0,870.4 L1419.3,873.4 L1420.6,870.1 L1421.9,870.9 L1423.2,872.3 L1424.5,872.1 L1425.8,872.0 L1427.1,871.3 L1428.4,870.9 L1429.7,872.9 L1431.0,870.0 L1432.3,872.5 L1433.6,868.7 L1434.9,870.9 L1436.2,874.3 L1437.5,869.1 L1438.8,871.8 L1440.1,869.4 L1441.4,874.1 L1442.7,869.9 L1444.0,869.6 L1445.3,871.5 L1446.6,874.4 L1447.9,871.7 L1449.2,868.1 L1450.5,875.3 L1451.8,867.9 L1453.1,872.6" fill="none" stroke="#3ea33e" stroke-width="1.15" stroke-linejoin="round"/>
<path d="M1269.8,924.7 L1271.1,920.6 L1272.4,924.6 L1273.7,922.6 L1275.0,924.7 L1276.3,922.0 L1277.6,924.8 L1278.9,921.2 L1280.2,925.5 L1281.5,922.0 L1282.8,922.2 L1284.1,923.2 L1285.4,924.0 L1286.7,921.4 L1288.0,923.7 L1289.3,921.8 L1290.6,922.7 L1291.9,922.9 L1293.2,923.0 L1294.5,923.1 L1295.8,924.8 L1297.1,922.6 L1298.4,924.9 L1299.7,924.2 L1301.0,924.2 L1302.3,924.3 L1303.6,921.2 L1304.9,921.2 L1306.2,920.8 L1307.5,917.0 L1308.8,914.1 L1310.1,916.5 L1311.4,914.0 L1312.7,910.2 L1314.0,909.5 L1315.3,909.1 L1316.6,910.9 L1317.9,908.6 L1319.2,905.8 L1320.5,898.0 L1321.8,899.3 L1323.1,901.0 L1324.4,906.6 L1325.7,904.4 L1327.0,905.4 L1328.3,904.6 L1329.6,906.2 L1330.9,907.2 L1332.2,906.8 L1333.5,910.4 L1334.8,906.9 L1336.1,909.8 L1337.4,908.3 L1338.7,909.7 L1340.0,910.8 L1341.3,910.5 L1342.6,906.2 L1343.9,914.1 L1345.2,910.8 L1346.5,911.1 L1347.8,908.8 L1349.1,913.7 L1350.4,911.2 L1351.7,907.9 L1353.0,913.1 L1354.3,912.9 L1355.6,911.8 L1356.9,913.3 L1358.2,910.4 L1359.5,912.8 L1360.8,908.4 L1362.1,914.7 L1363.4,909.3 L1364.7,915.2 L1366.0,914.6 L1367.3,910.5 L1368.6,910.4 L1369.9,911.4 L1371.2,914.9 L1372.5,911.0 L1373.8,916.4 L1375.1,913.7 L1376.4,913.5 L1377.7,906.0 L1379.0,906.0 L1380.3,912.1 L1381.6,911.1 L1382.9,917.6 L1384.2,919.9 L1385.5,917.6 L1386.8,921.7 L1388.1,921.7 L1389.4,918.5 L1390.7,919.4 L1392.0,919.8 L1393.3,921.9 L1394.6,918.2 L1395.9,922.1 L1397.2,919.0 L1398.5,921.7 L1399.8,921.4 L1401.1,921.0 L1402.4,918.8 L1403.7,921.3 L1405.0,919.8 L1406.3,922.3 L1407.6,919.3 L1408.9,919.9 L1410.2,921.0 L1411.5,919.5 L1412.8,920.6 L1414.1,922.1 L1415.4,919.9 L1416.7,920.1 L1418.0,923.1 L1419.3,919.4 L1420.6,922.5 L1421.9,921.2 L1423.2,921.0 L1424.5,921.6 L1425.8,921.2 L1427.1,922.3 L1428.4,921.3 L1429.7,920.1 L1431.0,922.3 L1432.3,921.1 L1433.6,922.9 L1434.9,919.3 L1436.2,922.0 L1437.5,923.3 L1438.8,919.2 L1440.1,923.2 L1441.4,922.7 L1442.7,921.4 L1444.0,919.9 L1445.3,923.5 L1446.6,920.5 L1447.9,922.3 L1449.2,923.0 L1450.5,920.7 L1451.8,921.4 L1453.1,921.1" fill="none" stroke="#d42a2a" stroke-width="1" stroke-linejoin="round"/>
<path d="M1269.8,980.8 L1271.1,981.1 L1272.4,982.3 L1273.7,978.9 L1275.0,980.2 L1276.3,982.2 L1277.6,980.0 L1278.9,979.8 L1280.2,980.4 L1281.5,979.8 L1282.8,979.1 L1284.1,982.1 L1285.4,982.2 L1286.7,980.3 L1288.0,980.6 L1289.3,979.1 L1290.6,980.4 L1291.9,978.5 L1293.2,982.5 L1294.5,978.4 L1295.8,979.6 L1297.1,983.3 L1298.4,977.9 L1299.7,983.1 L1301.0,979.0 L1302.3,982.6 L1303.6,975.0 L1304.9,976.4 L1306.2,987.1 L1307.5,978.5 L1308.8,984.0 L1310.1,980.4 L1311.4,982.0 L1312.7,986.7 L1314.0,981.8 L1315.3,988.5 L1316.6,992.1 L1317.9,991.8 L1319.2,986.0 L1320.5,986.5 L1321.8,991.0 L1323.1,988.1 L1324.4,991.4 L1325.7,994.9 L1327.0,993.8 L1328.3,990.0 L1329.6,996.4 L1330.9,994.7 L1332.2,995.1 L1333.5,993.8 L1334.8,996.6 L1336.1,994.4 L1337.4,998.9 L1338.7,997.3 L1340.0,997.6 L1341.3,996.9 L1342.6,1000.4 L1343.9,996.5 L1345.2,997.4 L1346.5,998.6 L1347.8,1000.8 L1349.1,996.0 L1350.4,1000.7 L1351.7,1000.1 L1353.0,999.3 L1354.3,997.7 L1355.6,998.5 L1356.9,1000.5 L1358.2,998.9 L1359.5,999.7 L1360.8,996.7 L1362.1,1000.0 L1363.4,999.7 L1364.7,997.2 L1366.0,998.2 L1367.3,1001.0 L1368.6,998.5 L1369.9,998.4 L1371.2,999.1 L1372.5,997.8 L1373.8,997.7 L1375.1,996.7 L1376.4,997.7 L1377.7,995.5 L1379.0,998.6 L1380.3,996.8 L1381.6,994.7 L1382.9,992.8 L1384.2,995.5 L1385.5,992.0 L1386.8,993.4 L1388.1,991.3 L1389.4,993.0 L1390.7,989.8 L1392.0,991.1 L1393.3,989.9 L1394.6,990.6 L1395.9,991.7 L1397.2,988.5 L1398.5,989.7 L1399.8,988.5 L1401.1,987.6 L1402.4,985.8 L1403.7,986.7 L1405.0,987.1 L1406.3,988.6 L1407.6,986.8 L1408.9,990.1 L1410.2,984.9 L1411.5,986.3 L1412.8,989.0 L1414.1,987.5 L1415.4,984.7 L1416.7,987.5 L1418.0,987.2 L1419.3,988.8 L1420.6,987.6 L1421.9,988.2 L1423.2,986.2 L1424.5,989.2 L1425.8,985.7 L1427.1,985.9 L1428.4,985.6 L1429.7,989.8 L1431.0,986.9 L1432.3,987.2 L1433.6,989.3 L1434.9,986.4 L1436.2,985.6 L1437.5,983.0 L1438.8,988.9 L1440.1,984.0 L1441.4,990.5 L1442.7,985.2 L1444.0,985.0 L1445.3,988.2 L1446.6,988.6 L1447.9,986.1 L1449.2,985.7 L1450.5,989.3 L1451.8,983.8 L1453.1,989.2" fill="none" stroke="#3ea33e" stroke-width="1.15" stroke-linejoin="round"/>
<path d="M1269.8,1025.0 L1271.1,1021.5 L1272.4,1025.7 L1273.7,1021.7 L1275.0,1023.8 L1276.3,1024.9 L1277.6,1022.2 L1278.9,1023.6 L1280.2,1022.1 L1281.5,1025.6 L1282.8,1024.2 L1284.1,1021.2 L1285.4,1022.5 L1286.7,1023.8 L1288.0,1023.3 L1289.3,1024.1 L1290.6,1022.1 L1291.9,1023.8 L1293.2,1021.8 L1294.5,1022.7 L1295.8,1022.1 L1297.1,1024.0 L1298.4,1023.2 L1299.7,1023.3 L1301.0,1024.7 L1302.3,1020.2 L1303.6,1020.3 L1304.9,1019.2 L1306.2,1020.9 L1307.5,1011.8 L1308.8,1013.6 L1310.1,1014.8 L1311.4,1016.4 L1312.7,1011.9 L1314.0,1012.7 L1315.3,1017.8 L1316.6,1014.2 L1317.9,1014.8 L1319.2,1010.2 L1320.5,1014.4 L1321.8,1012.2 L1323.1,1015.0 L1324.4,1018.4 L1325.7,1016.9 L1327.0,1015.3 L1328.3,1012.0 L1329.6,1015.6 L1330.9,1017.5 L1332.2,1011.6 L1333.5,1014.3 L1334.8,1016.7 L1336.1,1012.3 L1337.4,1014.9 L1338.7,1013.5 L1340.0,1017.7 L1341.3,1013.3 L1342.6,1011.1 L1343.9,1012.2 L1345.2,1017.7 L1346.5,1010.7 L1347.8,1017.5 L1349.1,1011.5 L1350.4,1015.9 L1351.7,1013.1 L1353.0,1016.4 L1354.3,1010.8 L1355.6,1015.3 L1356.9,1016.2 L1358.2,1011.9 L1359.5,1019.5 L1360.8,1016.5 L1362.1,1016.3 L1363.4,1016.1 L1364.7,1016.4 L1366.0,1013.3 L1367.3,1017.0 L1368.6,1012.3 L1369.9,1011.3 L1371.2,1020.2 L1372.5,1017.1 L1373.8,1012.1 L1375.1,1016.3 L1376.4,1015.2 L1377.7,1019.6 L1379.0,1014.8 L1380.3,1021.1 L1381.6,1015.9 L1382.9,1020.8 L1384.2,1022.5 L1385.5,1021.5 L1386.8,1021.7 L1388.1,1022.9 L1389.4,1025.6 L1390.7,1022.0 L1392.0,1024.0 L1393.3,1024.8 L1394.6,1023.1 L1395.9,1022.6 L1397.2,1026.0 L1398.5,1024.3 L1399.8,1024.0 L1401.1,1022.3 L1402.4,1024.7 L1403.7,1025.8 L1405.0,1023.2 L1406.3,1023.1 L1407.6,1026.1 L1408.9,1022.6 L1410.2,1024.4 L1411.5,1022.7 L1412.8,1026.0 L1414.1,1024.0 L1415.4,1023.8 L1416.7,1023.9 L1418.0,1023.4 L1419.3,1024.1 L1420.6,1024.1 L1421.9,1022.2 L1423.2,1025.7 L1424.5,1024.5 L1425.8,1021.8 L1427.1,1023.5 L1428.4,1025.5 L1429.7,1023.0 L1431.0,1023.0 L1432.3,1025.4 L1433.6,1025.4 L1434.9,1022.6 L1436.2,1024.6 L1437.5,1024.0 L1438.8,1024.1 L1440.1,1024.2 L1441.4,1025.3 L1442.7,1024.6 L1444.0,1024.7 L1445.3,1024.0 L1446.6,1024.6 L1447.9,1024.5 L1449.2,1024.4 L1450.5,1024.2 L1451.8,1024.6 L1453.1,1022.0" fill="none" stroke="#d42a2a" stroke-width="1" stroke-linejoin="round"/>
<path d="M1270.1,539.3 L1270.1,552.5 L1291.9,552.5" fill="none" stroke="#555" stroke-width="1.2"/>
<text x="1167.0" y="472.8" font-size="24.60"><tspan fill="#000">Neuron #</tspan></text>
<text x="1382.7" y="472.8" font-size="24.10"><tspan fill="#1aa64e">G-Flamp1</tspan></text>
<text x="1384.4" y="545.1" font-size="24.70"><tspan fill="#c8141e">jRGECO1a</tspan></text>
<text x="1192.8" y="559.6" font-size="19.20"><tspan fill="#0fb04c">0.2</tspan><tspan fill="#000"> / </tspan><tspan fill="#c80a0a">1.5</tspan></text>
<text x="1269.3" y="573.5" font-size="19.10"><tspan fill="#000">20 s</tspan></text>
<text x="1204.6" y="535.0" font-size="18.90"><tspan fill="#000">ΔF/F</tspan></text>
<text x="1246.3" y="540" font-size="12">0</text>
<text x="1248.6" y="499.7" font-size="22.5" text-anchor="middle">1</text>
<text x="1248.6" y="612.8" font-size="22.5" text-anchor="middle">2</text>
<text x="1248.6" y="711.5" font-size="22.5" text-anchor="middle">3</text>
<text x="1248.6" y="811.0" font-size="22.5" text-anchor="middle">4</text>
<text x="1248.6" y="910.5" font-size="22.5" text-anchor="middle">5</text>
<text x="1248.6" y="1009.6" font-size="22.5" text-anchor="middle">6</text>
</svg></body></html>
